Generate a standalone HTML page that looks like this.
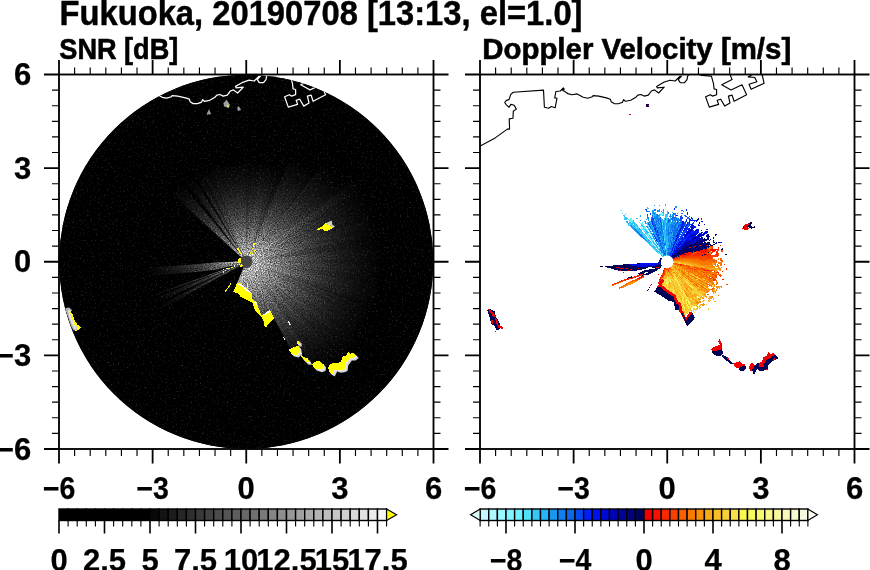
<!DOCTYPE html>
<html lang="en">
<head>
<meta charset="utf-8">
<title>Fukuoka, 20190708 [13:13, el=1.0]</title>
<style>
html,body{margin:0;padding:0;background:#fff;}
body{width:870px;height:570px;overflow:hidden;position:relative;}
svg{position:absolute;left:0;top:0;display:block;}
text{font-family:"Liberation Sans", "DejaVu Sans", sans-serif;font-weight:700;fill:#000;}
.t{font-size:35px;stroke:#000;stroke-width:0.45px;}
.k{font-size:31px;stroke:#000;stroke-width:0.25px;}
.s{font-size:30px;stroke:#000;stroke-width:0.6px;}
.m{text-anchor:middle;}
.e{text-anchor:end;}
</style>
</head>
<body>
<svg width="870" height="570" viewBox="0 0 870 570">
<rect width="870" height="570" fill="#fff"/>

<text class="t" x="59.5" y="25" textLength="523" lengthAdjust="spacingAndGlyphs">Fukuoka, 20190708 [13:13, el=1.0]</text>
<text class="s" x="59.3" y="58.8" textLength="119" lengthAdjust="spacingAndGlyphs">SNR [dB]</text>
<text class="s" x="482.2" y="58.8" textLength="309" lengthAdjust="spacingAndGlyphs">Doppler Velocity [m/s]</text>
<defs>
<clipPath id="cp1"><circle cx="246.25" cy="261.75" r="187.0"/></clipPath>
<filter id="nz" x="0" y="0" width="100%" height="100%" color-interpolation-filters="sRGB">
<feTurbulence type="fractalNoise" baseFrequency="0.55 0.55" numOctaves="2" seed="4" result="t"/>
<feColorMatrix in="t" type="matrix" values="0 0 0 0 1  0 0 0 0 1  0 0 0 0 1  0.6 0 0 0 -0.36"/>
</filter>
<filter id="gr" filterUnits="userSpaceOnUse" x="58" y="73" width="378" height="378" color-interpolation-filters="sRGB">
<feTurbulence type="fractalNoise" baseFrequency="0.85 0.85" numOctaves="2" seed="9" result="t"/>
<feColorMatrix in="t" type="matrix" values="1 0 0 0 0  1 0 0 0 0  1 0 0 0 0  0 0 0 0 1" result="n"/>
<feComposite in="SourceGraphic" in2="n" operator="arithmetic" k1="2.0" k2="0" k3="0" k4="0"/>
</filter>
<filter id="nz2" x="0" y="0" width="100%" height="100%" color-interpolation-filters="sRGB">
<feTurbulence type="fractalNoise" baseFrequency="0.95 0.95" numOctaves="1" seed="9" result="t"/>
<feColorMatrix in="t" type="matrix" values="0 0 0 0 0  0 0 0 0 0  0 0 0 0 0  1.4 0 0 0 -0.56"/>
</filter>
</defs>
<circle cx="246.25" cy="261.75" r="187.0" fill="#000"/>
<g clip-path="url(#cp1)">
<g filter="url(#gr)"><rect x="58" y="73" width="378" height="378" fill="#000"/>
<defs><radialGradient id="g0" gradientUnits="userSpaceOnUse" cx="246.25" cy="261.75" r="102"><stop offset="0.000" stop-color="#c0c0c0"/><stop offset="0.047" stop-color="#bababa"/><stop offset="0.100" stop-color="#b0b0b0"/><stop offset="0.167" stop-color="#9a9a9a"/><stop offset="0.267" stop-color="#767676"/><stop offset="0.400" stop-color="#505050"/><stop offset="0.533" stop-color="#343434"/><stop offset="0.667" stop-color="#1e1e1e"/><stop offset="0.833" stop-color="#0c0c0c"/><stop offset="1.000" stop-color="#000000"/></radialGradient><radialGradient id="g1" gradientUnits="userSpaceOnUse" cx="246.25" cy="261.75" r="114"><stop offset="0.000" stop-color="#c0c0c0"/><stop offset="0.047" stop-color="#bababa"/><stop offset="0.100" stop-color="#b0b0b0"/><stop offset="0.167" stop-color="#9a9a9a"/><stop offset="0.267" stop-color="#767676"/><stop offset="0.400" stop-color="#505050"/><stop offset="0.533" stop-color="#343434"/><stop offset="0.667" stop-color="#1e1e1e"/><stop offset="0.833" stop-color="#0c0c0c"/><stop offset="1.000" stop-color="#000000"/></radialGradient><radialGradient id="g2" gradientUnits="userSpaceOnUse" cx="246.25" cy="261.75" r="126"><stop offset="0.000" stop-color="#c0c0c0"/><stop offset="0.047" stop-color="#bababa"/><stop offset="0.100" stop-color="#b0b0b0"/><stop offset="0.167" stop-color="#9a9a9a"/><stop offset="0.267" stop-color="#767676"/><stop offset="0.400" stop-color="#505050"/><stop offset="0.533" stop-color="#343434"/><stop offset="0.667" stop-color="#1e1e1e"/><stop offset="0.833" stop-color="#0c0c0c"/><stop offset="1.000" stop-color="#000000"/></radialGradient><radialGradient id="g3" gradientUnits="userSpaceOnUse" cx="246.25" cy="261.75" r="138"><stop offset="0.000" stop-color="#c0c0c0"/><stop offset="0.047" stop-color="#bababa"/><stop offset="0.100" stop-color="#b0b0b0"/><stop offset="0.167" stop-color="#9a9a9a"/><stop offset="0.267" stop-color="#767676"/><stop offset="0.400" stop-color="#505050"/><stop offset="0.533" stop-color="#343434"/><stop offset="0.667" stop-color="#1e1e1e"/><stop offset="0.833" stop-color="#0c0c0c"/><stop offset="1.000" stop-color="#000000"/></radialGradient><radialGradient id="g4" gradientUnits="userSpaceOnUse" cx="246.25" cy="261.75" r="150"><stop offset="0.000" stop-color="#c0c0c0"/><stop offset="0.047" stop-color="#bababa"/><stop offset="0.100" stop-color="#b0b0b0"/><stop offset="0.167" stop-color="#9a9a9a"/><stop offset="0.267" stop-color="#767676"/><stop offset="0.400" stop-color="#505050"/><stop offset="0.533" stop-color="#343434"/><stop offset="0.667" stop-color="#1e1e1e"/><stop offset="0.833" stop-color="#0c0c0c"/><stop offset="1.000" stop-color="#000000"/></radialGradient></defs>
<path d="M242.2 258.0L171.2 192.7L172.4 191.4L172.4 191.4L173.6 190.1L173.6 190.1L174.9 188.9L174.9 188.9L176.2 187.6L176.2 187.6L177.5 186.4L177.5 186.4L178.8 185.2L178.8 185.2L180.1 184.1L180.1 184.1L181.5 182.9L242.8 257.5Z" fill="url(#g0)" fill-opacity="0.95"/>
<path d="M242.8 257.5L181.5 182.9L182.9 181.8L182.9 181.8L184.3 180.7L184.3 180.7L184.9 180.3L242.9 257.4Z" fill="url(#g0)" fill-opacity="0.12"/>
<path d="M242.9 257.4L184.9 180.3L186.3 179.2L186.3 179.2L187.7 178.2L187.7 178.2L189.2 177.2L189.2 177.2L190.7 176.2L190.7 176.2L192.0 175.3L243.3 257.1Z" fill="url(#g0)" fill-opacity="0.97"/>
<path d="M243.3 257.1L192.0 175.3L193.6 174.4L193.6 174.4L194.6 173.8L243.5 257.0Z" fill="url(#g0)" fill-opacity="0.2"/>
<path d="M243.5 257.0L194.6 173.8L196.2 172.9L196.2 172.9L197.7 172.0L197.7 172.0L199.3 171.2L199.3 171.2L199.5 171.1L243.7 256.9Z" fill="url(#g0)" fill-opacity="1"/>
<path d="M243.7 256.9L199.5 171.1L201.1 170.3L201.1 170.3L201.2 170.2L243.8 256.8Z" fill="url(#g0)" fill-opacity="0.35"/>
<path d="M243.8 256.8L201.2 170.2L202.8 169.5L202.8 169.5L203.1 169.3L243.9 256.8Z" fill="url(#g0)" fill-opacity="1"/>
<path d="M243.9 256.8L203.1 169.3L204.8 168.6L204.8 168.6L206.4 167.9L206.4 167.9L208.0 167.2L208.0 167.2L209.7 166.5L209.7 166.5L211.4 165.9L211.4 165.9L213.0 165.3L213.0 165.3L214.7 164.7L214.7 164.7L216.4 164.2L216.4 164.2L218.1 163.7L218.1 163.7L219.8 163.2L219.9 163.2L221.6 162.8L221.6 162.8L223.3 162.4L223.3 162.4L225.0 162.0L225.0 162.0L226.8 161.6L226.8 161.6L228.5 161.3L228.5 161.3L230.3 161.0L230.3 161.0L232.1 160.7L232.1 160.7L233.8 160.5L233.8 160.5L235.6 160.3L235.6 160.3L237.4 160.1L237.4 160.1L239.1 160.0L239.1 160.0L240.9 159.9L240.9 159.9L242.7 159.8L242.7 159.8L244.5 159.8L244.5 159.8L246.2 159.8L246.2 256.2Z" fill="url(#g0)" fill-opacity="1"/>
<path d="M246.2 256.2L246.2 159.8L248.0 159.8L248.0 159.8L249.8 159.8L249.8 159.8L251.6 159.9L251.6 159.9L253.4 160.0L253.4 160.0L255.1 160.1L255.1 160.1L256.9 160.3L256.9 160.3L258.7 160.5L258.7 160.5L260.4 160.7L260.4 160.7L262.2 161.0L262.2 161.0L264.0 161.3L264.0 161.3L265.7 161.6L265.7 161.6L267.5 162.0L267.5 162.0L269.2 162.4L269.2 162.4L270.9 162.8L270.9 162.8L272.6 163.2L272.6 163.2L274.4 163.7L274.4 163.7L276.1 164.2L276.1 164.2L277.8 164.7L277.8 164.7L279.5 165.3L279.5 165.3L281.1 165.9L281.1 165.9L282.8 166.5L282.8 166.5L284.5 167.2L284.5 167.2L290.8 156.8L248.4 256.7Z" fill="url(#g0)" fill-opacity="1"/>
<path d="M248.4 256.7L290.8 156.8L292.6 157.6L292.6 157.6L294.4 158.4L294.4 158.4L296.2 159.3L296.2 159.3L298.0 160.2L298.0 160.2L299.8 161.1L299.8 161.1L301.5 162.0L301.5 162.0L303.2 163.0L303.2 163.0L305.0 164.0L305.0 164.0L306.7 165.1L306.7 165.1L308.3 166.1L308.3 166.1L310.0 167.2L310.0 167.2L311.6 168.4L311.6 168.4L313.3 169.5L313.3 169.5L314.9 170.7L314.9 170.7L323.8 162.5L249.6 257.4Z" fill="url(#g1)" fill-opacity="1"/>
<path d="M249.6 257.4L323.8 162.5L325.5 163.8L325.5 163.8L327.2 165.2L327.2 165.2L328.9 166.7L328.9 166.7L330.6 168.1L330.6 168.1L332.2 169.6L332.2 169.6L333.8 171.1L333.8 171.1L335.3 172.7L335.3 172.7L336.9 174.2L336.9 174.2L338.4 175.8L338.4 175.8L339.9 177.4L339.9 177.4L341.3 179.1L341.3 179.1L342.8 180.8L342.8 180.8L344.2 182.5L344.2 182.5L345.5 184.2L345.5 184.2L356.5 178.7L250.6 258.4Z" fill="url(#g2)" fill-opacity="1"/>
<path d="M250.6 258.4L356.5 178.7L357.9 180.6L357.9 180.6L359.3 182.6L359.3 182.6L360.7 184.6L360.7 184.6L362.0 186.6L362.0 186.6L363.3 188.6L363.3 188.6L364.5 190.7L364.5 190.7L365.8 192.7L365.8 192.8L366.9 194.8L366.9 194.8L368.1 197.0L368.1 197.0L369.2 199.1L369.2 199.1L370.3 201.3L370.3 201.3L371.3 203.4L371.3 203.4L372.3 205.6L372.3 205.6L373.3 207.8L373.3 207.8L374.2 210.1L374.2 210.1L375.1 212.3L375.1 212.3L375.9 214.5L375.9 214.6L376.7 216.8L376.7 216.8L377.5 219.1L377.5 219.1L378.2 221.4L378.2 221.4L378.9 223.7L378.9 223.7L379.5 226.0L379.5 226.0L380.2 228.4L380.2 228.4L380.7 230.7L380.7 230.7L381.2 233.1L381.2 233.1L381.7 235.4L381.7 235.4L382.2 237.8L382.2 237.8L382.6 240.2L382.6 240.2L382.9 242.5L382.9 242.5L383.2 244.9L383.2 244.9L383.5 247.3L383.5 247.3L383.7 249.7L383.7 249.7L383.9 252.1L383.9 252.1L384.1 254.5L384.1 254.5L384.2 256.9L384.2 256.9L384.2 259.3L384.2 259.3L384.2 261.7L384.2 261.7L384.2 264.2L384.2 264.2L384.2 266.6L384.2 266.6L384.1 269.0L384.1 269.0L383.9 271.4L383.9 271.4L383.7 273.8L383.7 273.8L383.5 276.2L383.5 276.2L383.2 278.6L383.2 278.6L382.9 281.0L382.9 281.0L382.6 283.3L382.6 283.3L382.2 285.7L382.2 285.7L381.7 288.1L381.7 288.1L381.2 290.4L381.2 290.4L380.7 292.8L380.7 292.8L380.2 295.1L380.2 295.1L379.5 297.5L379.5 297.5L378.9 299.8L378.9 299.8L378.2 302.1L378.2 302.1L377.5 304.4L377.5 304.4L376.7 306.7L376.7 306.7L375.9 308.9L375.9 308.9L375.1 311.2L375.1 311.2L374.2 313.4L374.2 313.4L373.3 315.7L373.3 315.7L372.3 317.9L372.3 317.9L371.3 320.1L371.3 320.1L370.3 322.2L370.3 322.2L369.2 324.4L369.2 324.4L368.1 326.5L368.1 326.5L366.9 328.7L366.9 328.7L365.8 330.7L365.8 330.7L364.5 332.8L364.5 332.8L363.3 334.9L363.3 334.9L362.0 336.9L362.0 336.9L360.7 338.9L360.7 338.9L359.3 340.9L359.3 340.9L357.9 342.9L357.9 342.9L356.5 344.8L356.5 344.8L355.0 346.7L355.0 346.7L353.5 348.6L353.5 348.6L352.0 350.5L352.0 350.5L350.4 352.3L350.4 352.3L348.2 353.5L348.2 353.5L347.0 355.7L347.0 355.7L344.8 357.0L344.8 357.0L342.8 358.3L342.8 358.3L342.1 361.0L342.1 361.0L340.4 362.7L340.4 362.7L338.1 363.7L338.1 363.7L335.2 364.0L335.1 364.0L332.3 364.3L332.3 364.3L330.4 365.7L330.4 365.7L329.1 367.7L329.1 367.7L324.5 365.6L324.5 365.6L318.8 361.6L318.8 361.6L316.7 362.3L316.7 362.3L314.8 363.4L314.8 363.4L313.1 364.7L313.1 364.7L307.0 358.9L307.0 358.9L297.5 347.1L297.5 347.1L295.8 347.6L295.8 347.6L294.2 348.2L294.2 348.2L292.6 348.9L292.6 348.9L291.0 349.6L291.0 349.6L270.8 312.2L270.8 312.1L269.3 311.3L269.3 311.3L268.6 311.8L268.6 311.8L267.8 312.4L267.8 312.4L267.0 313.0L266.9 313.0L266.1 313.6L266.1 313.6L265.3 314.1L265.3 314.1L264.5 314.7L264.5 314.7L263.7 315.3L263.7 315.3L262.8 315.9L262.8 315.9L262.0 316.5L262.0 316.5L258.8 308.7L258.8 308.7L256.4 302.4L256.4 302.4L255.5 301.7L255.5 301.6L254.7 301.5L254.7 301.5L254.0 301.4L254.0 301.4L253.2 301.2L253.2 301.2L251.2 293.0L251.2 293.0L250.6 292.5L250.6 292.5L250.0 292.0L250.0 292.0L249.4 291.5L249.4 291.5L248.8 291.1L248.8 291.1L248.3 290.7L248.3 290.7L247.7 290.3L247.7 290.3L247.2 289.9L247.2 289.9L246.7 289.5L246.7 289.5L246.3 289.1L246.2 289.1L245.8 288.7L245.8 288.7L245.3 288.4L245.3 288.4L244.9 288.0L244.9 288.0L244.4 287.7L244.4 287.7L244.0 287.3L244.0 287.3L243.6 287.0L243.6 287.0L243.2 286.7L243.2 286.7L242.8 286.4L242.8 286.4L242.4 286.1L242.4 286.1L242.0 285.8L242.0 285.8L241.6 285.5L241.6 285.5L241.3 285.2L241.3 285.2L240.9 284.9L240.9 284.9L240.6 284.6L240.6 284.6L240.2 284.4L240.2 284.4L239.8 284.3L239.8 284.3L239.4 284.3L239.4 284.3L238.9 284.2L238.9 284.2L238.5 284.2L238.5 284.2L238.1 284.2L238.1 284.2L237.7 284.1L237.7 284.1L237.2 284.1L237.2 284.1L236.8 284.0L236.8 284.0L236.7 284.0L244.1 266.8Z" fill="url(#g3)" fill-opacity="1"/>
<path d="M235.3 252.1L169.9 194.2L171.0 192.8L235.5 251.9Z" fill="url(#g0)" fill-opacity="0.23"/>
<path d="M240.4 256.2L172.3 191.5L173.5 190.3L240.5 256.1Z" fill="#000" fill-opacity="0.05"/>
<path d="M237.6 253.2L173.5 190.3L174.8 189.0L237.7 253.1Z" fill="url(#g0)" fill-opacity="0.13"/>
<path d="M240.2 255.6L174.4 189.4L176.4 187.4L240.3 255.5Z" fill="#000" fill-opacity="0.07"/>
<path d="M240.7 255.7L177.3 186.5L178.7 185.4L240.8 255.6Z" fill="#000" fill-opacity="0.15"/>
<path d="M235.8 250.0L178.7 185.4L180.0 184.2L236.0 249.8Z" fill="url(#g0)" fill-opacity="0.11"/>
<path d="M236.6 250.5L180.0 184.2L181.4 183.0L236.8 250.3Z" fill="#000" fill-opacity="0.15"/>
<path d="M240.8 255.1L181.4 183.0L182.8 181.9L240.9 255.0Z" fill="#000" fill-opacity="0.17"/>
<path d="M240.3 254.1L183.2 181.6L186.6 179.0L240.6 253.9Z" fill="#000" fill-opacity="0.18"/>
<path d="M240.7 254.2L185.6 179.8L187.0 178.7L240.8 254.1Z" fill="#000" fill-opacity="0.06"/>
<path d="M239.1 251.7L187.0 178.7L188.5 177.7L239.2 251.6Z" fill="#000" fill-opacity="0.15"/>
<path d="M239.9 252.3L189.5 177.0L191.9 175.4L240.2 252.2Z" fill="#000" fill-opacity="0.09"/>
<path d="M242.2 255.4L191.4 175.7L193.0 174.8L242.3 255.3Z" fill="#000" fill-opacity="0.11"/>
<path d="M242.5 255.6L193.4 174.5L197.1 172.4L242.8 255.5Z" fill="#000" fill-opacity="0.14"/>
<path d="M241.0 252.0L197.6 172.1L199.2 171.3L241.1 251.9Z" fill="#000" fill-opacity="0.12"/>
<path d="M240.1 249.4L200.7 170.5L202.3 169.7L240.3 249.3Z" fill="url(#g0)" fill-opacity="0.27"/>
<path d="M240.6 249.0L205.1 168.4L207.7 167.3L241.0 248.8Z" fill="#000" fill-opacity="0.09"/>
<path d="M240.5 248.2L206.7 167.7L209.4 166.7L240.9 248.0Z" fill="#000" fill-opacity="0.14"/>
<path d="M243.0 253.5L208.9 166.8L210.5 166.2L243.1 253.4Z" fill="#000" fill-opacity="0.17"/>
<path d="M242.7 252.3L210.5 166.2L212.2 165.6L242.9 252.3Z" fill="url(#g0)" fill-opacity="0.15"/>
<path d="M243.1 252.5L213.4 165.2L216.1 164.3L243.4 252.4Z" fill="url(#g0)" fill-opacity="0.14"/>
<path d="M241.6 246.5L216.8 164.1L219.5 163.3L242.1 246.3Z" fill="url(#g0)" fill-opacity="0.22"/>
<path d="M244.2 254.8L217.8 163.8L221.9 162.7L244.5 254.7Z" fill="#000" fill-opacity="0.05"/>
<path d="M244.2 253.7L221.2 162.9L225.4 161.9L244.6 253.6Z" fill="#000" fill-opacity="0.08"/>
<path d="M243.3 247.5L225.4 161.9L228.2 161.4L243.7 247.4Z" fill="url(#g0)" fill-opacity="0.24"/>
<path d="M243.9 249.3L227.7 161.5L229.4 161.1L244.2 249.3Z" fill="#000" fill-opacity="0.14"/>
<path d="M245.1 254.3L231.2 160.9L232.9 160.6L245.3 254.3Z" fill="#000" fill-opacity="0.10"/>
<path d="M244.2 246.1L232.9 160.6L234.7 160.4L244.5 246.1Z" fill="#000" fill-opacity="0.06"/>
<path d="M244.9 250.5L234.2 160.5L237.0 160.2L245.2 250.5Z" fill="url(#g0)" fill-opacity="0.18"/>
<path d="M245.5 253.8L236.5 160.2L238.2 160.1L245.6 253.8Z" fill="#000" fill-opacity="0.10"/>
<path d="M245.2 247.0L238.8 160.0L243.0 159.8L245.8 246.9Z" fill="url(#g0)" fill-opacity="0.12"/>
<path d="M245.9 254.2L241.3 159.9L244.1 159.8L246.1 254.2Z" fill="#000" fill-opacity="0.11"/>
<path d="M246.1 247.9L245.4 159.8L247.1 159.8L246.4 247.9Z" fill="#000" fill-opacity="0.12"/>
<path d="M246.3 247.2L246.6 159.8L249.5 159.8L246.7 247.2Z" fill="#000" fill-opacity="0.14"/>
<path d="M246.6 246.1L248.4 159.8L251.2 159.9L247.0 246.2Z" fill="#000" fill-opacity="0.18"/>
<path d="M246.7 250.5L250.7 159.8L252.5 159.9L246.9 250.5Z" fill="#000" fill-opacity="0.07"/>
<path d="M247.3 247.4L253.7 160.0L256.6 160.3L247.7 247.5Z" fill="#000" fill-opacity="0.08"/>
<path d="M247.1 252.3L255.5 160.2L258.3 160.5L247.4 252.4Z" fill="url(#g0)" fill-opacity="0.24"/>
<path d="M247.3 251.7L256.6 160.3L260.8 160.8L247.7 251.7Z" fill="#000" fill-opacity="0.17"/>
<path d="M248.1 250.2L262.6 161.1L265.4 161.6L248.4 250.3Z" fill="url(#g0)" fill-opacity="0.28"/>
<path d="M249.0 246.6L264.3 161.4L267.1 161.9L249.4 246.6Z" fill="url(#g0)" fill-opacity="0.11"/>
<path d="M247.9 253.4L265.4 161.6L269.5 162.4L248.2 253.4Z" fill="url(#g0)" fill-opacity="0.22"/>
<path d="M248.4 252.3L268.8 162.3L273.0 163.3L248.8 252.4Z" fill="url(#g0)" fill-opacity="0.21"/>
<path d="M249.6 248.7L271.3 162.9L274.0 163.6L249.9 248.8Z" fill="url(#g0)" fill-opacity="0.25"/>
<path d="M249.5 249.6L272.3 163.1L276.4 164.3L250.0 249.7Z" fill="#000" fill-opacity="0.06"/>
<path d="M249.9 249.6L275.2 164.0L276.9 164.5L250.1 249.7Z" fill="#000" fill-opacity="0.15"/>
<path d="M248.8 253.7L276.9 164.5L278.6 165.0L248.9 253.7Z" fill="#000" fill-opacity="0.11"/>
<path d="M249.1 253.5L279.1 165.2L283.1 166.7L249.4 253.6Z" fill="#000" fill-opacity="0.18"/>
<path d="M250.6 249.6L280.8 165.8L284.8 167.3L251.1 249.7Z" fill="#000" fill-opacity="0.11"/>
<path d="M248.8 255.2L283.1 166.7L285.8 167.7L249.0 255.3Z" fill="#000" fill-opacity="0.07"/>
<path d="M251.7 248.0L288.6 155.9L293.0 157.8L252.3 248.3Z" fill="#000" fill-opacity="0.08"/>
<path d="M251.0 250.8L291.7 157.2L293.5 158.0L251.2 250.9Z" fill="url(#g1)" fill-opacity="0.19"/>
<path d="M252.6 247.6L293.0 157.8L295.9 159.1L253.0 247.7Z" fill="#000" fill-opacity="0.08"/>
<path d="M250.9 252.0L295.3 158.9L297.1 159.7L251.1 252.1Z" fill="#000" fill-opacity="0.09"/>
<path d="M250.1 254.3L298.9 160.6L300.6 161.6L250.3 254.4Z" fill="url(#g1)" fill-opacity="0.15"/>
<path d="M253.7 247.9L300.6 161.6L302.4 162.5L254.0 248.1Z" fill="#000" fill-opacity="0.11"/>
<path d="M251.4 252.7L302.4 162.5L304.1 163.5L251.5 252.8Z" fill="url(#g1)" fill-opacity="0.15"/>
<path d="M251.3 253.2L304.1 163.5L305.8 164.5L251.4 253.3Z" fill="#000" fill-opacity="0.17"/>
<path d="M252.4 252.1L307.5 165.6L309.2 166.7L252.6 252.2Z" fill="url(#g1)" fill-opacity="0.17"/>
<path d="M254.7 248.6L308.0 165.9L312.0 168.6L255.3 249.0Z" fill="url(#g1)" fill-opacity="0.22"/>
<path d="M252.9 252.4L312.0 168.6L314.5 170.5L253.1 252.6Z" fill="url(#g1)" fill-opacity="0.13"/>
<path d="M253.0 252.5L313.6 169.8L316.1 171.7L253.3 252.7Z" fill="#000" fill-opacity="0.08"/>
<path d="M254.1 251.5L323.0 161.8L324.7 163.1L254.3 251.6Z" fill="#000" fill-opacity="0.11"/>
<path d="M255.4 250.6L326.4 164.5L328.1 165.9L255.6 250.8Z" fill="#000" fill-opacity="0.05"/>
<path d="M252.2 254.7L327.6 165.5L330.2 167.8L252.4 254.9Z" fill="#000" fill-opacity="0.11"/>
<path d="M252.4 254.6L328.6 166.4L332.5 169.9L252.7 254.9Z" fill="url(#g2)" fill-opacity="0.09"/>
<path d="M253.9 253.3L330.9 168.4L333.5 170.8L254.2 253.5Z" fill="#000" fill-opacity="0.18"/>
<path d="M251.3 256.7L334.6 171.9L336.1 173.4L251.3 256.7Z" fill="url(#g2)" fill-opacity="0.25"/>
<path d="M255.1 252.9L335.7 173.0L338.1 175.5L255.4 253.2Z" fill="#000" fill-opacity="0.08"/>
<path d="M251.7 256.8L339.1 176.6L340.6 178.3L251.7 256.9Z" fill="#000" fill-opacity="0.09"/>
<path d="M257.5 251.8L340.6 178.3L342.1 179.9L257.6 252.0Z" fill="#000" fill-opacity="0.10"/>
<path d="M255.5 253.6L341.1 178.8L344.4 182.8L255.9 254.0Z" fill="url(#g2)" fill-opacity="0.08"/>
<path d="M257.5 252.2L342.5 180.4L345.8 184.5L257.9 252.7Z" fill="url(#g2)" fill-opacity="0.27"/>
<path d="M258.2 252.6L355.7 177.7L357.2 179.7L258.4 252.8Z" fill="url(#g3)" fill-opacity="0.22"/>
<path d="M257.9 253.0L356.8 179.1L359.0 182.2L258.1 253.4Z" fill="url(#g3)" fill-opacity="0.23"/>
<path d="M256.7 254.2L358.2 181.0L360.4 184.2L256.9 254.5Z" fill="url(#g3)" fill-opacity="0.17"/>
<path d="M255.6 255.3L360.0 183.6L361.3 185.6L255.7 255.5Z" fill="url(#g3)" fill-opacity="0.14"/>
<path d="M256.1 255.2L360.9 185.0L363.0 188.2L256.3 255.4Z" fill="url(#g3)" fill-opacity="0.18"/>
<path d="M252.7 257.7L362.6 187.6L363.9 189.6L252.7 257.8Z" fill="#000" fill-opacity="0.12"/>
<path d="M257.3 255.0L363.9 189.6L365.2 191.7L257.4 255.2Z" fill="#000" fill-opacity="0.15"/>
<path d="M260.0 253.6L365.2 191.7L366.4 193.8L260.2 253.9Z" fill="#000" fill-opacity="0.14"/>
<path d="M257.3 255.8L367.5 195.9L368.7 198.0L257.4 256.0Z" fill="#000" fill-opacity="0.16"/>
<path d="M258.2 255.7L369.4 199.5L371.1 203.0L258.3 256.1Z" fill="#000" fill-opacity="0.17"/>
<path d="M255.9 257.1L370.8 202.3L371.8 204.5L256.0 257.3Z" fill="#000" fill-opacity="0.07"/>
<path d="M257.2 256.8L371.8 204.5L372.8 206.7L257.3 257.0Z" fill="#000" fill-opacity="0.13"/>
<path d="M253.1 258.7L372.5 206.1L374.0 209.6L253.2 258.9Z" fill="url(#g3)" fill-opacity="0.23"/>
<path d="M252.8 259.0L373.7 208.9L374.6 211.2L252.8 259.2Z" fill="url(#g3)" fill-opacity="0.23"/>
<path d="M256.8 257.4L374.0 209.6L376.1 215.0L257.0 257.9Z" fill="#000" fill-opacity="0.14"/>
<path d="M254.1 258.9L376.1 215.0L377.3 218.6L254.2 259.1Z" fill="#000" fill-opacity="0.05"/>
<path d="M255.1 258.8L377.1 218.0L377.9 220.3L255.2 258.9Z" fill="url(#g3)" fill-opacity="0.18"/>
<path d="M257.3 258.2L377.6 219.6L378.8 223.2L257.4 258.5Z" fill="url(#g3)" fill-opacity="0.13"/>
<path d="M256.9 258.5L378.4 221.9L379.4 225.6L256.9 258.8Z" fill="#000" fill-opacity="0.07"/>
<path d="M258.7 258.3L379.2 224.9L379.9 227.2L258.7 258.5Z" fill="#000" fill-opacity="0.06"/>
<path d="M260.5 258.1L379.9 227.2L380.4 229.5L260.6 258.3Z" fill="#000" fill-opacity="0.13"/>
<path d="M260.7 258.1L380.0 227.9L381.3 233.5L260.8 258.7Z" fill="url(#g3)" fill-opacity="0.17"/>
<path d="M257.8 259.2L381.0 231.9L381.5 234.2L257.9 259.4Z" fill="url(#g3)" fill-opacity="0.14"/>
<path d="M259.1 259.0L381.1 232.6L382.2 238.3L259.2 259.5Z" fill="#000" fill-opacity="0.16"/>
<path d="M260.4 259.0L381.6 234.9L382.6 240.6L260.5 259.5Z" fill="#000" fill-opacity="0.06"/>
<path d="M260.6 259.3L382.2 238.3L382.8 242.1L260.6 259.7Z" fill="#000" fill-opacity="0.13"/>
<path d="M260.2 259.6L382.6 240.6L383.2 244.5L260.3 260.0Z" fill="#000" fill-opacity="0.17"/>
<path d="M259.0 260.0L383.0 243.0L383.4 246.8L259.0 260.4Z" fill="#000" fill-opacity="0.14"/>
<path d="M258.5 260.6L383.6 248.5L383.8 250.9L258.5 260.8Z" fill="#000" fill-opacity="0.16"/>
<path d="M253.8 261.1L383.7 249.2L384.1 255.0L253.8 261.4Z" fill="url(#g3)" fill-opacity="0.23"/>
<path d="M253.6 261.3L384.0 253.3L384.1 255.7L253.6 261.4Z" fill="#000" fill-opacity="0.07"/>
<path d="M257.1 261.5L384.2 258.1L384.2 260.5L257.1 261.7Z" fill="url(#g3)" fill-opacity="0.23"/>
<path d="M256.2 261.5L384.2 258.9L384.2 264.6L256.2 262.0Z" fill="#000" fill-opacity="0.17"/>
<path d="M253.9 261.8L384.2 263.0L384.2 265.4L253.9 262.0Z" fill="url(#g3)" fill-opacity="0.12"/>
<path d="M255.7 262.3L384.0 270.2L383.8 272.6L255.7 262.5Z" fill="url(#g3)" fill-opacity="0.19"/>
<path d="M253.5 262.3L383.8 272.6L383.6 275.0L253.5 262.4Z" fill="#000" fill-opacity="0.08"/>
<path d="M261.6 263.4L383.4 276.7L383.0 280.5L261.5 263.8Z" fill="#000" fill-opacity="0.15"/>
<path d="M260.8 263.5L383.3 278.1L382.5 283.8L260.7 264.1Z" fill="url(#g3)" fill-opacity="0.21"/>
<path d="M255.8 263.1L382.8 281.4L382.2 285.2L255.7 263.4Z" fill="#000" fill-opacity="0.15"/>
<path d="M253.5 263.0L382.4 284.5L381.9 286.9L253.4 263.1Z" fill="url(#g3)" fill-opacity="0.23"/>
<path d="M261.2 264.6L381.8 287.6L380.6 293.3L261.1 265.2Z" fill="url(#g3)" fill-opacity="0.21"/>
<path d="M255.5 263.9L380.6 293.3L379.7 297.0L255.5 264.2Z" fill="url(#g3)" fill-opacity="0.12"/>
<path d="M261.1 266.1L378.6 300.9L377.9 303.2L261.0 266.4Z" fill="#000" fill-opacity="0.07"/>
<path d="M253.0 263.8L378.1 302.6L376.9 306.2L252.9 264.0Z" fill="url(#g3)" fill-opacity="0.17"/>
<path d="M254.4 264.4L377.6 303.9L375.8 309.4L254.3 264.7Z" fill="#000" fill-opacity="0.15"/>
<path d="M260.8 266.8L376.6 307.1L375.3 310.8L260.7 267.2Z" fill="#000" fill-opacity="0.16"/>
<path d="M260.6 267.4L374.6 312.3L373.7 314.6L260.5 267.7Z" fill="#000" fill-opacity="0.15"/>
<path d="M256.9 266.1L373.7 314.6L372.8 316.8L256.8 266.3Z" fill="#000" fill-opacity="0.07"/>
<path d="M255.2 265.7L372.5 317.4L370.1 322.7L255.0 266.1Z" fill="#000" fill-opacity="0.16"/>
<path d="M254.0 265.5L370.8 321.2L369.8 323.3L254.0 265.6Z" fill="#000" fill-opacity="0.05"/>
<path d="M253.2 265.2L369.8 323.3L368.7 325.5L253.1 265.3Z" fill="url(#g3)" fill-opacity="0.16"/>
<path d="M257.2 267.5L368.7 325.5L367.5 327.6L257.1 267.7Z" fill="#000" fill-opacity="0.06"/>
<path d="M256.2 267.3L366.7 329.1L364.8 332.4L256.0 267.6Z" fill="#000" fill-opacity="0.04"/>
<path d="M257.9 268.6L365.2 331.8L363.9 333.9L257.8 268.8Z" fill="url(#g3)" fill-opacity="0.16"/>
<path d="M256.4 268.2L362.6 335.9L361.3 337.9L256.2 268.4Z" fill="#000" fill-opacity="0.10"/>
<path d="M258.3 269.6L361.7 337.3L359.6 340.5L258.1 270.0Z" fill="#000" fill-opacity="0.11"/>
<path d="M255.5 268.1L360.0 339.9L358.6 341.9L255.4 268.3Z" fill="#000" fill-opacity="0.06"/>
<path d="M254.0 267.3L358.6 341.9L357.2 343.8L253.9 267.4Z" fill="url(#g3)" fill-opacity="0.24"/>
<path d="M257.6 270.2L357.2 343.8L355.7 345.8L257.5 270.4Z" fill="url(#g3)" fill-opacity="0.13"/>
<path d="M257.0 270.4L353.8 348.2L350.1 352.6L256.6 270.8Z" fill="#000" fill-opacity="0.15"/>
<path d="M255.5 269.7L351.2 351.4L349.6 353.2L255.4 269.8Z" fill="url(#g3)" fill-opacity="0.26"/>
<path d="M256.4 270.7L349.0 352.6L347.4 354.4L256.2 270.9Z" fill="#000" fill-opacity="0.15"/>
<path d="M255.1 269.9L346.8 354.9L342.8 359.0L254.7 270.3Z" fill="#000" fill-opacity="0.15"/>
<path d="M252.9 268.3L343.7 357.5L342.0 359.2L252.8 268.4Z" fill="#000" fill-opacity="0.08"/>
<path d="M254.6 270.2L343.0 360.2L341.2 361.9L254.4 270.4Z" fill="url(#g3)" fill-opacity="0.14"/>
<path d="M256.0 272.4L339.0 362.9L337.2 364.5L255.8 272.6Z" fill="#000" fill-opacity="0.06"/>
<path d="M252.3 268.6L336.0 363.2L334.3 364.8L252.1 268.7Z" fill="#000" fill-opacity="0.08"/>
<path d="M252.9 269.5L333.7 363.1L330.8 365.5L252.7 269.7Z" fill="#000" fill-opacity="0.09"/>
<path d="M254.9 272.2L331.3 365.0L329.5 366.4L254.7 272.3Z" fill="#000" fill-opacity="0.13"/>
<path d="M254.1 271.7L330.0 367.0L328.1 368.5L254.0 271.8Z" fill="#000" fill-opacity="0.11"/>
<path d="M255.0 272.9L326.7 363.9L322.3 367.2L254.5 273.2Z" fill="#000" fill-opacity="0.15"/>
<path d="M252.9 270.7L319.7 361.0L317.9 362.2L252.7 270.8Z" fill="#000" fill-opacity="0.08"/>
<path d="M253.1 271.4L317.6 361.7L315.8 362.9L252.9 271.5Z" fill="#000" fill-opacity="0.10"/>
<path d="M253.7 272.6L315.3 363.3L311.0 366.1L253.2 272.9Z" fill="url(#g3)" fill-opacity="0.10"/>
<path d="M252.3 271.3L307.8 358.4L306.1 359.5L252.2 271.4Z" fill="#000" fill-opacity="0.04"/>
<path d="M253.6 274.1L297.0 346.9L294.6 348.3L253.3 274.3Z" fill="#000" fill-opacity="0.07"/>
<path d="M251.3 270.7L294.9 347.8L293.4 348.6L251.2 270.8Z" fill="#000" fill-opacity="0.11"/>
<path d="M251.9 273.0L271.3 311.9L270.4 312.4L251.7 273.1Z" fill="url(#g3)" fill-opacity="0.26"/>
<path d="M251.2 272.0L269.8 311.1L268.9 311.5L251.0 272.1Z" fill="#000" fill-opacity="0.06"/>
<path d="M252.0 274.3L269.0 311.7L268.1 312.0L251.7 274.4Z" fill="#000" fill-opacity="0.06"/>
<path d="M250.8 272.1L268.5 312.1L267.0 312.7L250.5 272.2Z" fill="#000" fill-opacity="0.17"/>
<path d="M251.7 274.9L267.4 312.8L266.5 313.2L251.5 275.0Z" fill="url(#g3)" fill-opacity="0.19"/>
<path d="M251.5 275.1L266.6 313.4L265.7 313.7L251.3 275.2Z" fill="#000" fill-opacity="0.04"/>
<path d="M250.4 272.6L266.0 313.9L264.6 314.4L250.1 272.7Z" fill="#000" fill-opacity="0.13"/>
<path d="M250.1 272.1L265.6 314.3L263.4 315.1L249.6 272.3Z" fill="url(#g3)" fill-opacity="0.19"/>
<path d="M249.8 273.0L263.3 315.8L262.3 316.0L249.6 273.1Z" fill="url(#g3)" fill-opacity="0.27"/>
<path d="M248.8 271.0L259.2 308.6L258.4 308.8L248.6 271.0Z" fill="#000" fill-opacity="0.12"/>
<path d="M249.4 273.8L257.0 302.3L255.8 302.5L249.1 273.9Z" fill="#000" fill-opacity="0.05"/>
<path d="M248.1 271.0L254.3 301.3L253.6 301.4L248.0 271.1Z" fill="#000" fill-opacity="0.18"/>
<path d="M248.8 276.6L251.6 292.9L250.8 293.0L248.4 276.7Z" fill="#000" fill-opacity="0.15"/>
<path d="M247.9 273.0L250.8 292.4L250.3 292.5L247.7 273.0Z" fill="url(#g3)" fill-opacity="0.25"/>
<path d="M248.4 277.4L250.4 292.0L249.5 292.1L248.0 277.4Z" fill="#000" fill-opacity="0.06"/>
<path d="M247.7 274.7L249.6 291.5L249.1 291.6L247.5 274.7Z" fill="url(#g3)" fill-opacity="0.16"/>
<path d="M247.7 276.9L249.1 291.1L248.6 291.1L247.4 276.9Z" fill="#000" fill-opacity="0.15"/>
<path d="M247.4 276.3L248.5 290.7L248.0 290.7L247.1 276.3Z" fill="url(#g3)" fill-opacity="0.16"/>
<path d="M246.9 276.7L247.5 289.8L247.0 289.9L246.6 276.7Z" fill="url(#g3)" fill-opacity="0.28"/>
<path d="M246.7 275.9L247.1 289.5L246.3 289.5L246.3 275.9Z" fill="#000" fill-opacity="0.08"/>
<path d="M246.4 274.4L246.5 289.1L246.0 289.1L246.1 274.4Z" fill="#000" fill-opacity="0.17"/>
<path d="M246.1 272.5L245.9 288.4L244.8 288.3L245.6 272.5Z" fill="#000" fill-opacity="0.05"/>
<path d="M245.8 271.5L245.1 288.0L244.6 288.0L245.7 271.5Z" fill="#000" fill-opacity="0.11"/>
<path d="M245.8 270.4L244.8 287.7L244.1 287.6L245.5 270.4Z" fill="#000" fill-opacity="0.12"/>
<path d="M245.4 272.6L244.2 287.3L243.8 287.3L245.2 272.6Z" fill="#000" fill-opacity="0.06"/>
<path d="M245.0 275.3L243.9 287.0L243.2 287.0L244.6 275.2Z" fill="#000" fill-opacity="0.05"/>
<path d="M245.1 271.6L243.4 286.7L243.0 286.7L245.0 271.5Z" fill="#000" fill-opacity="0.11"/>
<path d="M244.0 276.6L242.6 286.1L242.2 286.0L243.8 276.6Z" fill="url(#g3)" fill-opacity="0.27"/>
<path d="M245.1 268.7L242.2 285.8L241.8 285.7L245.0 268.6Z" fill="url(#g3)" fill-opacity="0.24"/>
<path d="M244.8 270.0L242.0 285.5L241.3 285.4L244.5 269.9Z" fill="url(#g3)" fill-opacity="0.10"/>
<path d="M243.7 275.1L241.8 285.3L240.8 285.1L243.1 275.0Z" fill="url(#g3)" fill-opacity="0.10"/>
<path d="M243.2 271.6L239.1 284.3L238.7 284.2L243.0 271.5Z" fill="url(#g3)" fill-opacity="0.27"/>
<path d="M242.5 272.2L238.3 284.2L237.9 284.1L242.4 272.2Z" fill="#000" fill-opacity="0.09"/>
<path d="M243.0 270.4L237.9 284.2L237.5 284.0L242.9 270.3Z" fill="url(#g3)" fill-opacity="0.23"/>
<path d="M240.8 261.6L216.3 262.5L194.3 264.6L144.4 268.0L145.2 275.9L195.3 272.0L217.3 269.5L241.0 263.4Z" fill="url(#g0)" fill-opacity="0.80"/>
<path d="M240.8 261.6L216.3 262.5L194.3 264.6L144.4 268.0L144.8 272.4L194.6 268.1L216.5 265.9L240.8 262.5Z" fill="url(#g0)" fill-opacity="0.50"/>
<path d="M240.8 261.6L216.3 262.5L194.3 264.6L144.4 268.0L144.6 269.6L194.4 265.9L216.3 263.8L240.8 262.1Z" fill="url(#g0)" fill-opacity="0.50"/>
<path d="M241.0 263.5L156.6 293.3L157.2 294.9L241.1 263.7Z" fill="url(#g0)" fill-opacity="1.00"/>
<path d="M241.1 263.8L157.9 296.7L159.9 301.3L241.3 264.1Z" fill="url(#g0)" fill-opacity="0.75"/>
<path d="M241.3 264.2L161.3 304.3L163.3 308.1L241.5 264.5Z" fill="url(#g0)" fill-opacity="0.68"/>
<path d="M241.3 264.1L191.9 287.1L192.4 288.2L241.3 264.2Z" fill="url(#g0)" fill-opacity="0.20"/>
<path d="M241.5 264.5L225.4 273.6L225.9 274.5L241.7 264.8Z" fill="url(#g0)" fill-opacity="0.30"/>
</g>
<rect x="59" y="74" width="376" height="376" filter="url(#nz)"/>
<circle cx="246.25" cy="261.75" r="6.3" fill="#464646"/>
<g shape-rendering="crispEdges">
<path fill="#ffff00"  d="M237.1 283.1L240.5 283.4L251.3 292.2L252.7 300.2L255.9 300.8L261.6 315.6L269.6 309.9L274.3 317.9L266.1 327.0L264.4 325.8L263.3 320.1L259.9 315.0L255.9 311.6L253.6 306.5L253.0 303.0L247.9 300.2L240.5 296.8L237.7 292.8L233.1 292.2L235.4 287.1Z"/>
<path fill="none" stroke="#fff" stroke-width="1.4" d="M238 284.6L241 285L250.6 293.2M254.6 302L257 304.6M264.5 314.6L269.6 311.2"/>
<path fill="#ffff00"  d="M230.4 283.4L231.4 284.0L225.6 292.0L224.8 291.4Z"/>
<path fill="none" stroke="#e8e8e8" stroke-width="1.1" d="M247.3 283L247.3 288.2M288.4 321.2L290.2 325M283.4 336.6L285 340.2"/>
<path fill="#ffff00" d="M249.0 254.4h1.4v1.4h-1.4ZM249.9 252.1h1.4v1.4h-1.4ZM250.9 249.8h1.4v1.4h-1.4ZM251.9 247.5h1.4v1.4h-1.4ZM252.5 245.3h1.4v1.4h-1.4ZM253.1 243.4h1.4v1.4h-1.4ZM252.0 252.8h1.4v1.4h-1.4ZM253.7 250.9h1.4v1.4h-1.4ZM254.3 249.5h1.4v1.4h-1.4ZM238.6 263.6h1.4v1.2h-1.4ZM236.6 264.1h1.4v1.2h-1.4ZM231.1 266.5h1.4v1.2h-1.4ZM228.4 267.8h1.4v1.2h-1.4ZM224.9 269.8h1.4v1.2h-1.4ZM222.8 271.3h1.4v1.2h-1.4Z"/>
<path fill="#f0f0f0" d="M233.9 265.4h1.3v1.2h-1.3ZM226.2 267.5h1.3v1.2h-1.3ZM223.0 269.0h1.3v1.2h-1.3Z"/>
<path d="M242.1 255.5L237.5 248.3" stroke="#ffff00" stroke-width="1.5" fill="none"/>
<path fill="#ffff00"  d="M238.2 258.6L240.6 258.2L240.8 262.6L238.4 262.8Z"/>
<path fill="#ffff00"  d="M240.0 265.0L242.4 264.2L242.8 266.4L240.2 267.2Z"/>
</g>
<filter id="bl" x="-20%" y="-20%" width="140%" height="140%"><feGaussianBlur stdDeviation="0.7"/></filter>
<g filter="url(#bl)">
<path fill="#d4d4d4"  d="M299.1 343.3L301.5 343.0L301.8 346.4L299.3 346.5Z"/>
<path fill="#e8e8e8"  d="M297.9 342.1L300.3 341.8L300.6 345.2L298.1 345.3Z"/>
<path fill="#d4d4d4"  d="M291.1 351.9L296.6 349.4L300.9 348.2L302.2 354.3L298.5 357.4L293.6 356.2Z"/>
<path fill="#e8e8e8"  d="M289.9 350.7L295.4 348.2L299.7 347.0L301.0 353.1L297.3 356.2L292.4 355.0Z"/>
<path fill="#d4d4d4"  d="M302.8 357.4L305.8 359.0L310.1 361.1L312.0 364.8L308.9 364.8L304.6 360.7Z"/>
<path fill="#e8e8e8"  d="M301.6 356.2L304.6 357.8L308.9 359.9L310.8 363.6L307.7 363.6L303.4 359.5Z"/>
<path fill="#d4d4d4"  d="M314.4 366.6L317.5 364.2L321.2 362.9L326.1 367.2L325.5 370.9L321.8 372.2L316.3 370.3Z"/>
<path fill="#e8e8e8"  d="M313.2 365.4L316.3 363.0L320.0 361.7L324.9 366.0L324.3 369.7L320.6 371.0L315.1 369.1Z"/>
<path fill="#d4d4d4"  d="M330.4 369.7L332.9 366.0L339.6 365.4L343.3 364.2L344.5 359.3L348.2 358.0L350.1 354.3L352.5 356.2L355.6 355.0L358.7 358.0L355.6 360.5L351.9 360.5L348.2 365.4L347.6 370.9L344.5 372.2L340.9 372.8L337.2 371.5L334.7 376.5L331.6 374.6Z"/>
<path fill="#e8e8e8"  d="M329.2 368.5L331.7 364.8L338.4 364.2L342.1 363.0L343.3 358.1L347.0 356.8L348.9 353.1L351.3 355.0L354.4 353.8L357.5 356.8L354.4 359.3L350.7 359.3L347.0 364.2L346.4 369.7L343.3 371.0L339.7 371.6L336.0 370.3L333.5 375.3L330.4 373.4Z"/>
</g>
<g shape-rendering="crispEdges">
<path fill="#ffff00"  d="M296.9 340.9L299.3 340.6L299.6 344.0L297.1 344.1Z"/>
<path fill="#ffff00"  d="M288.9 349.5L294.4 347.0L298.7 345.8L300.0 351.9L296.3 355.0L291.4 353.8Z"/>
<path fill="#ffff00"  d="M300.6 355.0L303.6 356.6L307.9 358.7L309.8 362.4L306.7 362.4L302.4 358.3Z"/>
<path fill="#ffff00"  d="M312.2 364.2L315.3 361.8L319.0 360.5L323.9 364.8L323.3 368.5L319.6 369.8L314.1 367.9Z"/>
<path fill="#ffff00"  d="M328.2 367.3L330.7 363.6L337.4 363.0L341.1 361.8L342.3 356.9L346.0 355.6L347.9 351.9L350.3 353.8L353.4 352.6L356.5 355.6L353.4 358.1L349.7 358.1L346.0 363.0L345.4 368.5L342.3 369.8L338.7 370.4L335.0 369.1L332.5 374.1L329.4 372.2Z"/>
</g>
<g filter="url(#bl)">
<path fill="#b4b4b4"  d="M65.2 308.3L69.2 307.4L72.2 310.5L69.2 312.2L72.2 317.1L74.0 324.1L77.1 326.3L77.1 329.8L73.5 330.4L70.9 325.8L68.3 317.9L66.1 311.8Z"/>
<path fill="#e0e0e0"  d="M67.8 310.5L70.0 310.0L73.5 324.1L76.6 326.7L76.6 329.3L74.9 329.8L72.2 324.9L69.2 317.1Z"/>
</g>
<path fill="#ffff00" shape-rendering="crispEdges" d="M68.3 311.8L70.0 310.9L72.2 313.5L74.9 320.6L77.5 324.9L81.4 327.1L79.2 329.3L76.6 330.6L74.4 331.5L73.5 331.1L76.6 329.8L76.6 326.3L73.5 324.1L71.8 317.1L70.0 313.1Z"/>
<g filter="url(#bl)">
<path fill="#d0d0d0"  d="M326.3 223.1L331.8 220.5L332.3 224.7L334.9 226.3L333.4 227.8L331.3 225.7L327.6 225.2Z"/>
</g>
<path fill="#ffff00" shape-rendering="crispEdges" d="M316.8 229.4L318.1 228.1L321.3 227.3L323.4 225.7L323.9 224.2L326.3 223.1L327.6 225.2L331.3 225.7L333.4 227.3L331.8 228.9L329.2 229.9L327.1 231.0L323.9 230.5L321.8 228.9L318.6 229.9Z"/>
<g filter="url(#bl)">
<path fill="#9a9a9a"  d="M208.9 109.3L211.3 114.2L206.5 114.6Z"/>
<path fill="#a0a0a0"  d="M226.6 99.7L229.8 104.5L229.0 108.1L224.2 106.5L223.4 103.3Z"/>
<path fill="#a0a0a0"  d="M238.6 106.1L241.1 110.1L237.8 110.9L237.2 108.1Z"/>
</g>
<path fill="#ffff00"  d="M227.0 104.9L228.6 105.3L229.0 107.1L227.4 107.3Z"/>
</g>
<path clip-path="url(#cp1)" d="M57.5 147.0L59.1 146.1L74.2 137.9L86.7 128.9L88.6 129.2L88.2 118.9L92.0 118.2L92.3 111.3L95.3 109.1L93.2 105.3L89.8 104.4L88.0 107.3L85.4 104.8L83.7 102.5L85.4 100.4L88.0 99.6L89.8 94.4L92.3 92.3L122.5 90.1L123.4 107.3L127.7 108.2L130.3 106.5L134.2 107.7L136.0 98.2L133.7 97.9L134.9 91.5L139.4 91.0L142.3 87.9L143.2 89.2L141.1 89.8L146.7 93.6L151.0 94.8L156.1 93.9L162.2 97.3L166.5 98.2L170.8 97.0L172.2 95.6L177.7 96.1L185.4 97.9L189.4 99.2L190.1 101.7L193.2 103.6L197.5 103.7L201.5 102.2L202.7 99.6L204.4 101.3L209.7 100.3L214.9 97.2L216.9 95.1L220.0 94.5L223.1 96.1L227.3 95.1L230.4 91.0L233.5 89.9L237.6 93.0L243.2 87.2L236.2 87.9L235.6 86.4L242.8 82.3L249.0 80.2L254.2 81.0L258.3 76.9L260.4 76.1L257.3 79.6L259.3 82.7L263.5 82.7L266.0 79.6L266.6 76.1L268.0 74.5M278.0 74.5L281.0 75.4L290.4 76.1L292.5 83.7L293.1 88.9L295.6 89.5L295.6 94.7L291.4 96.1L289.3 94.7L284.6 96.8L288.3 107.1L297.6 104.4L296.2 100.3L299.7 99.2L303.8 106.1L309.0 103.0L307.4 96.1L311.1 95.1L313.1 101.3L325.6 94.7L321.0 84.8L310.0 89.9L300.7 84.8L311.1 79.6L309.0 74.5M331.0 74.5L327.2 76.9L333.8 77.5L335.9 81.7L328.0 84.3L330.1 89.3L343.1 83.3L341.1 74.5" fill="none" stroke="#fff" stroke-width="1.25" stroke-linejoin="round"/>
<g shape-rendering="crispEdges">
<path fill="#50e0f8" d="M662.9 257.6L660.4 255.3L660.6 255.1L663.0 257.5ZM660.4 255.3L657.8 252.9L658.1 252.7L660.6 255.1ZM648.7 244.2L647.1 242.8L647.6 242.3L649.1 243.8ZM630.6 227.2L629.5 226.2L630.4 225.2L631.5 226.3ZM629.3 226.3L628.0 225.2L629.3 223.8L630.5 225.0ZM660.0 254.5L657.8 252.2L658.1 252.0L660.2 254.3ZM657.8 252.2L655.2 249.6L655.5 249.3L658.1 252.0ZM639.7 233.9L637.5 231.7L638.2 230.9L640.4 233.2ZM637.5 231.7L636.0 230.2L636.8 229.4L638.2 230.9ZM636.0 230.2L634.3 228.5L635.2 227.7L636.8 229.4ZM634.3 228.5L631.4 225.5L632.3 224.6L635.2 227.7ZM631.2 225.7L629.5 224.0L630.9 222.7L632.5 224.4ZM624.2 218.7L623.3 217.8L624.9 216.3L625.7 217.2ZM655.5 249.5L652.2 246.0L652.6 245.7L655.8 249.2ZM663.2 257.3L660.2 254.2L660.4 254.0L663.3 257.2ZM660.2 254.2L657.1 250.7L657.3 250.5L660.4 254.0ZM647.3 240.1L645.4 238.1L646.0 237.6L647.8 239.6ZM639.8 232.0L638.0 230.1L638.8 229.3L640.5 231.3ZM636.2 228.1L634.6 226.3L635.5 225.5L637.0 227.3ZM632.2 223.6L631.0 222.4L631.9 221.6L633.0 222.9ZM630.4 222.9L629.2 221.6L631.3 219.7L632.5 221.1ZM661.5 255.4L658.7 252.1L658.9 251.9L661.7 255.2ZM655.8 248.9L652.5 245.2L652.9 244.8L656.1 248.6ZM652.5 245.2L650.1 242.5L650.6 242.0L652.9 244.8ZM650.1 242.5L647.5 239.5L648.0 239.1L650.6 242.0ZM647.5 239.5L645.7 237.6L646.3 237.1L648.0 239.1ZM645.7 237.6L642.8 234.3L643.5 233.7L646.3 237.1ZM639.9 231.1L637.5 228.4L638.4 227.7L640.7 230.4ZM637.5 228.4L634.6 225.2L635.6 224.4L638.4 227.7ZM663.3 257.2L661.4 254.9L661.5 254.8L663.5 257.1ZM662.1 255.1L659.9 252.2L660.1 252.0L662.3 255.0ZM656.5 247.8L654.3 244.9L654.7 244.6L656.8 247.5ZM649.9 239.3L648.5 237.5L649.1 237.0L650.5 238.9ZM648.5 237.5L645.5 233.7L646.2 233.1L649.1 237.0ZM661.7 254.3L659.3 251.0L659.5 250.8L661.9 254.2ZM656.3 247.1L655.1 245.5L655.5 245.2L656.7 246.8ZM655.1 245.5L653.4 243.2L653.9 242.8L655.5 245.2ZM653.4 243.2L651.3 240.4L651.8 240.0L653.9 242.8ZM646.9 234.5L644.4 231.1L645.2 230.6L647.6 234.0ZM663.7 256.9L661.0 253.0L661.2 252.9L663.9 256.8ZM661.0 253.0L658.7 249.9L659.0 249.7L661.2 252.9ZM658.7 249.9L656.5 246.8L656.9 246.5L659.0 249.7ZM652.2 240.9L650.9 239.0L651.5 238.6L652.8 240.5ZM650.9 239.0L649.6 237.2L650.2 236.8L651.5 238.6ZM645.6 231.7L643.2 228.3L644.1 227.7L646.4 231.1ZM661.4 253.3L659.7 250.8L660.0 250.7L661.6 253.1ZM653.1 241.3L651.6 239.2L652.2 238.8L653.6 240.9ZM644.1 229.3L643.1 228.0L644.9 226.7L645.8 228.1ZM663.9 256.8L662.7 254.9L662.9 254.8L664.0 256.7ZM652.2 239.2L650.2 236.2L650.8 235.7L652.8 238.9ZM664.2 256.6L661.7 252.5L662.0 252.3L664.3 256.5ZM661.7 252.5L660.7 250.7L661.0 250.5L662.0 252.3ZM660.7 250.7L658.5 247.0L658.8 246.8L661.0 250.5ZM651.2 234.8L649.0 231.0L649.7 230.5L651.9 234.4ZM662.7 253.5L661.0 250.4L661.3 250.3L662.9 253.3ZM652.5 234.8L651.3 232.7L652.0 232.3L653.2 234.4ZM647.1 224.9L646.7 224.2L647.6 223.7L648.0 224.5ZM665.0 245.3L664.4 240.9L665.0 240.9L665.4 245.2ZM664.4 240.9L664.2 238.9L664.7 238.8L665.0 240.9ZM664.2 238.9L663.6 234.5L664.2 234.4L664.7 238.8ZM663.2 232.1L662.9 229.5L663.7 229.4L664.0 232.0ZM662.3 225.5L662.1 223.5L663.0 223.3L663.2 225.4ZM661.3 221.8L661.1 220.5L663.3 220.3L663.4 221.5ZM665.2 229.6L664.8 224.8L665.8 224.7L666.0 229.5ZM665.7 229.8L665.6 226.9L666.5 226.8L666.5 229.8ZM665.3 218.3L665.2 215.9L666.1 215.9L666.2 218.3ZM666.5 237.1L666.4 232.2L667.1 232.2L667.1 237.1ZM666.1 223.2L666.0 219.9L667.0 219.9L667.1 223.2ZM666.1 219.0L666.0 217.9L666.9 217.9L667.0 219.0ZM667.1 253.2L667.1 250.8L667.4 250.8L667.4 253.2ZM622.2 214.6L621.5 213.8L622.6 212.7L623.3 213.5Z"/>
<path fill="#38c8f8" d="M657.8 252.9L655.3 250.5L655.6 250.2L658.1 252.7ZM655.3 250.5L652.4 247.8L652.8 247.4L655.6 250.2ZM652.4 247.8L650.3 245.8L650.7 245.4L652.8 247.4ZM643.5 239.4L640.7 236.8L641.4 236.1L644.1 238.8ZM638.9 235.1L637.3 233.6L638.0 232.8L639.6 234.4ZM637.3 233.6L635.5 231.8L636.2 231.0L638.0 232.8ZM635.5 231.8L633.0 229.5L633.8 228.6L636.2 231.0ZM663.0 257.5L661.5 255.9L661.6 255.8L663.1 257.4ZM655.2 249.6L652.0 246.4L652.4 246.0L655.5 249.3ZM652.0 246.4L649.3 243.6L649.8 243.2L652.4 246.0ZM649.3 243.6L647.2 241.5L647.7 241.0L649.8 243.2ZM629.2 224.3L628.2 223.4L630.3 221.4L631.2 222.4ZM625.4 220.6L623.8 219.1L626.1 216.9L627.6 218.5ZM658.1 252.2L655.5 249.5L655.8 249.2L658.4 252.0ZM652.2 246.0L650.2 243.9L650.7 243.5L652.6 245.7ZM650.2 243.9L648.7 242.4L649.2 241.9L650.7 243.5ZM648.7 242.4L647.2 240.8L647.8 240.3L649.2 241.9ZM647.2 240.8L645.2 238.7L645.8 238.1L647.8 240.3ZM645.2 238.7L642.9 236.3L643.5 235.7L645.8 238.1ZM636.2 229.3L634.6 227.6L635.5 226.8L637.0 228.5ZM631.3 225.2L630.0 223.9L632.1 222.0L633.3 223.4ZM630.4 223.5L629.2 222.4L630.6 221.1L631.7 222.3ZM624.7 217.1L623.3 215.6L624.3 214.7L625.7 216.2ZM657.1 250.7L654.9 248.4L655.3 248.1L657.3 250.5ZM645.4 238.1L642.8 235.2L643.5 234.6L646.0 237.6ZM642.8 235.2L639.8 232.0L640.5 231.3L643.5 234.6ZM638.0 230.1L636.2 228.1L637.0 227.3L638.8 229.3ZM634.6 226.3L633.6 225.3L634.5 224.5L635.5 225.5ZM642.8 234.3L639.9 231.1L640.7 230.4L643.5 233.7ZM634.6 225.2L632.2 222.5L633.2 221.6L635.6 224.4ZM655.3 247.9L653.5 245.8L653.9 245.5L655.7 247.6ZM653.5 245.8L651.6 243.6L652.1 243.2L653.9 245.5ZM648.4 239.9L645.7 236.7L646.3 236.2L649.0 239.4ZM645.7 236.7L644.4 235.2L645.0 234.6L646.3 236.2ZM644.4 235.2L642.4 232.9L643.1 232.3L645.0 234.6ZM642.4 232.9L640.3 230.4L641.1 229.7L643.1 232.3ZM638.5 228.4L635.5 224.9L636.5 224.1L639.4 227.7ZM635.5 224.9L633.2 222.2L634.2 221.3L636.5 224.1ZM660.8 254.0L658.5 251.2L658.7 251.0L661.0 253.8ZM658.5 251.2L658.3 251.0L658.6 250.8L658.7 251.0ZM659.9 252.2L657.9 249.7L658.2 249.4L660.1 252.0ZM657.9 249.7L656.5 247.8L656.8 247.5L658.2 249.4ZM654.3 244.9L652.9 243.3L653.4 242.9L654.7 244.6ZM645.5 233.7L643.5 231.0L644.2 230.4L646.2 233.1ZM663.7 256.9L661.7 254.3L661.9 254.2L663.8 256.9ZM659.3 251.0L656.3 247.1L656.7 246.8L659.5 250.8ZM656.5 246.8L653.8 243.0L654.2 242.7L656.9 246.5ZM647.7 234.6L645.6 231.7L646.4 231.1L648.4 234.1ZM643.2 228.3L642.4 227.2L643.3 226.6L644.1 227.7ZM642.3 227.3L641.4 226.1L642.6 225.2L643.5 226.5ZM641.6 225.9L640.4 224.3L641.2 223.7L642.4 225.4ZM663.8 256.8L661.4 253.3L661.6 253.1L664.0 256.7ZM659.7 250.8L657.8 248.1L658.2 247.9L660.0 250.7ZM655.6 245.0L653.1 241.3L653.6 240.9L656.1 244.7ZM643.4 227.8L642.6 226.5L643.8 225.7L644.6 226.9ZM658.5 247.0L656.8 244.2L657.3 243.9L658.8 246.8ZM653.1 238.0L651.2 234.8L651.9 234.4L653.7 237.6ZM649.0 231.0L647.6 228.7L648.4 228.2L649.7 230.5ZM647.6 228.7L647.3 228.1L648.1 227.6L648.4 228.2ZM661.0 250.4L659.9 248.3L660.2 248.1L661.3 250.3ZM658.3 245.4L656.1 241.5L656.6 241.2L658.7 245.2ZM646.2 224.5L645.4 223.2L647.5 222.1L648.2 223.4ZM664.8 256.3L663.4 252.9L663.6 252.8L665.0 256.2ZM651.1 225.0L649.3 221.0L650.4 220.5L652.0 224.6ZM659.4 242.9L658.0 239.7L658.6 239.4L659.9 242.8ZM653.1 228.1L651.7 224.5L652.6 224.1L654.0 227.7ZM664.0 251.5L662.9 248.0L663.2 247.9L664.2 251.4ZM660.4 240.3L659.0 236.1L659.7 235.9L660.9 240.2ZM654.9 223.1L654.2 220.8L655.2 220.5L655.9 222.8ZM653.6 221.0L652.9 218.9L655.2 218.3L655.8 220.4ZM653.6 218.7L652.9 216.6L653.9 216.3L654.5 218.5ZM653.0 216.5L652.3 214.3L654.8 213.6L655.4 215.8ZM659.7 228.5L658.9 224.8L659.8 224.6L660.6 228.3ZM666.0 255.9L665.3 252.6L665.6 252.5L666.2 255.8ZM666.3 255.8L666.0 253.7L666.2 253.7L666.5 255.8ZM666.0 253.7L665.6 250.8L665.8 250.8L666.2 253.7ZM664.9 246.4L664.2 241.8L664.7 241.7L665.3 246.4ZM664.2 241.8L663.7 238.8L664.3 238.7L664.7 241.7ZM660.3 220.2L659.9 218.0L662.2 217.7L662.5 219.9ZM665.9 251.5L665.6 249.3L665.9 249.3L666.1 251.5ZM663.6 234.5L663.2 232.1L664.0 232.0L664.2 234.4ZM662.9 229.5L662.3 225.5L663.2 225.4L663.7 229.4ZM661.5 223.5L661.3 221.8L663.4 221.5L663.5 223.3ZM666.5 255.8L666.3 253.6L666.5 253.6L666.7 255.8ZM666.3 253.6L666.0 250.9L666.2 250.9L666.5 253.6ZM664.4 237.7L663.9 233.2L664.6 233.2L665.0 237.6ZM663.9 233.2L663.5 229.6L664.3 229.5L664.6 233.2ZM666.7 255.8L666.2 251.1L666.5 251.1L666.8 255.8ZM665.7 246.6L665.5 244.4L666.0 244.4L666.1 246.6ZM665.2 241.1L664.9 238.5L665.5 238.4L665.7 241.1ZM664.9 238.5L664.5 234.3L665.2 234.3L665.5 238.4ZM662.4 215.8L662.2 213.5L663.9 213.4L664.0 215.7ZM665.0 235.0L664.7 231.3L665.5 231.2L665.7 234.9ZM666.1 244.6L666.0 241.9L666.5 241.9L666.6 244.6ZM666.0 241.9L665.7 237.2L666.3 237.1L666.5 241.9ZM664.6 221.3L664.5 219.6L665.6 219.6L665.6 221.3ZM664.3 219.6L664.2 218.4L665.7 218.3L665.8 219.5ZM666.5 245.9L666.3 241.9L666.8 241.9L666.9 245.9ZM665.6 226.9L665.5 224.3L666.4 224.2L666.5 226.8ZM665.5 224.3L665.2 219.6L666.3 219.6L666.4 224.2ZM666.6 240.4L666.5 237.1L667.1 237.1L667.1 240.4ZM665.7 217.9L665.7 216.9L667.2 216.8L667.2 217.9ZM665.3 216.9L665.2 214.4L667.7 214.4L667.6 216.8ZM667.0 243.1L667.0 239.5L667.5 239.5L667.5 243.1ZM667.0 239.5L666.9 236.5L667.6 236.5L667.5 239.5ZM666.9 236.5L666.9 233.2L667.6 233.2L667.6 236.5ZM666.8 229.7L666.8 227.4L667.7 227.4L667.7 229.7ZM666.8 227.4L666.8 224.1L667.7 224.1L667.7 227.4ZM666.8 222.5L666.8 220.2L667.7 220.2L667.7 222.5ZM666.5 220.2L666.5 219.2L668.0 219.2L668.0 220.2ZM667.3 247.6L667.3 243.1L667.8 243.1L667.7 247.6ZM667.2 213.9L667.2 212.8L669.0 212.8L668.9 213.9ZM668.4 240.9L668.7 236.2L669.4 236.2L669.0 240.9ZM670.1 224.1L670.3 221.6L671.3 221.7L671.0 224.2ZM671.2 226.1L671.6 222.1L672.6 222.3L672.1 226.2ZM673.4 220.4L673.7 218.3L674.6 218.4L674.2 220.5ZM673.3 224.7L673.9 221.3L674.9 221.5L674.2 224.9ZM669.6 248.9L670.1 246.2L670.5 246.3L669.9 249.0ZM637.1 219.8L635.9 218.2L637.0 217.4L638.1 219.0ZM647.3 209.0L646.8 207.6L648.1 207.2L648.6 208.5ZM653.0 211.0L652.7 210.0L654.0 209.7L654.2 210.7Z"/>
<path fill="#28b4f8" d="M650.3 245.8L648.7 244.2L649.1 243.8L650.7 245.4ZM647.1 242.8L643.5 239.4L644.1 238.8L647.6 242.3ZM640.7 236.8L638.9 235.1L639.6 234.4L641.4 236.1ZM633.0 229.5L630.6 227.2L631.5 226.3L633.8 228.6ZM628.3 224.9L627.3 224.0L628.1 223.1L629.1 224.1ZM623.7 220.5L623.7 220.5L624.5 219.6L624.5 219.6ZM648.0 243.0L646.2 241.2L646.7 240.7L648.5 242.5ZM661.5 255.9L660.0 254.5L660.2 254.3L661.6 255.8ZM647.2 241.5L644.3 238.6L644.9 238.0L647.7 241.0ZM663.1 257.4L661.0 255.3L661.2 255.1L663.2 257.3ZM640.7 234.0L637.8 231.0L638.6 230.2L641.4 233.4ZM637.8 231.0L636.2 229.3L637.0 228.5L638.6 230.2ZM633.1 225.9L631.9 224.6L632.7 223.9L633.9 225.2ZM654.9 248.4L652.5 245.8L652.9 245.5L655.3 248.1ZM629.8 221.0L629.1 220.2L629.9 219.4L630.7 220.3ZM658.7 252.1L655.8 248.9L656.1 248.6L658.9 251.9ZM659.9 253.2L656.9 249.7L657.2 249.4L660.1 253.0ZM651.6 243.6L648.4 239.9L649.0 239.4L652.1 243.2ZM633.2 222.2L631.8 220.5L632.8 219.6L634.2 221.3ZM663.4 257.1L660.8 254.0L661.0 253.8L663.5 257.0ZM663.5 257.1L660.5 253.4L660.8 253.2L663.6 257.0ZM653.8 243.0L652.2 240.9L652.8 240.5L654.2 242.7ZM651.6 239.2L649.8 236.5L650.4 236.1L652.2 238.8ZM649.8 236.5L648.3 234.4L649.0 234.0L650.4 236.1ZM648.3 234.4L647.1 232.7L647.9 232.2L649.0 234.0ZM647.1 232.7L644.5 229.0L645.4 228.4L647.9 232.2ZM642.8 226.3L641.5 224.4L642.2 223.8L643.6 225.8ZM648.2 233.2L646.0 229.9L646.8 229.4L648.9 232.7ZM656.8 244.2L654.8 240.7L655.3 240.4L657.3 243.9ZM654.8 240.7L653.1 238.0L653.7 237.6L655.3 240.4ZM664.3 256.5L663.1 254.4L663.3 254.3L664.4 256.5ZM661.1 251.0L659.1 247.5L659.5 247.3L661.4 250.9ZM650.0 231.6L648.6 229.1L649.5 228.7L650.8 231.2ZM648.6 229.1L647.6 227.4L648.5 226.9L649.5 228.7ZM647.7 227.3L647.0 226.1L647.8 225.7L648.4 226.9ZM653.7 233.6L652.4 230.9L653.2 230.5L654.4 233.3ZM650.3 226.5L648.7 223.2L649.7 222.8L651.1 226.0ZM664.7 256.3L662.7 251.9L663.0 251.8L664.9 256.2ZM662.7 251.9L661.0 248.1L661.3 248.0L663.0 251.8ZM661.0 248.1L659.1 244.1L659.6 243.9L661.3 248.0ZM655.3 235.8L654.2 233.4L654.9 233.1L656.0 235.5ZM652.2 229.0L651.2 227.0L652.1 226.6L653.0 228.6ZM663.4 252.9L661.5 248.7L661.9 248.6L663.6 252.8ZM658.0 239.7L657.2 237.7L657.8 237.4L658.6 239.4ZM651.7 224.5L651.5 224.0L652.4 223.6L652.6 224.1ZM650.9 224.2L650.2 222.6L652.3 221.7L652.9 223.4ZM663.0 249.8L661.7 246.2L662.1 246.1L663.3 249.7ZM660.8 243.9L659.6 240.5L660.2 240.3L661.3 243.7ZM657.4 231.0L656.3 227.6L657.2 227.3L658.2 230.7ZM656.3 227.6L654.9 223.1L655.9 222.8L657.2 227.3ZM651.9 214.6L651.5 213.2L653.2 212.7L653.6 214.1ZM664.5 252.5L663.7 250.1L664.0 250.0L664.7 252.4ZM663.7 250.1L663.1 247.8L663.4 247.7L664.0 250.0ZM663.1 247.8L662.4 245.7L662.8 245.6L663.4 247.7ZM662.4 245.7L661.1 241.2L661.6 241.1L662.8 245.6ZM661.1 241.2L660.0 237.7L660.6 237.5L661.6 241.1ZM655.4 222.5L654.6 219.7L655.7 219.4L656.4 222.2ZM661.4 241.1L660.2 236.6L660.8 236.4L662.0 240.9ZM654.2 217.8L653.6 215.5L656.0 214.8L656.5 217.2ZM664.5 251.1L663.7 248.4L664.1 248.3L664.7 251.0ZM658.8 229.4L657.8 225.9L658.7 225.6L659.6 229.2ZM657.8 225.9L656.8 222.0L657.8 221.8L658.7 225.6ZM656.8 222.0L655.7 217.8L656.8 217.5L657.8 221.8ZM655.4 216.2L654.8 213.9L655.8 213.6L656.3 216.0ZM654.0 214.1L653.5 212.1L656.1 211.5L656.5 213.4ZM665.0 252.5L664.5 250.5L664.8 250.4L665.2 252.5ZM664.5 250.5L663.6 246.9L664.0 246.8L664.8 250.4ZM662.0 240.4L661.2 237.0L661.8 236.9L662.6 240.3ZM662.5 240.8L661.7 237.3L662.3 237.1L663.1 240.7ZM662.0 236.6L661.3 233.2L662.1 233.1L662.7 236.4ZM659.5 224.4L658.9 221.3L659.9 221.1L660.4 224.2ZM658.4 219.2L657.8 216.4L659.0 216.2L659.5 218.9ZM664.8 248.6L663.9 244.1L664.4 244.1L665.1 248.6ZM662.6 237.1L662.0 234.3L662.7 234.1L663.2 237.0ZM662.0 234.3L661.6 231.7L662.3 231.6L662.7 234.1ZM659.7 221.7L659.2 219.4L660.3 219.2L660.7 221.5ZM658.7 217.9L658.4 216.1L660.0 215.8L660.3 217.6ZM665.6 250.8L664.9 246.4L665.3 246.4L665.8 250.8ZM663.0 234.2L662.6 231.6L663.4 231.4L663.7 234.1ZM662.3 229.4L661.7 225.6L662.6 225.4L663.1 229.2ZM661.4 223.4L660.9 220.1L661.9 219.9L662.3 223.3ZM659.4 215.0L659.2 213.6L661.7 213.3L661.9 214.6ZM666.0 250.9L665.6 247.7L666.0 247.7L666.2 250.9ZM662.7 222.5L662.6 221.2L663.4 221.1L663.5 222.4ZM662.6 221.2L662.3 219.2L663.2 219.1L663.4 221.1ZM666.2 251.1L665.7 246.6L666.1 246.6L666.5 251.1ZM664.5 234.3L664.1 230.6L664.9 230.5L665.2 234.3ZM664.1 230.6L663.7 226.6L664.6 226.5L664.9 230.5ZM663.3 222.0L663.1 220.5L664.2 220.4L664.3 221.9ZM662.2 213.5L662.0 211.6L663.7 211.4L663.9 213.4ZM666.6 253.3L666.2 249.3L666.5 249.3L666.8 253.3ZM666.2 249.3L666.1 247.3L666.4 247.3L666.5 249.3ZM666.1 247.3L665.7 243.0L666.2 242.9L666.4 247.3ZM665.7 243.0L665.3 238.0L665.9 238.0L666.2 242.9ZM665.3 238.0L665.0 235.0L665.7 234.9L665.9 238.0ZM664.7 231.3L664.4 227.5L665.3 227.4L665.5 231.2ZM664.4 227.5L664.1 223.0L665.0 222.9L665.3 227.4ZM664.1 223.0L663.8 220.3L664.9 220.2L665.0 222.9ZM666.9 255.8L666.6 252.1L666.9 252.1L667.0 255.8ZM666.5 249.9L666.3 247.7L666.7 247.7L666.8 249.9ZM666.3 247.7L666.1 244.6L666.6 244.6L666.7 247.7ZM665.7 237.2L665.4 233.6L666.1 233.5L666.3 237.1ZM665.4 233.6L665.2 229.6L666.0 229.5L666.1 233.5ZM664.8 224.8L664.6 221.3L665.6 221.3L665.8 224.7ZM666.8 252.8L666.6 248.6L667.0 248.6L667.0 252.8ZM666.6 248.6L666.5 245.9L666.9 245.9L667.0 248.6ZM666.3 241.9L666.2 239.4L666.7 239.4L666.8 241.9ZM666.2 239.4L666.0 236.3L666.7 236.3L666.7 239.4ZM665.9 233.0L665.7 229.8L666.5 229.8L666.6 233.0ZM667.0 252.2L666.8 248.2L667.2 248.2L667.2 252.2ZM666.7 243.5L666.6 240.4L667.1 240.4L667.2 243.5ZM666.0 219.9L666.0 219.0L667.0 219.0L667.0 219.9ZM667.1 250.8L667.1 248.4L667.4 248.4L667.4 250.8ZM667.1 248.4L667.0 245.6L667.5 245.6L667.4 248.4ZM667.0 245.6L667.0 243.1L667.5 243.1L667.5 245.6ZM666.9 233.2L666.8 229.7L667.7 229.7L667.6 233.2ZM666.5 219.2L666.5 217.7L668.0 217.7L668.0 219.2ZM666.7 213.2L666.7 210.7L667.8 210.7L667.8 213.2ZM667.3 255.8L667.3 250.8L667.6 250.8L667.4 255.8ZM667.3 243.1L667.4 238.3L668.0 238.3L667.8 243.1ZM667.4 238.3L667.4 235.6L668.0 235.6L668.0 238.3ZM667.4 229.2L667.4 226.4L668.3 226.4L668.2 229.2ZM668.1 225.5L668.1 222.6L669.1 222.7L669.0 225.5ZM667.7 249.5L667.9 246.5L668.2 246.5L668.0 249.6ZM668.5 231.6L668.6 227.6L669.5 227.6L669.2 231.6ZM668.6 227.6L668.8 222.6L669.8 222.7L669.5 227.6ZM668.8 222.6L668.8 221.7L669.9 221.7L669.8 222.7ZM667.6 255.8L667.9 251.3L668.1 251.3L667.7 255.8ZM668.2 245.7L668.4 240.9L669.0 240.9L668.6 245.8ZM668.9 232.2L669.2 227.5L670.1 227.6L669.7 232.2ZM669.8 219.4L669.9 217.0L670.8 217.0L670.6 219.5ZM667.7 255.8L668.0 251.2L668.3 251.3L667.8 255.8ZM668.2 248.9L668.6 244.0L669.0 244.1L668.5 248.9ZM668.6 244.0L668.8 240.5L669.4 240.5L669.0 244.1ZM671.8 213.4L672.0 211.8L673.0 211.9L672.8 213.5ZM669.0 245.9L669.3 243.3L669.7 243.3L669.4 246.0ZM670.0 236.7L670.5 232.4L671.2 232.5L670.6 236.8ZM671.0 232.4L671.6 228.0L672.4 228.2L671.7 232.5ZM669.4 247.1L669.9 243.7L670.3 243.7L669.7 247.2ZM670.4 240.2L670.9 236.8L671.5 236.9L670.9 240.2ZM673.0 222.5L673.3 220.4L674.3 220.6L673.9 222.7ZM671.5 235.5L671.9 233.1L672.7 233.2L672.2 235.6ZM674.6 217.2L674.8 215.9L675.8 216.1L675.6 217.3ZM670.6 243.5L671.1 240.8L671.6 240.9L671.0 243.6ZM671.1 240.8L671.6 237.9L672.2 238.0L671.6 240.9ZM672.2 234.5L672.7 231.8L673.4 231.9L672.9 234.7ZM674.4 219.1L674.7 217.1L677.1 217.5L676.6 219.6ZM668.4 255.9L669.2 252.0L669.4 252.0L668.6 255.9ZM673.4 230.9L674.0 228.1L674.8 228.3L674.2 231.1ZM674.4 226.1L674.9 223.6L675.8 223.8L675.2 226.3ZM676.8 226.9L677.5 224.4L678.4 224.6L677.7 227.1ZM678.1 222.1L678.3 221.4L679.3 221.7L679.1 222.3ZM670.8 249.7L672.0 245.5L672.4 245.6L671.1 249.8ZM669.1 256.1L669.8 254.1L670.0 254.2L669.3 256.1ZM673.5 242.9L674.5 239.9L675.0 240.1L673.9 243.1ZM675.2 244.9L676.8 241.6L677.3 241.8L675.6 245.1ZM640.5 216.6L639.8 215.6L641.0 214.9L641.6 216.0ZM664.6 205.6L664.5 203.5L665.9 203.5L666.0 205.6ZM658.8 206.5L658.6 205.1L660.0 205.0L660.2 206.3Z"/>
<path fill="#70f0fc" d="M627.3 224.0L626.0 222.7L626.8 221.8L628.1 223.1ZM644.3 238.6L642.6 236.8L643.2 236.2L644.9 238.0ZM642.6 236.8L639.7 233.9L640.4 233.2L643.2 236.2ZM652.5 245.8L649.6 242.7L650.1 242.2L652.9 245.5ZM663.3 257.3L661.5 255.4L661.7 255.2L663.4 257.2ZM631.7 222.9L630.2 221.3L632.3 219.4L633.8 221.1ZM630.2 221.3L628.5 219.5L630.8 217.5L632.3 219.4ZM656.9 249.7L655.3 247.9L655.7 247.6L657.2 249.4ZM663.6 257.0L662.1 255.1L662.3 255.0L663.7 256.9ZM652.9 243.3L649.9 239.3L650.5 238.9L653.4 242.9ZM643.5 231.0L641.5 228.5L642.3 227.8L644.2 230.4ZM641.5 228.5L640.1 226.7L641.0 226.0L642.3 227.8ZM651.3 240.4L649.2 237.6L649.8 237.1L651.8 240.0ZM649.2 237.6L646.9 234.5L647.6 234.0L649.8 237.1ZM639.8 223.4L639.1 222.5L640.0 221.9L640.6 222.9ZM662.7 254.9L661.0 252.4L661.2 252.2L662.9 254.8ZM661.0 252.4L659.3 249.9L659.6 249.7L661.2 252.2ZM659.3 249.9L657.1 246.6L657.5 246.3L659.6 249.7ZM657.1 246.6L654.5 242.6L654.9 242.3L657.5 246.3ZM646.0 229.9L643.7 226.5L644.6 225.9L646.8 229.4ZM642.0 224.3L641.2 223.2L642.6 222.3L643.3 223.5ZM664.4 256.5L662.7 253.5L662.9 253.3L664.5 256.4ZM654.5 238.5L652.5 234.8L653.2 234.4L655.1 238.2ZM651.3 232.7L649.1 228.7L650.0 228.3L652.0 232.3ZM649.1 228.7L647.1 224.9L648.0 224.5L650.0 228.3ZM666.4 255.8L665.9 251.5L666.1 251.5L666.6 255.8ZM666.6 252.1L666.5 249.9L666.8 249.9L666.9 252.1ZM666.8 224.1L666.8 222.5L667.7 222.5L667.7 224.1ZM625.6 215.0L624.6 213.9L625.8 212.9L626.7 214.0Z"/>
<path fill="#1898f0" d="M663.0 257.6L661.4 256.0L661.5 255.9L663.1 257.5ZM658.6 253.3L657.0 251.7L657.2 251.5L658.8 253.1ZM654.8 249.6L653.1 248.0L653.5 247.6L655.1 249.3ZM646.2 241.2L644.4 239.4L644.9 238.9L646.7 240.7ZM633.8 229.2L630.7 226.1L631.6 225.2L634.7 228.3ZM627.8 223.1L626.0 221.4L626.9 220.5L628.6 222.3ZM642.9 236.3L640.7 234.0L641.4 233.4L643.5 235.7ZM634.6 227.6L633.1 226.0L634.0 225.1L635.5 226.8ZM649.6 242.7L647.3 240.1L647.8 239.6L650.1 242.2ZM661.4 254.9L659.9 253.2L660.1 253.0L661.5 254.8ZM640.3 230.4L638.5 228.4L639.4 227.7L641.1 229.7ZM657.8 248.1L655.6 245.0L656.1 244.7L658.2 247.9ZM661.6 253.0L660.4 251.1L660.7 250.9L661.8 252.8ZM659.7 249.6L659.3 249.0L659.8 248.8L660.1 249.3ZM647.1 228.2L646.0 226.4L647.3 225.7L648.3 227.5ZM656.9 243.7L655.7 241.6L656.2 241.3L657.4 243.4ZM654.0 238.6L652.3 235.5L652.9 235.2L654.6 238.3ZM645.7 223.9L645.1 222.7L645.9 222.2L646.5 223.5ZM645.1 222.7L644.2 221.1L645.0 220.6L645.9 222.2ZM664.5 256.4L663.2 254.1L663.4 254.0L664.6 256.4ZM659.4 246.9L658.0 244.2L658.4 243.9L659.8 246.7ZM646.6 220.5L646.1 219.5L647.0 219.1L647.5 220.1ZM661.6 250.1L660.7 248.1L661.0 247.9L661.9 249.9ZM660.7 248.1L658.8 244.2L659.3 244.0L661.0 247.9ZM658.8 244.2L657.1 240.7L657.6 240.4L659.3 244.0ZM652.4 230.9L650.3 226.5L651.1 226.0L653.2 230.5ZM648.7 223.2L648.2 222.2L649.2 221.8L649.7 222.8ZM659.1 244.1L658.1 241.9L658.6 241.7L659.6 243.9ZM656.3 238.1L655.3 235.8L656.0 235.5L656.9 237.8ZM654.2 233.4L652.2 229.0L653.0 228.6L654.9 233.1ZM651.2 227.0L649.6 223.4L650.6 223.0L652.1 226.6ZM649.6 223.4L648.7 221.4L649.7 221.0L650.6 223.0ZM648.8 221.4L647.8 219.2L648.7 218.8L649.6 221.0ZM647.1 219.5L646.4 218.1L648.8 217.1L649.3 218.5ZM661.5 248.7L659.6 244.3L660.0 244.1L661.9 248.6ZM659.6 244.3L658.0 240.6L658.5 240.4L660.0 244.1ZM658.0 240.6L656.1 236.4L656.8 236.2L658.5 240.4ZM656.1 236.4L654.8 233.5L655.6 233.2L656.8 236.2ZM654.8 233.5L653.1 229.5L653.9 229.1L655.6 233.2ZM653.1 229.5L651.1 225.0L652.0 224.6L653.9 229.1ZM660.3 245.2L659.4 242.9L659.9 242.8L660.7 245.0ZM657.2 237.7L656.2 235.3L656.8 235.0L657.8 237.4ZM656.2 235.3L654.3 230.9L655.1 230.6L656.8 235.0ZM654.3 230.9L653.1 228.1L654.0 227.7L655.1 230.6ZM657.2 233.7L655.5 229.0L656.3 228.7L657.9 233.4ZM662.9 248.0L661.4 243.6L661.9 243.4L663.2 247.9ZM661.4 243.6L660.4 240.3L660.9 240.2L661.9 243.4ZM665.5 256.0L664.5 252.5L664.7 252.4L665.7 256.0ZM660.0 237.7L658.8 233.7L659.5 233.5L660.6 237.5ZM658.8 233.7L658.2 231.7L659.0 231.5L659.5 233.5ZM658.2 231.7L657.3 228.5L658.1 228.2L659.0 231.5ZM657.3 228.5L656.2 225.0L657.1 224.8L658.1 228.2ZM654.6 219.7L653.8 216.8L654.9 216.5L655.7 219.4ZM653.8 216.8L653.6 216.3L654.7 216.0L654.9 216.5ZM652.7 214.2L652.0 212.0L653.8 211.5L654.4 213.7ZM664.3 251.3L663.5 248.5L663.9 248.4L664.6 251.2ZM662.3 244.2L661.4 241.1L662.0 240.9L662.8 244.1ZM657.5 227.0L656.4 223.1L657.4 222.9L658.4 226.8ZM665.7 255.9L665.2 253.8L665.4 253.7L665.9 255.9ZM663.7 248.4L662.5 243.8L663.0 243.7L664.1 248.3ZM661.3 239.0L660.2 234.9L660.9 234.7L661.9 238.9ZM659.4 231.9L658.8 229.4L659.6 229.2L660.2 231.7ZM655.7 217.8L655.3 216.2L656.4 216.0L656.8 217.5ZM658.6 226.4L657.8 222.9L658.7 222.7L659.5 226.2ZM657.8 222.9L657.2 220.5L658.2 220.3L658.7 222.7ZM656.0 216.5L655.5 214.8L657.2 214.4L657.6 216.2ZM664.6 249.8L663.5 245.0L663.9 244.9L664.9 249.8ZM663.5 245.0L663.0 243.0L663.5 242.9L663.9 244.9ZM660.6 232.5L659.7 228.5L660.6 228.3L661.4 232.3ZM664.7 249.5L663.8 245.2L664.2 245.1L665.0 249.4ZM663.3 242.7L662.6 239.2L663.1 239.0L663.8 242.6ZM662.6 239.2L662.0 236.6L662.7 236.4L663.1 239.0ZM660.3 228.4L659.5 224.4L660.4 224.2L661.2 228.2ZM658.9 221.3L658.4 219.2L659.5 218.9L659.9 221.1ZM657.8 216.4L657.6 215.2L658.8 215.0L659.0 216.2ZM663.9 244.1L663.3 241.1L663.9 241.0L664.4 244.1ZM660.3 225.1L659.7 221.7L660.7 221.5L661.2 224.9ZM666.2 255.8L665.5 251.3L665.7 251.3L666.4 255.8ZM665.1 249.0L664.3 244.7L664.8 244.7L665.4 249.0ZM658.5 212.0L658.1 209.6L659.9 209.3L660.2 211.7ZM663.7 238.8L663.0 234.2L663.7 234.1L664.3 238.7ZM662.6 231.6L662.3 229.4L663.1 229.2L663.4 231.4ZM661.7 225.6L661.4 223.4L662.3 223.3L662.6 225.4ZM665.6 247.7L665.1 243.6L665.6 243.6L666.0 247.7ZM664.8 240.7L664.4 237.7L665.0 237.6L665.3 240.6ZM663.5 229.6L663.0 225.7L663.9 225.6L664.3 229.5ZM663.0 225.7L662.6 222.5L663.6 222.4L663.9 225.6ZM661.6 213.3L661.4 210.9L662.4 210.8L662.7 213.2ZM665.5 244.4L665.2 241.1L665.7 241.1L666.0 244.4ZM663.7 226.6L663.3 222.0L664.3 221.9L664.6 226.5ZM666.8 255.8L666.6 253.3L666.8 253.3L666.9 255.8ZM667.0 255.8L666.8 252.8L667.0 252.8L667.1 255.8ZM666.0 236.3L665.9 233.0L666.6 233.0L666.7 236.3ZM667.1 255.8L667.0 252.2L667.2 252.2L667.2 255.8ZM666.8 248.2L666.7 243.5L667.2 243.5L667.2 248.2ZM666.4 232.2L666.2 227.4L667.1 227.4L667.1 232.2ZM666.2 227.4L666.1 223.2L667.1 223.2L667.1 227.4ZM667.2 255.8L667.1 253.2L667.4 253.2L667.3 255.8ZM667.3 250.8L667.3 247.6L667.7 247.6L667.6 250.8ZM667.4 235.6L667.4 231.3L668.2 231.3L668.0 235.6ZM667.4 226.4L667.4 222.5L668.4 222.5L668.3 226.4ZM667.4 222.5L667.5 219.6L668.5 219.6L668.4 222.5ZM667.5 219.6L667.5 218.0L668.6 218.0L668.5 219.6ZM668.0 220.3L668.0 218.9L669.5 219.0L669.4 220.4ZM668.2 237.9L668.3 234.5L669.0 234.6L668.8 238.0ZM669.2 227.5L669.4 224.2L670.3 224.3L670.1 227.6ZM669.4 224.2L669.6 221.1L670.6 221.2L670.3 224.3ZM669.6 221.1L669.7 219.4L670.7 219.5L670.6 221.2ZM669.2 216.9L669.3 215.8L671.7 215.9L671.5 217.1ZM668.0 251.2L668.2 248.9L668.5 248.9L668.3 251.3ZM668.8 240.5L669.2 235.9L669.8 235.9L669.4 240.5ZM669.2 235.9L669.6 231.0L670.3 231.1L669.8 235.9ZM669.6 231.0L669.7 228.5L670.6 228.6L670.3 231.1ZM669.7 228.5L670.1 224.1L671.0 224.2L670.6 228.6ZM670.3 221.6L670.4 219.8L671.4 219.9L671.3 221.7ZM667.8 255.8L668.2 251.0L668.5 251.1L668.0 255.8ZM669.0 242.5L669.4 239.0L669.9 239.0L669.5 242.5ZM669.4 239.0L669.8 234.3L670.5 234.3L669.9 239.0ZM670.2 230.1L670.4 227.3L671.3 227.4L671.0 230.2ZM670.7 223.9L670.9 221.8L672.0 221.9L671.7 224.0ZM667.9 255.8L668.2 253.5L668.4 253.5L668.1 255.8ZM668.2 253.5L668.5 250.8L668.7 250.8L668.4 253.5ZM668.5 250.8L669.0 245.9L669.4 246.0L668.7 250.8ZM671.9 217.9L672.1 215.6L673.7 215.8L673.4 218.0ZM671.7 215.6L671.9 213.7L674.4 214.0L674.1 215.9ZM668.6 251.4L669.0 248.0L669.4 248.0L668.8 251.4ZM672.0 224.7L672.6 220.3L673.6 220.4L672.9 224.9ZM672.6 220.3L672.7 218.8L673.8 219.0L673.6 220.4ZM670.9 236.8L671.5 232.5L672.2 232.6L671.5 236.9ZM669.9 245.4L670.5 241.8L671.0 241.9L670.3 245.4ZM670.9 239.3L671.5 235.5L672.2 235.6L671.5 239.4ZM671.9 233.1L672.7 228.1L673.6 228.3L672.7 233.2ZM669.1 251.8L669.6 248.9L669.9 249.0L669.3 251.8ZM670.1 246.2L670.6 243.5L671.0 243.6L670.5 246.3ZM671.6 237.9L672.2 234.5L672.9 234.7L672.2 238.0ZM672.7 231.8L673.3 228.3L674.2 228.4L673.4 231.9ZM673.3 228.3L674.1 223.7L675.1 223.9L674.2 228.4ZM669.2 252.0L670.0 248.0L670.3 248.1L669.4 252.0ZM670.0 248.0L670.6 245.0L671.0 245.1L670.3 248.1ZM671.1 242.3L672.0 238.2L672.5 238.3L671.6 242.4ZM672.0 238.2L672.7 234.6L673.3 234.7L672.5 238.3ZM674.9 223.6L675.5 220.5L676.5 220.8L675.8 223.8ZM675.5 220.5L675.6 219.8L676.7 220.0L676.5 220.8ZM676.9 213.7L677.1 212.7L678.2 213.0L677.9 214.0ZM668.5 255.9L669.5 251.2L669.8 251.3L668.7 255.9ZM673.4 233.4L674.0 230.8L674.8 231.0L674.1 233.5ZM675.0 223.4L675.5 221.3L677.6 221.8L677.0 223.9ZM671.6 243.2L672.5 239.7L673.0 239.8L672.1 243.3ZM671.5 245.0L672.4 241.4L672.9 241.5L671.9 245.1ZM675.9 227.7L676.9 223.8L677.9 224.0L676.8 227.9ZM677.6 221.4L678.2 219.2L679.1 219.5L678.5 221.6ZM668.8 256.0L670.0 251.7L670.3 251.7L669.0 256.0ZM670.0 251.7L670.5 249.7L670.8 249.8L670.3 251.7ZM677.5 224.4L678.1 222.1L679.1 222.3L678.4 224.6ZM668.9 256.0L669.8 253.1L670.0 253.2L669.1 256.0ZM676.1 231.3L676.9 228.8L677.7 229.1L676.9 231.5ZM672.2 246.7L673.5 242.9L673.9 243.1L672.6 246.8ZM675.6 236.6L676.2 234.5L676.9 234.8L676.2 236.8ZM676.2 234.5L677.2 231.7L677.9 232.0L676.9 234.8ZM677.2 231.7L677.9 229.4L678.7 229.7L677.9 232.0ZM677.9 229.4L678.6 227.4L679.4 227.7L678.7 229.7ZM678.6 227.4L679.5 224.7L680.4 225.1L679.4 227.7ZM679.5 224.7L679.9 223.4L680.9 223.7L680.4 225.1ZM680.0 223.4L680.6 221.5L681.5 221.8L680.8 223.7ZM678.8 236.1L680.6 232.2L681.3 232.5L679.5 236.4ZM683.9 225.1L684.9 223.0L686.9 224.0L685.8 226.1ZM675.1 207.9L675.4 205.9L676.8 206.2L676.4 208.1ZM652.5 212.5L651.8 210.4L653.1 210.0L653.7 212.1ZM653.8 206.6L653.5 205.1L654.8 204.8L655.1 206.2ZM663.1 210.8L662.9 208.9L664.2 208.8L664.3 210.7Z"/>
<path fill="#1080f0" d="M661.4 256.0L658.6 253.3L658.8 253.1L661.5 255.9ZM653.1 248.0L651.2 246.1L651.6 245.7L653.5 247.6ZM651.2 246.1L648.0 243.0L648.5 242.5L651.6 245.7ZM644.4 239.4L641.4 236.5L642.0 235.9L644.9 238.9ZM639.7 234.9L637.4 232.6L638.1 231.9L640.4 234.2ZM637.4 232.6L633.8 229.2L634.7 228.3L638.1 231.9ZM660.5 253.4L658.5 250.8L658.8 250.6L660.8 253.2ZM660.4 251.1L659.3 249.3L659.6 249.1L660.7 250.9ZM664.1 256.6L662.3 253.7L662.5 253.6L664.2 256.6ZM662.3 253.7L659.7 249.6L660.0 249.4L662.5 253.6ZM663.1 254.4L661.1 251.0L661.4 250.9L663.3 254.3ZM659.1 247.5L656.9 243.7L657.4 243.4L659.5 247.3ZM655.7 241.6L654.0 238.6L654.6 238.3L656.2 241.3ZM652.3 235.5L650.0 231.6L650.8 231.2L652.9 235.2ZM663.2 254.1L661.4 250.6L661.7 250.4L663.4 254.0ZM661.4 250.6L659.4 246.9L659.8 246.7L661.7 250.4ZM656.3 241.6L655.8 240.7L656.9 240.1L657.4 241.0ZM664.6 256.4L663.3 253.9L663.5 253.8L664.7 256.3ZM658.3 243.9L657.2 241.9L657.7 241.6L658.7 243.7ZM651.6 230.6L650.1 227.8L651.0 227.3L652.4 230.2ZM663.7 254.3L661.6 250.1L661.9 249.9L663.9 254.2ZM657.1 240.7L655.2 236.8L655.9 236.5L657.6 240.4ZM655.2 236.8L653.7 233.6L654.4 233.3L655.9 236.5ZM658.1 241.9L656.3 238.1L656.9 237.8L658.6 241.7ZM646.8 218.0L646.3 216.8L647.9 216.1L648.4 217.3ZM664.9 256.2L663.7 253.2L663.9 253.1L665.1 256.2ZM663.7 253.2L662.0 249.2L662.3 249.1L663.9 253.1ZM664.0 253.2L663.2 251.0L663.5 250.9L664.2 253.1ZM662.0 247.8L660.6 244.2L661.0 244.0L662.3 247.7ZM653.2 224.5L652.2 221.9L653.2 221.5L654.1 224.2ZM651.5 220.8L651.0 219.4L652.5 218.8L653.0 220.2ZM651.3 219.3L650.5 217.2L651.4 216.9L652.2 218.9ZM665.2 256.1L664.2 253.2L664.4 253.1L665.4 256.1ZM661.7 246.2L660.8 243.9L661.3 243.7L662.1 246.1ZM659.6 240.5L658.6 237.6L659.2 237.4L660.2 240.3ZM658.6 237.6L657.2 233.7L657.9 233.4L659.2 237.4ZM655.5 229.0L654.0 224.8L654.9 224.5L656.3 228.7ZM652.7 222.9L652.3 221.7L654.4 220.9L654.8 222.2ZM652.6 221.5L652.2 220.5L653.7 220.0L654.0 221.0ZM661.8 245.8L661.0 243.2L661.4 243.0L662.2 245.6ZM665.4 256.0L664.0 251.5L664.2 251.4L665.6 256.0ZM659.0 236.1L658.3 233.8L659.0 233.6L659.7 235.9ZM658.3 233.8L657.4 231.0L658.2 230.7L659.0 233.6ZM656.2 225.0L655.4 222.5L656.4 222.2L657.1 224.8ZM665.6 256.0L664.3 251.3L664.6 251.2L665.8 255.9ZM663.5 248.5L662.3 244.2L662.8 244.1L663.9 248.4ZM659.0 232.4L658.1 229.3L658.9 229.1L659.7 232.2ZM654.9 219.9L654.2 217.8L656.5 217.2L657.1 219.3ZM654.0 215.4L653.4 213.5L655.1 213.0L655.6 214.9ZM662.5 243.8L661.3 239.0L661.9 238.9L663.0 243.7ZM660.2 234.9L659.4 231.9L660.2 231.7L660.9 234.7ZM663.6 246.9L662.5 242.4L663.0 242.3L664.0 246.8ZM662.5 242.4L662.0 240.4L662.6 240.3L663.0 242.3ZM661.2 237.0L660.5 234.3L661.2 234.1L661.8 236.9ZM659.5 230.0L658.6 226.4L659.5 226.2L660.3 229.8ZM657.2 220.5L656.5 217.8L657.6 217.6L658.2 220.3ZM655.9 218.0L655.6 216.6L658.0 216.1L658.2 217.4ZM654.6 210.9L654.2 209.3L656.0 208.9L656.3 210.4ZM665.1 252.2L664.6 249.8L664.9 249.8L665.3 252.1ZM661.7 237.3L660.6 232.5L661.4 232.3L662.3 237.1ZM657.6 218.8L657.1 216.6L658.2 216.3L658.6 218.6ZM656.1 215.1L655.8 213.9L658.3 213.4L658.5 214.6ZM665.3 252.6L664.7 249.5L665.0 249.4L665.6 252.5ZM663.8 245.2L663.3 242.7L663.8 242.6L664.2 245.1ZM661.3 233.2L660.3 228.4L661.2 228.2L662.1 233.1ZM657.1 212.1L656.7 210.6L657.8 210.4L658.1 211.9ZM665.7 253.5L664.8 248.6L665.1 248.6L665.9 253.5ZM661.6 231.7L660.9 228.3L661.8 228.1L662.3 231.6ZM660.9 228.3L660.3 225.1L661.2 224.9L661.8 228.1ZM659.3 219.3L659.0 217.8L659.9 217.6L660.2 219.2ZM658.7 216.1L658.4 214.6L659.4 214.4L659.7 215.9ZM665.5 251.3L665.1 249.0L665.4 249.0L665.7 251.3ZM662.5 234.3L661.7 229.5L662.5 229.4L663.2 234.1ZM665.1 243.6L664.8 240.7L665.3 240.6L665.6 243.6ZM665.2 219.6L665.2 218.3L666.3 218.3L666.3 219.6ZM667.4 231.3L667.4 229.2L668.2 229.2L668.2 231.3ZM667.4 255.8L667.5 251.6L667.7 251.7L667.5 255.8ZM667.5 248.8L667.6 244.2L668.1 244.2L667.9 248.8ZM667.8 236.8L667.9 232.5L668.6 232.6L668.4 236.8ZM667.9 232.5L668.0 228.7L668.8 228.8L668.6 232.6ZM668.0 228.7L668.1 225.5L669.0 225.5L668.8 228.8ZM667.5 255.8L667.6 252.7L667.8 252.7L667.6 255.8ZM667.6 252.7L667.7 249.5L668.0 249.6L667.8 252.7ZM667.9 246.5L668.0 241.8L668.5 241.9L668.2 246.5ZM668.0 241.8L668.2 237.9L668.8 238.0L668.5 241.9ZM667.9 251.3L668.1 247.7L668.4 247.8L668.1 251.3ZM668.1 247.7L668.2 245.7L668.6 245.8L668.4 247.8ZM668.7 236.2L668.9 232.2L669.7 232.2L669.4 236.2ZM670.0 215.8L670.1 214.3L671.1 214.3L670.9 215.9ZM669.8 234.3L670.2 230.1L671.0 230.2L670.5 234.3ZM670.4 227.3L670.7 223.9L671.7 224.0L671.3 227.4ZM670.9 219.6L671.1 217.8L672.6 217.9L672.4 219.7ZM669.3 243.3L669.8 239.0L670.3 239.1L669.7 243.3ZM669.8 239.0L670.0 236.7L670.6 236.8L670.3 239.1ZM670.8 229.8L671.2 226.1L672.1 226.2L671.6 229.9ZM671.6 222.1L671.9 219.2L673.0 219.3L672.6 222.3ZM671.7 219.2L671.9 217.9L673.4 218.0L673.2 219.4ZM669.6 243.3L670.2 238.8L670.8 238.9L670.1 243.3ZM670.2 238.8L670.7 234.8L671.4 234.9L670.8 238.9ZM670.7 234.8L671.0 232.4L671.7 232.5L671.4 234.9ZM673.0 217.2L673.3 214.9L674.3 215.0L674.0 217.4ZM668.8 251.2L669.4 247.1L669.7 247.2L669.1 251.2ZM671.9 229.5L672.5 225.6L673.4 225.8L672.7 229.7ZM672.5 225.6L673.0 222.5L673.9 222.7L673.4 225.8ZM673.4 215.2L673.6 213.1L676.2 213.5L675.8 215.6ZM668.2 255.8L668.6 253.2L668.9 253.3L668.4 255.9ZM668.6 253.2L669.4 248.6L669.7 248.6L668.9 253.3ZM669.4 248.6L669.9 245.4L670.3 245.4L669.7 248.6ZM670.5 241.8L670.9 239.3L671.5 239.4L671.0 241.9ZM672.7 228.1L673.3 224.7L674.2 224.9L673.6 228.3ZM673.9 221.3L674.3 218.4L675.4 218.6L674.9 221.5ZM668.3 255.8L669.1 251.8L669.3 251.8L668.5 255.9ZM674.1 223.7L675.0 219.2L676.0 219.5L675.1 223.9ZM670.6 245.0L671.1 242.3L671.6 242.4L671.0 245.1ZM669.5 251.2L670.5 246.7L670.9 246.8L669.8 251.3ZM670.5 246.7L671.1 244.2L671.5 244.3L670.9 246.8ZM671.9 240.2L672.9 235.6L673.6 235.7L672.5 240.3ZM672.5 239.7L673.5 235.4L674.1 235.6L673.0 239.8ZM675.1 228.6L676.1 224.3L677.0 224.5L675.9 228.9ZM676.8 221.3L677.3 219.3L678.3 219.6L677.8 221.6ZM676.7 219.2L677.0 217.7L679.3 218.3L678.9 219.7ZM672.4 241.4L672.9 239.4L673.5 239.5L672.9 241.5ZM676.9 223.8L677.0 223.3L678.0 223.5L677.9 224.0ZM670.5 249.7L671.1 247.6L671.5 247.7L670.8 249.8ZM674.9 233.8L676.1 229.2L677.0 229.4L675.6 234.0ZM676.1 229.2L676.8 226.9L677.7 227.1L677.0 229.4ZM669.8 253.1L670.8 249.7L671.1 249.8L670.0 253.2ZM672.8 242.8L673.4 240.6L674.0 240.8L673.3 242.9ZM673.4 240.6L674.8 236.0L675.4 236.2L674.0 240.8ZM676.9 228.8L678.2 224.1L679.2 224.4L677.7 229.1ZM679.0 220.8L679.7 218.4L681.2 218.8L680.4 221.2ZM680.7 216.1L681.0 214.9L682.0 215.2L681.6 216.4ZM675.7 234.6L677.0 230.5L677.7 230.8L676.4 234.8ZM678.8 224.5L679.8 221.3L680.8 221.7L679.8 224.8ZM674.5 239.9L675.6 236.6L676.2 236.8L675.0 240.1ZM680.3 221.4L681.1 219.1L682.6 219.6L681.7 221.9ZM678.7 229.1L680.0 225.3L680.9 225.7L679.5 229.4ZM675.0 240.8L676.1 237.8L676.7 238.0L675.5 241.0ZM673.7 246.8L675.5 242.6L676.0 242.8L674.0 247.0ZM674.4 245.8L676.1 242.2L676.6 242.4L674.8 246.0ZM669.8 256.3L671.6 252.4L671.9 252.6L669.9 256.4ZM671.6 252.4L673.5 248.6L673.8 248.8L671.9 252.6ZM673.5 248.6L675.2 244.9L675.6 245.1L673.8 248.8ZM676.8 241.6L677.8 239.4L678.4 239.7L677.3 241.8ZM677.8 239.4L679.7 235.5L680.3 235.8L678.4 239.7ZM681.7 231.1L682.9 228.5L683.8 228.9L682.5 231.4ZM682.9 228.5L684.4 225.4L685.3 225.8L683.8 228.9ZM672.2 251.8L674.2 247.8L674.5 247.9L672.4 251.9ZM678.2 241.4L679.2 239.5L679.8 239.8L678.7 241.6ZM686.8 226.9L688.6 223.7L689.6 224.2L687.7 227.4ZM679.3 241.9L680.6 239.8L681.1 240.1L679.8 242.2ZM640.4 221.4L639.6 220.2L640.6 219.6L641.4 220.8ZM648.6 212.4L648.1 211.1L649.3 210.6L649.8 212.0ZM681.2 213.9L681.7 212.3L682.9 212.7L682.4 214.2ZM667.5 213.6L667.5 211.9L668.7 212.0L668.7 213.6Z"/>
<path fill="#1068e8" d="M657.0 251.7L654.8 249.6L655.1 249.3L657.2 251.5ZM641.4 236.5L639.7 234.9L640.4 234.2L642.0 235.9ZM630.7 226.1L630.0 225.4L630.9 224.5L631.6 225.2ZM664.0 256.7L661.6 253.0L661.8 252.8L664.1 256.6ZM659.3 249.3L659.1 249.1L659.5 248.9L659.6 249.1ZM661.7 250.6L660.5 248.3L660.8 248.1L661.9 250.5ZM660.5 248.3L658.3 243.9L658.7 243.7L660.8 248.1ZM653.5 234.5L651.6 230.6L652.4 230.2L654.2 234.2ZM650.1 227.8L649.0 225.6L649.9 225.1L651.0 227.3ZM649.0 225.6L648.0 223.5L649.0 223.1L649.9 225.1ZM664.6 256.3L663.7 254.3L663.9 254.2L664.8 256.3ZM662.0 249.2L660.3 245.2L660.7 245.0L662.3 249.1ZM665.0 256.2L663.9 253.5L664.2 253.4L665.2 256.1ZM662.9 250.7L661.6 247.6L662.0 247.4L663.1 250.6ZM661.6 247.6L660.1 243.8L660.6 243.6L662.0 247.4ZM660.1 243.8L659.2 241.7L659.8 241.5L660.6 243.6ZM665.1 256.1L664.0 253.2L664.2 253.1L665.3 256.1ZM663.2 251.0L662.0 247.8L662.3 247.7L663.5 250.9ZM660.6 244.2L659.8 242.0L660.3 241.8L661.0 244.0ZM656.6 233.6L655.2 229.8L656.0 229.5L657.3 233.4ZM654.3 227.6L653.2 224.5L654.1 224.2L655.2 227.3ZM664.2 253.2L663.0 249.8L663.3 249.7L664.4 253.1ZM654.0 224.8L653.3 222.8L654.3 222.4L654.9 224.5ZM663.3 250.2L661.8 245.8L662.2 245.6L663.6 250.1ZM661.0 243.2L660.1 240.8L660.7 240.6L661.4 243.0ZM656.6 230.2L655.6 227.5L656.5 227.2L657.4 230.0ZM654.3 223.7L653.1 220.1L654.2 219.7L655.3 223.3ZM652.5 218.1L652.2 216.9L653.1 216.6L653.5 217.8ZM652.2 216.9L651.5 215.0L652.5 214.7L653.1 216.6ZM660.2 236.6L659.0 232.4L659.7 232.2L660.8 236.4ZM658.1 229.3L657.5 227.0L658.4 226.8L658.9 229.1ZM656.4 223.1L655.4 219.7L656.5 219.5L657.4 222.9ZM665.2 253.8L664.5 251.1L664.7 251.0L665.4 253.7ZM665.8 255.9L665.0 252.5L665.2 252.5L666.0 255.9ZM660.5 234.3L659.5 230.0L660.3 229.8L661.2 234.1ZM665.9 255.9L665.1 252.2L665.3 252.1L666.1 255.9ZM663.0 243.0L662.5 240.8L663.1 240.7L663.5 242.9ZM658.9 224.8L658.3 222.0L659.3 221.7L659.8 224.6ZM658.3 222.0L657.6 218.8L658.6 218.6L659.3 221.7ZM657.1 216.6L656.7 215.0L657.9 214.7L658.2 216.3ZM666.1 255.9L665.7 253.5L665.9 253.5L666.3 255.8ZM663.3 241.1L662.6 237.1L663.2 237.0L663.9 241.0ZM663.9 242.0L663.1 237.7L663.7 237.6L664.4 241.9ZM663.1 237.7L662.5 234.3L663.2 234.1L663.7 237.6ZM661.3 226.9L660.5 222.2L661.5 222.0L662.2 226.8ZM659.8 219.7L659.5 217.6L661.0 217.3L661.3 219.4ZM667.5 251.6L667.5 248.8L667.9 248.8L667.7 251.7ZM667.7 240.1L667.8 236.8L668.4 236.8L668.3 240.2ZM668.1 222.6L668.2 220.3L669.2 220.3L669.1 222.7ZM668.3 218.9L668.3 217.5L669.3 217.6L669.2 219.0ZM668.3 234.5L668.5 231.6L669.2 231.6L669.0 234.6ZM668.9 221.7L669.0 219.2L669.9 219.2L669.8 221.7ZM668.2 251.0L668.6 247.1L669.0 247.1L668.5 251.1ZM668.6 247.1L669.0 242.5L669.5 242.5L669.0 247.1ZM670.5 232.4L670.8 229.8L671.6 229.9L671.2 232.5ZM668.0 255.8L668.6 251.4L668.8 251.4L668.2 255.8ZM669.0 248.0L669.6 243.3L670.1 243.3L669.4 248.0ZM671.6 228.0L672.0 224.7L672.9 224.9L672.4 228.2ZM672.2 218.7L672.3 217.2L674.7 217.5L674.4 219.1ZM668.1 255.8L668.8 251.2L669.1 251.2L668.3 255.8ZM669.9 243.7L670.4 240.2L670.9 240.2L670.3 243.7ZM674.4 218.4L674.6 217.2L675.6 217.3L675.3 218.6ZM672.7 234.6L673.4 230.9L674.2 231.1L673.3 234.7ZM674.0 228.1L674.4 226.1L675.2 226.3L674.8 228.3ZM675.7 219.8L676.0 218.2L676.9 218.4L676.6 220.0ZM672.9 235.6L673.4 233.4L674.1 233.5L673.6 235.7ZM674.0 230.8L674.6 228.0L675.4 228.2L674.8 231.0ZM674.6 228.0L675.6 223.6L676.5 223.8L675.4 228.2ZM670.7 247.1L671.6 243.2L672.1 243.3L671.1 247.2ZM673.9 233.4L675.1 228.6L675.9 228.9L674.6 233.6ZM676.1 224.3L676.8 221.3L677.8 221.6L677.0 224.5ZM669.4 253.4L670.6 248.7L670.9 248.8L669.6 253.4ZM673.7 236.5L674.7 232.4L675.4 232.6L674.3 236.7ZM674.7 232.4L675.4 229.9L676.2 230.1L675.4 232.6ZM675.4 229.9L675.9 227.7L676.8 227.9L676.2 230.1ZM671.1 247.6L672.4 243.0L672.8 243.1L671.5 247.7ZM672.4 243.0L673.6 238.5L674.2 238.7L672.8 243.1ZM673.6 238.5L674.9 233.8L675.6 234.0L674.2 238.7ZM678.3 221.5L678.8 220.0L679.6 220.2L679.2 221.7ZM672.0 245.5L672.8 242.8L673.3 242.9L672.4 245.6ZM674.8 236.0L676.1 231.3L676.9 231.5L675.4 236.2ZM669.0 256.0L670.5 251.4L670.7 251.4L669.2 256.1ZM670.5 251.4L671.6 247.7L672.0 247.8L670.7 251.4ZM671.6 247.7L672.5 244.8L672.9 244.9L672.0 247.8ZM673.3 242.4L674.6 238.1L675.2 238.3L673.7 242.6ZM674.6 238.1L675.7 234.6L676.4 234.8L675.2 238.3ZM679.8 221.3L680.2 220.0L681.3 220.3L680.8 221.7ZM669.8 254.1L670.8 250.9L671.1 251.0L670.0 254.2ZM670.8 250.9L672.2 246.7L672.6 246.8L671.1 251.0ZM669.2 256.1L670.6 252.2L670.8 252.3L669.4 256.1ZM674.6 240.8L675.7 237.6L676.3 237.8L675.1 241.0ZM670.7 252.5L672.2 248.5L672.5 248.6L670.9 252.6ZM673.5 244.8L675.0 240.8L675.5 241.0L673.9 244.9ZM676.1 237.8L677.2 234.8L677.9 235.0L676.7 238.0ZM677.2 234.8L678.2 232.2L678.9 232.4L677.9 235.0ZM679.4 228.9L680.8 225.0L681.7 225.4L680.2 229.2ZM681.3 224.1L681.9 222.3L682.7 222.6L682.0 224.4ZM681.6 222.2L682.2 220.8L683.6 221.4L683.0 222.7ZM683.5 215.9L683.9 214.6L686.4 215.6L685.9 216.8ZM683.1 222.5L683.5 221.4L684.9 222.0L684.5 223.1ZM670.5 254.2L671.8 251.3L672.0 251.4L670.7 254.3ZM679.6 232.9L681.5 228.7L682.3 229.1L680.4 233.3ZM684.2 222.5L684.8 221.2L685.7 221.5L685.1 222.9ZM669.7 256.3L671.5 252.3L671.7 252.4L669.9 256.3ZM676.1 242.2L677.7 238.6L678.3 238.8L676.6 242.4ZM680.6 232.2L681.8 229.4L682.6 229.8L681.3 232.5ZM685.1 221.7L685.6 220.5L687.0 221.2L686.5 222.4ZM686.9 218.5L687.6 217.0L690.0 218.1L689.2 219.6ZM670.9 254.4L672.2 251.8L672.4 251.9L671.1 254.5ZM677.2 241.7L678.1 239.8L678.6 240.1L677.7 242.0ZM676.8 243.3L678.0 240.9L678.5 241.2L677.2 243.5ZM671.5 253.9L672.5 251.9L672.8 252.1L671.7 254.0ZM672.5 251.9L674.2 248.9L674.5 249.1L672.8 252.1ZM674.2 248.9L676.2 245.2L676.6 245.4L674.5 249.1ZM676.2 245.2L678.2 241.4L678.7 241.6L676.6 245.4ZM679.2 239.5L680.6 236.9L681.2 237.3L679.8 239.8ZM680.6 236.9L682.3 233.9L683.0 234.2L681.2 237.3ZM682.3 233.9L684.0 230.7L684.7 231.1L683.0 234.2ZM685.5 227.8L687.7 223.7L688.7 224.2L686.3 228.3ZM670.2 256.5L672.2 253.0L672.4 253.1L670.3 256.6ZM672.2 253.0L673.9 249.9L674.2 250.1L672.4 253.1ZM675.6 246.8L677.3 243.9L677.7 244.1L676.0 247.1ZM684.1 231.6L685.5 229.1L686.4 229.6L684.9 232.1ZM688.4 223.5L689.2 222.1L690.6 222.9L689.7 224.3ZM675.6 247.4L676.8 245.3L677.2 245.6L676.0 247.7ZM688.0 226.2L688.6 225.2L689.5 225.7L688.9 226.7ZM681.2 240.5L682.7 238.2L683.3 238.6L681.7 240.9ZM682.7 238.2L684.2 235.9L684.9 236.3L683.3 238.6ZM677.8 247.9L680.7 244.1L681.1 244.5L678.1 248.2ZM679.0 246.8L680.4 245.0L680.8 245.4L679.4 247.1ZM681.1 211.0L681.4 209.8L682.7 210.2L682.4 211.3ZM646.6 212.5L645.9 210.8L647.2 210.3L647.8 212.0ZM682.8 212.0L683.1 210.9L684.3 211.3L684.0 212.4ZM672.5 214.1L672.6 213.0L673.8 213.1L673.7 214.2Z"/>
<path fill="#80f4ff" d="M661.0 255.3L658.1 252.2L658.4 252.0L661.2 255.1ZM644.4 231.1L643.2 229.6L644.1 229.0L645.2 230.6ZM649.6 237.2L647.7 234.6L648.4 234.1L650.2 236.8ZM639.8 224.7L639.2 223.9L641.2 222.5L641.8 223.3ZM654.5 242.6L652.2 239.2L652.8 238.9L654.9 242.3ZM642.8 225.5L642.0 224.3L643.3 223.5L644.1 224.7ZM659.9 248.3L658.3 245.4L658.7 245.2L660.2 248.1ZM656.1 241.5L654.5 238.5L655.1 238.2L656.6 241.2ZM665.6 249.3L665.0 245.3L665.4 245.2L665.9 249.3ZM660.4 215.6L660.0 213.4L662.6 213.1L662.8 215.3ZM621.1 211.8L619.8 210.3L621.1 209.2L622.4 210.6Z"/>
<path fill="#b0f8ff" d="M650.2 236.2L648.2 233.2L648.9 232.7L650.8 235.7ZM643.7 226.5L643.0 225.4L643.9 224.8L644.6 225.9Z"/>
<path fill="#0848f0" d="M663.3 253.9L661.7 250.6L661.9 250.5L663.5 253.8ZM655.2 237.9L653.5 234.5L654.2 234.2L655.8 237.6ZM663.9 253.5L662.9 250.7L663.1 250.6L664.2 253.4ZM659.2 241.7L657.4 237.1L658.1 236.9L659.8 241.5ZM657.4 237.1L655.8 232.9L656.5 232.7L658.1 236.9ZM655.8 232.9L654.6 230.0L655.4 229.7L656.5 232.7ZM654.6 230.0L653.1 226.2L654.0 225.8L655.4 229.7ZM650.9 221.2L650.3 219.9L651.8 219.3L652.3 220.7ZM659.8 242.0L658.4 238.4L659.0 238.2L660.3 241.8ZM658.4 238.4L657.5 236.0L658.2 235.8L659.0 238.2ZM657.5 236.0L656.6 233.6L657.3 233.4L658.2 235.8ZM652.3 221.9L651.8 220.7L652.7 220.3L653.1 221.6ZM650.5 214.6L649.8 212.8L650.8 212.4L651.5 214.3ZM665.3 256.1L664.1 252.5L664.3 252.4L665.5 256.0ZM664.1 252.5L663.3 250.2L663.6 250.1L664.3 252.4ZM660.1 240.8L659.0 237.3L659.6 237.1L660.7 240.6ZM659.0 237.3L658.2 234.9L658.8 234.7L659.6 237.1ZM655.6 227.5L654.3 223.7L655.3 223.3L656.5 227.2ZM653.1 220.1L653.0 219.6L654.0 219.2L654.2 219.7ZM652.4 219.8L651.9 218.3L654.2 217.5L654.6 219.1ZM664.3 244.7L663.9 242.0L664.4 241.9L664.8 244.7ZM661.7 229.5L661.3 226.9L662.2 226.8L662.5 229.4ZM660.5 222.2L660.0 219.6L661.1 219.5L661.5 222.0ZM667.6 244.2L667.7 240.1L668.3 240.2L668.1 244.2ZM671.5 232.5L671.9 229.5L672.7 229.7L672.2 232.6ZM671.1 244.2L671.9 240.2L672.5 240.3L671.5 244.3ZM668.6 255.9L669.1 253.9L669.3 253.9L668.8 255.9ZM669.1 253.9L670.2 249.1L670.5 249.2L669.3 253.9ZM670.2 249.1L670.7 247.1L671.1 247.2L670.5 249.2ZM673.5 235.4L673.9 233.4L674.6 233.6L674.1 235.6ZM668.7 255.9L669.4 253.4L669.6 253.4L668.9 256.0ZM670.6 248.7L671.5 245.0L671.9 245.1L670.9 248.8ZM672.9 239.4L673.7 236.5L674.3 236.7L673.5 239.5ZM679.3 218.3L680.0 215.9L682.3 216.7L681.6 219.0ZM672.5 244.8L673.3 242.4L673.7 242.6L672.9 244.9ZM677.0 230.5L677.7 228.1L678.5 228.4L677.7 230.8ZM677.7 228.1L678.8 224.5L679.8 224.8L678.5 228.4ZM679.7 219.8L680.2 217.9L682.5 218.7L681.9 220.5ZM680.2 217.9L680.6 216.7L682.9 217.5L682.5 218.7ZM670.6 252.2L671.9 248.5L672.2 248.6L670.8 252.3ZM671.9 248.5L672.7 246.2L673.1 246.4L672.2 248.6ZM673.6 243.6L674.6 240.8L675.1 241.0L674.1 243.7ZM677.1 233.7L678.7 229.1L679.5 229.4L677.8 233.9ZM680.0 225.3L681.1 222.0L682.1 222.4L680.9 225.7ZM669.3 256.1L670.7 252.5L670.9 252.6L669.5 256.2ZM678.2 232.2L679.4 228.9L680.2 229.2L678.9 232.4ZM680.8 225.0L681.2 224.1L682.1 224.4L681.7 225.4ZM670.5 253.4L671.5 250.7L671.8 250.8L670.7 253.4ZM672.3 248.8L674.0 244.5L674.4 244.7L672.6 248.9ZM669.5 256.2L670.8 253.2L671.0 253.3L669.7 256.3ZM669.6 256.2L670.5 254.2L670.7 254.3L669.8 256.3ZM671.8 251.3L673.7 246.8L674.0 247.0L672.0 251.4ZM675.5 242.6L676.6 239.9L677.2 240.2L676.0 242.8ZM676.6 239.9L678.6 235.4L679.3 235.7L677.2 240.2ZM678.6 235.4L679.6 232.9L680.4 233.3L679.3 235.7ZM681.5 228.7L682.6 226.0L683.5 226.4L682.3 229.1ZM682.1 225.8L683.0 223.8L684.9 224.6L684.0 226.6ZM683.6 224.0L684.2 222.5L685.1 222.9L684.4 224.4ZM673.2 248.5L674.4 245.8L674.8 246.0L673.6 248.6ZM683.5 225.7L685.3 221.8L686.3 222.3L684.4 226.1ZM679.7 235.5L681.7 231.1L682.5 231.4L680.3 235.8ZM674.2 247.8L675.6 244.9L676.0 245.1L674.5 247.9ZM679.9 237.3L682.0 233.2L682.7 233.6L680.5 237.6ZM682.0 233.2L683.2 230.8L684.0 231.2L682.7 233.6ZM684.7 227.9L685.8 225.7L686.7 226.2L685.6 228.3ZM685.3 225.5L685.9 224.3L687.9 225.3L687.2 226.5ZM687.7 223.7L688.0 223.2L688.9 223.7L688.7 224.2ZM687.8 223.1L688.3 222.2L689.7 222.9L689.1 223.8ZM673.9 249.9L675.6 246.8L676.0 247.1L674.2 250.1ZM677.3 243.9L679.4 240.1L680.0 240.4L677.7 244.1ZM679.4 240.1L681.7 236.0L682.3 236.4L680.0 240.4ZM681.7 236.0L683.1 233.5L683.8 233.9L682.3 236.4ZM683.1 233.5L684.1 231.6L684.9 232.1L683.8 233.9ZM690.7 218.6L691.2 217.6L693.5 218.9L692.9 219.9ZM679.9 240.1L682.0 236.4L682.7 236.8L680.4 240.5ZM682.0 236.4L683.9 233.2L684.6 233.6L682.7 236.8ZM683.9 233.2L685.6 230.2L686.4 230.7L684.6 233.6ZM685.6 230.2L688.0 226.2L688.9 226.7L686.4 230.7ZM688.1 224.9L689.0 223.2L691.0 224.4L690.0 226.0ZM691.7 220.0L692.5 218.7L693.4 219.3L692.6 220.5ZM670.4 256.6L672.7 252.8L672.9 253.0L670.5 256.7ZM672.7 252.8L674.8 249.3L675.2 249.5L672.9 253.0ZM674.8 249.3L675.9 247.5L676.3 247.7L675.2 249.5ZM683.6 234.9L685.6 231.5L686.4 232.0L684.2 235.3ZM687.6 228.3L688.1 227.5L688.9 228.0L688.4 228.8ZM673.7 251.9L675.4 249.3L675.7 249.5L673.9 252.1ZM675.4 249.3L676.9 247.1L677.3 247.3L675.7 249.5ZM680.0 242.4L681.2 240.5L681.7 240.9L680.4 242.7ZM689.4 228.1L690.3 226.7L691.2 227.3L690.2 228.6ZM692.3 223.8L693.4 222.0L694.3 222.6L693.1 224.3ZM682.1 240.0L683.3 238.2L683.9 238.6L682.6 240.4ZM670.9 257.0L672.3 255.1L672.4 255.3L671.0 257.1ZM674.6 252.2L676.4 249.7L676.7 250.0L674.8 252.3ZM676.4 249.7L677.8 247.9L678.1 248.2L676.7 250.0ZM680.7 244.1L682.6 241.7L683.1 242.0L681.1 244.5ZM682.6 241.7L684.5 239.0L685.1 239.5L683.1 242.0ZM689.1 233.0L690.8 230.8L691.6 231.4L689.8 233.6ZM693.8 226.6L694.8 225.1L696.1 226.1L695.0 227.5ZM676.1 250.6L679.0 246.8L679.4 247.1L676.4 250.8ZM680.4 245.0L681.9 243.2L682.4 243.6L680.8 245.4ZM681.9 243.2L684.9 239.4L685.5 239.8L682.4 243.6ZM684.9 239.4L687.9 235.5L688.6 236.1L685.5 239.8ZM692.0 230.6L692.9 229.5L694.6 230.9L693.6 232.0ZM691.6 233.0L693.2 231.1L694.0 231.8L692.3 233.6ZM688.4 216.9L689.0 215.7L690.1 216.3L689.5 217.4ZM693.2 222.2L694.2 220.8L695.2 221.5L694.2 222.8ZM647.1 216.0L646.5 214.5L647.7 214.0L648.3 215.5ZM700.7 219.4L701.8 218.0L702.8 218.9L701.7 220.2ZM646.0 211.0L645.2 209.1L646.5 208.6L647.3 210.5Z"/>
<path fill="#0020f8" d="M657.2 241.9L655.2 237.9L655.8 237.6L657.7 241.6ZM653.1 226.2L651.8 223.1L652.8 222.7L654.0 225.8ZM651.8 223.1L651.1 221.2L652.1 220.8L652.8 222.7ZM658.2 234.9L656.6 230.2L657.4 230.0L658.8 234.7ZM677.1 223.3L677.6 221.4L678.5 221.6L677.9 223.5ZM672.7 246.2L673.6 243.6L674.1 243.7L673.1 246.4ZM675.7 237.6L677.1 233.7L677.8 233.9L676.3 237.8ZM672.2 248.5L673.5 244.8L673.9 244.9L672.5 248.6ZM669.4 256.2L670.5 253.4L670.7 253.4L669.6 256.2ZM671.5 250.7L672.3 248.8L672.6 248.9L671.8 250.8ZM674.0 244.5L675.5 240.5L676.0 240.8L674.4 244.7ZM678.6 232.7L679.7 229.8L680.5 230.1L679.3 233.0ZM681.0 226.5L682.2 223.4L683.1 223.8L681.9 226.8ZM682.2 223.4L682.5 222.7L683.4 223.1L683.1 223.8ZM670.8 253.2L671.5 251.3L671.8 251.4L671.0 253.3ZM671.5 251.3L673.4 246.7L673.8 246.9L671.8 251.4ZM677.9 235.6L679.6 231.6L680.4 231.9L678.6 235.9ZM679.6 231.6L680.4 229.6L681.2 230.0L680.4 231.9ZM680.4 229.6L682.3 225.0L683.2 225.4L681.2 230.0ZM682.3 225.0L682.9 223.5L683.9 223.9L683.2 225.4ZM685.9 216.5L686.3 215.5L687.3 215.9L686.8 216.9ZM671.5 252.3L673.2 248.5L673.6 248.6L671.7 252.4ZM677.7 238.6L678.8 236.1L679.5 236.4L678.3 238.8ZM681.8 229.4L683.5 225.7L684.4 226.1L682.6 229.8ZM669.9 256.4L670.9 254.4L671.1 254.5L670.0 256.4ZM675.6 244.9L677.2 241.7L677.7 242.0L676.0 245.1ZM678.1 239.8L678.7 238.6L679.2 238.9L678.6 240.1ZM670.0 256.4L672.0 252.5L672.2 252.6L670.1 256.5ZM672.0 252.5L673.9 248.8L674.3 248.9L672.2 252.6ZM678.0 240.9L679.9 237.3L680.5 237.6L678.5 241.2ZM683.2 230.8L684.7 227.9L685.6 228.3L684.0 231.2ZM686.3 224.4L687.3 222.3L688.7 223.0L687.5 225.1ZM670.1 256.5L671.5 253.9L671.7 254.0L670.2 256.5ZM688.3 222.2L689.4 220.0L690.9 220.8L689.7 222.9ZM689.1 219.9L689.7 218.6L692.0 219.8L691.2 221.1ZM690.4 218.9L691.4 217.1L692.3 217.7L691.3 219.4ZM685.5 229.1L686.8 226.9L687.7 227.4L686.4 229.6ZM676.8 245.3L678.0 243.3L678.5 243.6L677.2 245.6ZM678.0 243.3L679.9 240.1L680.4 240.5L678.5 243.6ZM675.9 247.5L678.2 243.7L678.7 244.0L676.3 247.7ZM678.2 243.7L679.3 241.9L679.8 242.2L678.7 244.0ZM680.6 239.8L682.1 237.3L682.7 237.6L681.1 240.1ZM682.1 237.3L683.6 234.9L684.2 235.3L682.7 237.6ZM685.6 231.5L687.6 228.3L688.4 228.8L686.4 232.0ZM670.5 256.7L671.6 254.8L671.8 254.9L670.6 256.8ZM680.6 239.9L681.5 238.6L682.7 239.3L681.8 240.6ZM670.5 256.7L671.7 255.0L671.9 255.1L670.7 256.8ZM671.7 255.0L673.7 251.9L673.9 252.1L671.9 255.1ZM676.9 247.1L678.3 245.0L678.7 245.3L677.3 247.3ZM678.3 245.0L680.0 242.4L680.4 242.7L678.7 245.3ZM690.1 226.6L691.0 225.1L692.3 226.0L691.3 227.4ZM670.6 256.8L673.3 252.9L673.5 253.1L670.8 256.9ZM670.7 256.9L672.4 254.5L672.5 254.7L670.8 256.9ZM672.7 254.3L674.2 252.2L674.5 252.4L672.9 254.4ZM674.2 252.2L676.3 249.5L676.6 249.7L674.5 252.4ZM682.7 240.7L684.8 237.8L685.4 238.3L683.2 241.1ZM684.8 237.8L687.2 234.6L687.8 235.1L685.4 238.3ZM672.3 255.1L674.6 252.2L674.8 252.3L672.4 255.3ZM684.5 239.0L686.9 235.9L687.6 236.4L685.1 239.5ZM686.9 235.9L689.1 233.0L689.8 233.6L687.6 236.4ZM690.7 230.7L691.7 229.3L692.8 230.2L691.8 231.5ZM687.9 235.5L689.3 233.7L690.0 234.3L688.6 236.1ZM694.2 227.8L694.9 226.8L695.7 227.4L694.9 228.4ZM682.3 243.4L683.6 241.7L684.1 242.1L682.7 243.8ZM683.6 241.7L686.0 238.8L686.6 239.3L684.1 242.1ZM691.1 234.6L692.7 232.8L693.4 233.4L691.7 235.2ZM692.7 232.8L694.2 231.1L694.9 231.8L693.4 233.4ZM687.5 239.5L690.8 235.8L691.4 236.4L688.0 240.0ZM695.1 232.4L696.0 231.4L697.6 233.0L696.6 233.9ZM696.3 231.7L697.8 230.1L698.9 231.2L697.3 232.7ZM689.5 239.7L691.3 237.9L691.9 238.5L690.0 240.3ZM693.0 237.1L695.0 235.2L695.6 235.9L693.6 237.7ZM673.9 210.2L674.1 208.4L675.4 208.6L675.1 210.4ZM676.4 215.9L676.7 214.7L677.8 214.9L677.5 216.2ZM685.3 210.2L685.9 208.6L687.2 209.1L686.6 210.6ZM686.7 214.3L687.5 212.4L688.7 212.9L687.9 214.8ZM694.1 220.8L694.8 219.7L695.9 220.4L695.1 221.5ZM692.3 220.6L692.9 219.6L693.9 220.2L693.3 221.2Z"/>
<path fill="#0010f0" d="M655.2 229.8L654.3 227.6L655.2 227.3L656.0 229.5ZM675.5 240.5L676.5 238.0L677.1 238.2L676.0 240.8ZM676.5 238.0L677.5 235.4L678.2 235.7L677.1 238.2ZM677.5 235.4L678.6 232.7L679.3 233.0L678.2 235.7ZM681.9 222.5L682.5 220.9L684.6 221.8L684.0 223.3ZM673.4 246.7L674.9 243.1L675.3 243.3L673.8 246.9ZM676.5 239.1L677.9 235.6L678.6 235.9L677.1 239.4ZM682.7 223.5L683.1 222.5L684.5 223.1L684.0 224.0ZM673.9 248.8L675.8 245.1L676.2 245.4L674.3 248.9ZM675.8 245.1L676.8 243.3L677.2 243.5L676.2 245.4ZM684.0 230.7L685.5 227.8L686.3 228.3L684.7 231.1ZM670.3 256.6L672.1 253.5L672.3 253.6L670.4 256.6ZM674.6 249.2L675.6 247.4L676.0 247.7L674.9 249.4ZM671.6 254.8L673.0 252.7L673.2 252.8L671.8 254.9ZM677.6 245.4L679.7 242.1L680.2 242.4L678.0 245.6ZM679.7 242.1L680.9 240.1L681.5 240.4L680.2 242.4ZM681.5 238.6L682.3 237.2L683.5 238.1L682.7 239.3ZM684.2 235.9L686.4 232.6L687.1 233.1L684.9 236.3ZM686.4 232.6L687.7 230.6L688.5 231.1L687.1 233.1ZM687.7 230.6L689.4 228.1L690.2 228.6L688.5 231.1ZM691.0 225.1L692.0 223.6L693.3 224.5L692.3 226.0ZM673.3 252.9L675.3 249.9L675.6 250.1L673.5 253.1ZM680.3 242.6L682.1 240.0L682.6 240.4L680.8 242.9ZM683.3 238.2L684.9 235.9L685.5 236.3L683.9 238.6ZM690.4 226.8L691.7 224.8L693.6 226.1L692.1 228.1ZM672.4 254.5L673.9 252.3L674.1 252.5L672.5 254.7ZM676.1 249.3L677.7 247.0L678.0 247.3L676.4 249.5ZM680.2 243.5L682.5 240.3L683.0 240.6L680.6 243.8ZM684.0 238.1L686.8 234.1L687.5 234.6L684.6 238.5ZM677.9 247.2L680.1 244.3L680.5 244.6L678.3 247.5ZM692.1 226.9L693.3 225.2L695.2 226.6L693.9 228.3ZM689.3 233.7L691.0 231.6L691.8 232.2L690.0 234.3ZM691.0 231.6L692.1 230.2L692.9 230.8L691.8 232.2ZM677.1 249.7L679.3 247.0L679.7 247.3L677.4 249.9ZM679.3 247.0L682.3 243.4L682.7 243.8L679.7 247.3ZM686.0 238.8L689.0 235.1L689.7 235.7L686.6 239.3ZM689.0 235.1L690.7 233.1L691.4 233.7L689.7 235.7ZM690.7 233.1L692.4 231.0L693.2 231.6L691.4 233.7ZM671.1 257.2L672.8 255.3L672.9 255.4L671.2 257.3ZM684.0 242.0L687.0 238.5L687.5 239.0L684.5 242.4ZM687.0 238.5L688.4 236.8L689.0 237.3L687.5 239.0ZM688.4 236.8L690.1 234.8L690.8 235.3L689.0 237.3ZM690.1 234.8L691.6 233.0L692.3 233.6L690.8 235.3ZM681.7 245.3L683.5 243.3L683.9 243.7L682.1 245.7ZM686.4 240.0L689.5 236.4L690.2 236.9L686.9 240.4ZM694.2 231.1L695.2 229.9L696.0 230.6L694.9 231.8ZM695.3 229.9L696.4 228.6L697.1 229.3L696.0 230.5ZM671.3 257.3L673.1 255.4L673.2 255.5L671.4 257.4ZM678.4 249.9L681.5 246.6L681.9 247.0L678.7 250.1ZM687.3 240.5L690.6 236.9L691.2 237.5L687.8 241.0ZM693.0 234.5L694.2 233.2L694.9 233.9L693.6 235.1ZM687.2 241.3L689.5 238.9L690.1 239.5L687.7 241.8ZM689.5 238.9L692.8 235.5L693.5 236.2L690.1 239.5ZM692.8 235.5L695.5 232.8L696.2 233.5L693.5 236.2ZM681.5 247.6L683.1 246.1L683.5 246.5L681.9 248.0ZM691.1 239.0L693.0 237.1L693.6 237.7L691.6 239.6ZM696.6 233.7L698.0 232.3L698.8 233.1L697.3 234.5ZM698.1 232.4L699.1 231.4L699.8 232.1L698.7 233.0ZM694.5 237.4L697.3 234.9L698.0 235.7L695.1 238.1ZM697.4 235.0L698.6 233.9L699.2 234.6L697.9 235.6ZM699.1 233.6L700.1 232.7L701.6 234.4L700.5 235.3ZM694.1 239.5L696.7 237.3L697.3 238.1L694.6 240.1ZM694.1 240.2L697.4 237.5L698.0 238.3L694.6 240.9ZM697.4 237.5L698.7 236.5L699.3 237.3L698.0 238.3ZM698.6 236.4L700.1 235.2L701.0 236.3L699.4 237.5ZM690.4 243.9L692.8 242.0L693.3 242.7L690.8 244.4ZM698.2 237.8L702.1 234.8L702.7 235.7L698.8 238.6ZM702.1 234.0L703.1 233.3L704.5 235.2L703.5 235.9ZM694.4 241.5L696.1 240.2L696.6 241.0L694.9 242.2ZM692.8 243.4L695.7 241.3L696.2 242.0L693.3 244.0ZM695.7 241.3L698.9 239.0L699.4 239.8L696.2 242.0ZM697.2 241.8L699.6 240.1L700.1 241.0L697.7 242.5ZM699.6 240.1L700.2 239.7L700.8 240.6L700.1 241.0ZM719.4 242.1L721.3 241.3L721.8 242.7L719.8 243.3ZM697.2 225.2L698.1 224.1L699.0 224.8L698.1 225.9ZM689.9 219.6L691.0 217.7L692.0 218.3L691.0 220.2Z"/>
<path fill="#0008d8" d="M679.7 229.8L681.0 226.5L681.9 226.8L680.5 230.1ZM674.9 243.1L676.5 239.1L677.1 239.4L675.3 243.3ZM685.9 220.6L686.6 219.0L687.5 219.4L686.8 221.0ZM672.1 253.5L674.6 249.2L674.9 249.4L672.3 253.6ZM673.0 252.7L675.4 248.8L675.7 249.0L673.2 252.8ZM683.8 235.3L684.7 233.8L685.7 234.4L684.7 235.9ZM675.3 249.9L678.0 246.0L678.4 246.2L675.6 250.1ZM678.0 246.0L680.3 242.6L680.8 242.9L678.4 246.2ZM687.3 232.3L689.0 229.8L689.8 230.3L688.1 232.8ZM673.9 252.3L676.1 249.3L676.4 249.5L674.1 252.5ZM677.7 247.0L680.2 243.5L680.6 243.8L678.0 247.3ZM682.5 240.3L684.0 238.1L684.6 238.5L683.0 240.6ZM686.8 234.1L689.1 230.9L689.9 231.4L687.5 234.6ZM689.1 230.9L691.3 227.7L692.2 228.3L689.9 231.4ZM691.2 227.6L692.2 226.1L693.4 227.0L692.3 228.4ZM676.3 249.5L677.9 247.2L678.3 247.5L676.6 249.7ZM687.2 234.6L690.0 230.7L690.8 231.3L687.8 235.1ZM689.6 230.4L690.9 228.6L692.6 229.8L691.2 231.6ZM690.9 228.6L692.1 226.9L693.9 228.3L692.6 229.8ZM671.0 257.0L673.1 254.4L673.2 254.5L671.1 257.1ZM673.1 254.4L676.1 250.6L676.4 250.8L673.2 254.5ZM679.6 247.1L681.9 244.5L682.3 244.8L680.0 247.5ZM681.9 244.5L684.0 242.0L684.5 242.4L682.3 244.8ZM671.2 257.2L674.1 254.0L674.3 254.1L671.3 257.3ZM676.1 251.7L679.0 248.4L679.3 248.7L676.3 251.9ZM683.5 243.3L686.4 240.0L686.9 240.4L683.9 243.7ZM689.5 236.4L691.1 234.6L691.7 235.2L690.2 236.9ZM678.2 249.7L681.2 246.5L681.5 246.8L678.5 250.0ZM681.2 246.5L683.4 243.9L683.9 244.4L681.5 246.8ZM683.4 243.9L685.4 241.8L685.9 242.2L683.9 244.4ZM685.4 241.8L687.5 239.5L688.0 240.0L685.9 242.2ZM676.0 252.4L678.4 249.9L678.7 250.1L676.2 252.7ZM681.5 246.6L684.0 243.9L684.5 244.4L681.9 247.0ZM684.0 243.9L685.6 242.3L686.1 242.7L684.5 244.4ZM685.6 242.3L687.3 240.5L687.8 241.0L686.1 242.7ZM697.0 229.3L698.0 228.1L699.8 229.8L698.7 230.9ZM671.4 257.5L673.3 255.6L673.4 255.7L671.5 257.6ZM674.9 253.9L677.5 251.2L677.8 251.5L675.1 254.1ZM678.9 249.8L682.1 246.5L682.5 246.9L679.2 250.1ZM682.1 246.5L683.8 244.7L684.3 245.2L682.5 246.9ZM691.3 237.9L693.6 235.7L694.2 236.4L691.9 238.5ZM693.6 235.7L696.6 232.7L697.3 233.4L694.2 236.4ZM696.7 232.7L697.5 231.9L698.1 232.6L697.3 233.4ZM678.5 251.0L680.4 249.2L680.7 249.5L678.8 251.3ZM683.7 246.0L687.1 242.7L687.6 243.2L684.1 246.4ZM687.1 242.7L689.5 240.5L690.0 241.1L687.6 243.2ZM689.5 240.5L691.1 239.0L691.6 239.6L690.0 241.1ZM695.0 235.2L696.6 233.7L697.3 234.5L695.6 235.9ZM679.8 250.1L682.2 247.9L682.6 248.3L680.1 250.4ZM690.3 240.4L693.3 237.7L693.9 238.4L690.9 241.0ZM684.1 246.7L687.4 243.8L687.8 244.3L684.4 247.2ZM689.2 243.5L690.9 242.1L691.3 242.7L689.6 244.1ZM690.9 242.1L694.1 239.5L694.6 240.1L691.3 242.7ZM690.3 243.3L694.1 240.2L694.6 240.9L690.7 243.9ZM700.3 235.4L701.3 234.6L701.9 235.3L700.8 236.1ZM692.8 242.0L695.8 239.7L696.4 240.4L693.3 242.7ZM703.1 233.3L704.5 232.1L706.0 234.1L704.5 235.2ZM704.5 232.1L706.4 230.6L708.0 232.7L706.0 234.1ZM697.7 239.0L699.9 237.4L700.5 238.2L698.3 239.8ZM699.3 239.5L700.8 238.5L701.4 239.3L699.8 240.4ZM706.4 234.8L707.3 234.1L707.9 234.9L706.9 235.6ZM700.1 239.6L701.6 238.6L702.4 239.8L700.9 240.7ZM706.9 235.4L708.5 234.4L709.0 235.2L707.4 236.3ZM712.5 241.9L713.6 241.4L714.0 242.6L713.0 243.0ZM698.0 225.5L698.7 224.7L699.6 225.5L698.9 226.3ZM695.9 221.3L696.8 220.0L697.8 220.7L696.9 222.0ZM701.3 221.6L702.2 220.5L703.2 221.4L702.3 222.4ZM701.0 230.6L701.8 229.8L702.6 230.7L701.7 231.4Z"/>
<path fill="#0004b8" d="M675.4 248.8L677.6 245.4L678.0 245.6L675.7 249.0ZM684.9 235.9L687.3 232.3L688.1 232.8L685.5 236.3ZM692.5 226.3L693.3 225.0L694.1 225.6L693.2 226.8ZM670.8 256.9L672.7 254.3L672.9 254.4L670.9 257.0ZM680.1 244.3L682.7 240.7L683.2 241.1L680.5 244.6ZM675.1 252.2L677.1 249.7L677.4 249.9L675.3 252.4ZM674.1 254.0L676.1 251.7L676.3 251.9L674.3 254.1ZM690.8 235.8L693.9 232.4L694.6 233.1L691.4 236.4ZM693.9 232.4L695.4 230.8L696.2 231.5L694.6 233.1ZM695.5 230.8L696.3 230.0L696.9 230.6L696.1 231.4ZM690.6 236.9L693.0 234.5L693.6 235.1L691.2 237.5ZM696.3 231.1L697.5 229.7L698.2 230.4L696.9 231.7ZM687.7 241.5L689.5 239.7L690.0 240.3L688.2 242.0ZM680.4 249.2L683.7 246.0L684.1 246.4L680.7 249.5ZM682.2 247.9L685.4 245.0L685.9 245.4L682.6 248.3ZM685.4 245.0L687.8 242.8L688.2 243.3L685.9 245.4ZM693.3 237.7L695.0 236.1L695.6 236.9L693.9 238.4ZM682.3 248.3L684.1 246.7L684.4 247.2L682.7 248.7ZM687.4 243.8L690.9 240.7L691.4 241.3L687.8 244.3ZM682.1 249.0L684.0 247.3L684.4 247.7L682.4 249.4ZM684.0 247.3L687.0 244.7L687.5 245.2L684.4 247.7ZM696.0 237.0L698.4 235.0L699.0 235.8L696.7 237.7ZM698.0 234.5L699.1 233.6L700.5 235.3L699.4 236.2ZM686.0 246.1L689.2 243.5L689.6 244.1L686.4 246.6ZM688.3 245.5L690.4 243.9L690.8 244.4L688.7 246.0ZM695.8 239.7L698.2 237.8L698.8 238.6L696.4 240.4ZM702.1 234.8L702.5 234.5L703.2 235.4L702.7 235.7ZM690.7 244.2L694.4 241.5L694.9 242.2L691.2 244.8ZM696.1 240.2L697.7 239.0L698.3 239.8L696.6 241.0ZM702.2 235.4L703.6 234.4L704.5 235.6L703.1 236.7ZM694.4 242.9L696.6 241.4L697.1 242.1L694.9 243.6ZM706.1 229.5L707.3 228.5L708.1 229.5L706.8 230.5ZM703.7 224.4L704.8 223.3L705.7 224.2L704.6 225.3ZM714.7 242.9L716.7 242.1L717.2 243.3L715.2 244.0Z"/>
<path fill="#000478" d="M671.0 257.1L673.2 254.5L673.3 254.7L671.2 257.2ZM677.4 249.7L679.6 247.1L680.0 247.5L677.7 250.0ZM679.0 248.4L681.7 245.3L682.1 245.7L679.3 248.7ZM673.1 255.4L676.0 252.1L676.3 252.3L673.2 255.5ZM676.0 252.1L678.2 249.7L678.5 250.0L676.3 252.3ZM671.4 257.4L673.7 254.9L673.8 255.1L671.5 257.5ZM671.5 257.5L674.1 254.9L674.3 255.1L671.6 257.6ZM676.7 252.4L679.9 249.2L680.2 249.5L677.0 252.6ZM683.1 246.1L685.3 243.9L685.8 244.3L683.5 246.5ZM671.7 257.7L674.8 254.8L675.0 255.0L671.8 257.8ZM678.8 251.4L682.3 248.3L682.7 248.7L679.1 251.7ZM690.9 240.7L694.5 237.4L695.1 238.1L691.4 241.3ZM671.8 257.8L674.8 255.2L675.0 255.4L671.9 258.0ZM689.3 242.8L693.0 239.6L693.6 240.2L689.7 243.4ZM693.0 239.6L696.0 237.0L696.7 237.7L693.6 240.2ZM678.9 252.0L680.6 250.7L680.8 251.0L679.2 252.3ZM683.7 248.5L687.3 245.7L687.7 246.2L684.1 249.0ZM687.3 245.7L690.3 243.3L690.7 243.9L687.7 246.2ZM679.9 252.0L682.9 249.7L683.2 250.0L680.1 252.3ZM706.7 230.9L707.4 230.4L708.5 231.8L707.8 232.3ZM689.0 245.5L690.7 244.2L691.2 244.8L689.4 246.1ZM676.1 255.4L678.9 253.4L679.1 253.7L676.2 255.6ZM701.4 237.3L702.7 236.4L703.2 237.1L701.9 238.0ZM675.9 255.7L677.7 254.5L677.9 254.8L676.1 256.0ZM679.6 253.2L681.8 251.6L682.1 252.0L679.8 253.5ZM681.8 251.6L685.5 249.1L685.8 249.6L682.1 252.0ZM685.5 249.1L688.5 247.0L688.9 247.6L685.8 249.6ZM696.6 241.4L699.3 239.5L699.8 240.4L697.1 242.1ZM700.9 238.5L702.9 237.1L703.4 237.9L701.4 239.3ZM679.4 253.6L682.8 251.4L683.0 251.8L679.6 253.9ZM705.7 235.8L706.7 235.2L707.6 236.6L706.6 237.2ZM693.8 244.7L696.1 243.2L696.5 244.0L694.3 245.3ZM707.2 237.1L709.3 235.9L709.8 236.8L707.8 238.0ZM680.3 254.0L684.1 251.7L684.3 252.2L680.5 254.3ZM702.9 240.5L704.1 239.8L704.7 240.8L703.5 241.4ZM676.4 256.5L680.4 254.3L680.6 254.6L676.5 256.8ZM680.4 254.3L684.6 251.8L684.9 252.3L680.6 254.6ZM695.2 245.8L699.5 243.4L699.9 244.2L695.6 246.5ZM703.4 241.1L705.6 239.9L706.1 240.8L703.9 242.0ZM706.7 238.5L708.3 237.6L709.5 239.7L707.9 240.6ZM678.3 255.7L681.5 254.0L681.7 254.3L678.4 256.0ZM684.5 252.3L687.9 250.4L688.2 251.0L684.8 252.7ZM687.9 250.4L690.7 248.9L691.0 249.5L688.2 251.0ZM700.5 243.6L703.2 242.0L703.7 242.9L700.9 244.4ZM685.9 252.0L689.3 250.2L689.6 250.7L686.1 252.4ZM694.7 247.3L699.1 245.0L699.5 245.8L695.0 248.0ZM704.6 242.1L705.8 241.5L706.3 242.5L705.1 243.1ZM708.8 240.0L710.7 239.0L711.1 240.0L709.3 240.9ZM699.1 246.4L702.2 244.9L702.6 245.8L699.5 247.2ZM693.8 250.1L696.8 248.8L697.1 249.5L694.1 250.8ZM696.8 248.8L700.6 247.1L701.0 247.9L697.1 249.5ZM697.1 249.3L700.7 247.7L701.0 248.6L697.4 250.0ZM704.5 246.1L705.8 245.6L706.2 246.6L704.9 247.1ZM701.1 248.3L705.1 246.7L705.5 247.6L701.4 249.1ZM705.1 246.7L708.3 245.4L708.7 246.4L705.5 247.6ZM702.4 248.5L705.7 247.2L706.0 248.2L702.7 249.3ZM698.2 250.7L702.2 249.2L702.5 250.1L698.5 251.4ZM707.9 246.9L710.2 246.1L710.8 247.6L708.4 248.4ZM714.7 234.7L716.2 233.8L716.8 235.0L715.4 235.8ZM707.6 234.8L708.7 234.1L709.3 235.1L708.2 235.8ZM713.2 244.4L714.8 243.8L715.2 244.9L713.6 245.5ZM698.7 223.3L699.8 222.0L700.7 222.8L699.7 224.1Z"/>
<path fill="#000498" d="M673.2 254.5L675.1 252.2L675.3 252.4L673.3 254.7ZM672.8 255.3L675.5 252.0L675.7 252.2L672.9 255.4ZM675.5 252.0L677.4 249.7L677.7 250.0L675.7 252.2ZM673.7 254.9L676.0 252.4L676.2 252.7L673.8 255.1ZM673.3 255.6L674.9 253.9L675.1 254.1L673.4 255.7ZM677.5 251.2L678.9 249.8L679.2 250.1L677.8 251.5ZM683.8 244.7L687.2 241.3L687.7 241.8L684.3 245.2ZM674.1 254.9L676.7 252.4L677.0 252.6L674.3 255.1ZM679.9 249.2L681.5 247.6L681.9 248.0L680.2 249.5ZM685.3 243.9L687.7 241.5L688.2 242.0L685.8 244.3ZM687.8 242.8L690.3 240.4L690.9 241.0L688.2 243.3ZM674.8 255.2L677.5 252.9L677.7 253.2L675.0 255.4ZM677.5 252.9L680.0 250.7L680.3 251.1L677.7 253.2ZM687.0 244.7L689.3 242.8L689.7 243.4L687.5 245.2ZM700.6 233.2L702.1 231.9L702.7 232.7L701.2 233.9ZM680.6 250.7L682.2 249.3L682.5 249.7L680.8 251.0ZM696.7 237.3L699.9 234.7L700.5 235.5L697.3 238.1ZM699.9 234.7L701.2 233.5L701.9 234.4L700.5 235.5ZM675.4 255.2L678.6 252.6L678.9 252.9L675.5 255.4ZM672.1 258.2L674.4 256.4L674.6 256.6L672.1 258.3ZM672.1 258.2L676.1 255.4L676.2 255.6L672.2 258.4ZM678.9 253.4L680.9 251.9L681.2 252.3L679.1 253.7ZM685.8 248.4L687.8 247.0L688.2 247.5L686.1 248.9ZM698.9 239.0L699.4 238.6L699.9 239.5L699.4 239.8ZM699.4 238.7L701.4 237.3L701.9 238.0L699.9 239.4ZM672.2 258.4L674.6 256.8L674.7 257.0L672.3 258.5ZM677.5 255.2L681.2 252.8L681.4 253.1L677.6 255.4ZM686.1 249.6L688.9 247.8L689.2 248.4L686.4 250.1ZM701.1 240.0L702.9 238.9L703.4 239.8L701.7 240.8ZM690.6 247.3L693.8 245.3L694.2 246.0L691.0 247.9ZM693.8 245.3L695.8 244.1L696.2 244.8L694.2 246.0ZM700.7 240.4L702.7 239.2L703.8 241.1L701.8 242.2ZM678.1 255.3L680.3 254.0L680.5 254.3L678.3 255.6ZM684.1 251.7L687.0 250.0L687.3 250.5L684.3 252.2ZM696.1 244.6L698.8 243.0L699.2 243.8L696.5 245.3ZM698.8 243.0L702.9 240.5L703.5 241.4L699.2 243.8ZM703.8 239.3L705.1 238.6L706.2 240.6L705.0 241.3ZM690.5 248.5L692.7 247.2L693.0 247.9L690.8 249.1ZM705.6 240.0L707.0 239.1L707.5 240.0L706.1 240.8ZM690.7 248.9L693.9 247.1L694.3 247.8L691.0 249.5ZM702.0 244.3L703.1 243.7L703.5 244.6L702.4 245.1ZM703.0 243.5L704.0 243.0L704.7 244.3L703.6 244.8ZM685.2 253.1L688.4 251.6L688.6 252.1L685.4 253.6ZM695.7 248.0L699.1 246.4L699.5 247.2L696.0 248.8ZM702.2 244.9L703.5 244.3L703.9 245.2L702.6 245.8ZM703.3 243.8L704.6 243.1L705.5 245.1L704.2 245.7ZM695.1 249.0L698.6 247.3L699.0 248.1L695.4 249.7ZM705.1 244.1L706.1 243.6L706.8 245.0L705.6 245.5ZM707.2 244.4L708.6 243.8L709.4 246.0L708.1 246.5ZM704.3 248.5L708.0 247.1L708.4 248.2L704.6 249.4ZM697.2 219.4L698.3 217.9L699.4 218.6L698.2 220.2ZM712.6 237.9L713.6 237.4L714.2 238.6L713.2 239.0Z"/>
<path fill="#000458" d="M671.6 257.6L673.4 255.9L673.5 256.0L671.7 257.7ZM673.4 255.9L675.1 254.2L675.3 254.4L673.5 256.0ZM675.1 254.2L678.5 251.0L678.8 251.3L675.3 254.4ZM674.8 254.8L677.6 252.2L677.8 252.5L675.0 255.0ZM677.6 252.2L679.8 250.1L680.1 250.4L677.8 252.5ZM671.7 257.8L675.2 254.7L675.4 254.9L671.8 257.9ZM675.2 254.7L678.8 251.4L679.1 251.7L675.4 254.9ZM680.0 250.7L682.1 249.0L682.4 249.4L680.3 251.1ZM671.9 257.9L675.4 255.0L675.5 255.2L672.0 258.0ZM675.4 255.0L678.9 252.0L679.2 252.3L675.5 255.2ZM682.2 249.3L686.0 246.1L686.4 246.6L682.5 249.7ZM671.9 258.0L675.4 255.2L675.5 255.4L672.0 258.1ZM678.6 252.6L680.6 251.0L680.9 251.4L678.9 252.9ZM680.6 251.0L683.7 248.5L684.1 249.0L680.9 251.4ZM672.0 258.1L673.7 256.7L673.8 256.9L672.1 258.2ZM673.7 256.7L676.9 254.3L677.1 254.5L673.8 256.9ZM676.9 254.3L679.9 252.0L680.1 252.3L677.1 254.5ZM682.9 249.7L685.3 247.8L685.7 248.2L683.2 250.0ZM685.3 247.8L688.3 245.5L688.7 246.0L685.7 248.2ZM674.4 256.4L678.4 253.4L678.6 253.7L674.6 256.6ZM678.4 253.4L682.2 250.6L682.5 251.0L678.6 253.7ZM682.2 250.6L684.0 249.2L684.3 249.7L682.5 251.0ZM684.0 249.2L686.8 247.1L687.2 247.6L684.3 249.7ZM686.8 247.1L689.0 245.5L689.4 246.1L687.2 247.6ZM680.9 251.9L683.5 250.1L683.8 250.5L681.2 252.3ZM683.5 250.1L685.8 248.4L686.1 248.9L683.8 250.5ZM687.8 247.0L690.4 245.1L690.9 245.7L688.2 247.5ZM690.4 245.1L692.8 243.4L693.3 244.0L690.9 245.7ZM672.2 258.3L675.9 255.7L676.1 256.0L672.3 258.5ZM677.7 254.5L679.6 253.2L679.8 253.5L677.9 254.8ZM688.5 247.0L692.5 244.3L692.9 244.9L688.9 247.6ZM692.5 244.3L694.4 242.9L694.9 243.6L692.9 244.9ZM674.6 256.8L676.6 255.5L676.8 255.7L674.7 257.0ZM676.6 255.5L679.4 253.6L679.6 253.9L676.8 255.7ZM682.8 251.4L686.6 248.8L687.0 249.3L683.0 251.8ZM686.6 248.8L689.1 247.2L689.5 247.7L687.0 249.3ZM689.1 247.2L690.9 246.0L691.3 246.6L689.5 247.7ZM690.9 246.0L693.6 244.1L694.1 244.8L691.3 246.6ZM693.6 244.1L697.2 241.8L697.7 242.5L694.1 244.8ZM672.3 258.5L674.2 257.3L674.4 257.4L672.4 258.6ZM674.2 257.3L677.5 255.2L677.6 255.4L674.4 257.4ZM681.2 252.8L684.4 250.7L684.7 251.2L681.4 253.1ZM684.4 250.7L686.1 249.6L686.4 250.1L684.7 251.2ZM690.7 246.7L693.8 244.7L694.3 245.3L691.1 247.2ZM696.1 243.2L697.8 242.1L698.3 242.9L696.5 244.0ZM697.8 242.1L701.1 240.0L701.7 240.8L698.3 242.9ZM702.9 238.9L704.1 238.2L704.6 238.9L703.4 239.7ZM672.4 258.6L675.9 256.4L676.1 256.6L672.4 258.7ZM675.9 256.4L679.1 254.4L679.3 254.7L676.1 256.6ZM679.1 254.4L682.8 252.1L683.0 252.5L679.3 254.7ZM682.8 252.1L686.8 249.7L687.1 250.2L683.0 252.5ZM686.8 249.7L690.6 247.3L691.0 247.9L687.1 250.2ZM695.8 244.1L698.1 242.7L698.6 243.4L696.2 244.8ZM698.1 242.7L701.0 240.9L701.5 241.7L698.6 243.4ZM702.7 239.2L704.4 238.1L705.6 240.0L703.8 241.1ZM672.4 258.7L675.9 256.6L676.0 256.8L672.5 258.8ZM675.9 256.6L678.1 255.3L678.3 255.6L676.0 256.8ZM687.0 250.0L690.5 247.9L690.9 248.5L687.3 250.5ZM690.5 247.9L692.9 246.5L693.3 247.1L690.9 248.5ZM692.9 246.5L696.1 244.6L696.5 245.3L693.3 247.1ZM684.6 251.8L688.3 249.7L688.6 250.3L684.9 252.3ZM688.3 249.7L690.5 248.5L690.8 249.1L688.6 250.3ZM699.5 243.4L703.4 241.1L703.9 242.0L699.9 244.2ZM681.5 254.0L684.5 252.3L684.8 252.7L681.7 254.3ZM693.9 247.1L696.1 245.9L696.5 246.7L694.3 247.8ZM696.1 245.9L700.5 243.6L700.9 244.4L696.5 246.7ZM680.4 254.9L682.6 253.7L682.7 254.1L680.5 255.2ZM682.6 253.7L685.9 252.0L686.1 252.4L682.7 254.1ZM689.3 250.2L692.9 248.3L693.2 248.9L689.6 250.7ZM692.9 248.3L694.7 247.3L695.0 248.0L693.2 248.9ZM699.1 245.0L702.5 243.2L703.0 244.1L699.5 245.8ZM702.5 243.2L704.6 242.1L705.1 243.1L703.0 244.1ZM685.6 252.5L689.2 250.7L689.4 251.3L685.8 253.0ZM689.2 250.7L692.8 248.9L693.1 249.5L689.4 251.3ZM692.8 248.9L696.8 246.9L697.2 247.6L693.1 249.5ZM696.8 246.9L698.6 245.9L699.0 246.7L697.2 247.6ZM677.1 257.0L678.9 256.1L679.0 256.4L677.2 257.3ZM688.4 251.6L691.8 249.9L692.1 250.5L688.6 252.1ZM691.8 249.9L695.7 248.0L696.0 248.8L692.1 250.5ZM704.8 243.7L707.0 242.7L707.4 243.6L705.2 244.5ZM706.7 242.1L708.1 241.4L709.1 243.5L707.6 244.2ZM676.8 257.4L680.1 255.8L680.3 256.2L676.9 257.6ZM687.1 252.6L691.1 250.8L691.3 251.4L687.3 253.1ZM691.1 250.8L695.1 249.0L695.4 249.7L691.3 251.4ZM698.6 247.3L702.7 245.4L703.1 246.3L699.0 248.1ZM702.7 245.4L705.1 244.3L705.6 245.3L703.1 246.3ZM706.0 243.3L708.2 242.2L709.1 244.4L706.9 245.3ZM708.2 242.2L709.5 241.6L710.5 243.9L709.1 244.4ZM682.2 255.2L684.4 254.2L684.6 254.7L682.4 255.6ZM691.2 251.2L693.8 250.1L694.1 250.8L691.4 251.9ZM700.6 247.1L703.3 245.9L703.7 246.8L701.0 247.9ZM703.3 245.9L706.2 244.6L706.6 245.6L703.7 246.8ZM706.2 244.6L707.3 244.2L707.7 245.2L706.6 245.6ZM691.9 251.4L694.6 250.3L694.9 251.0L692.1 252.1ZM694.6 250.3L697.1 249.3L697.4 250.0L694.9 251.0ZM700.7 247.7L704.5 246.1L704.9 247.1L701.0 248.6ZM708.8 244.4L710.7 243.7L711.1 244.6L709.2 245.3ZM693.7 251.2L696.6 250.1L696.9 250.8L693.9 251.9ZM696.6 250.1L701.1 248.3L701.4 249.1L696.9 250.8ZM691.5 252.6L695.9 250.9L696.1 251.6L691.8 253.2ZM695.9 250.9L700.0 249.4L700.3 250.2L696.1 251.6ZM700.0 249.4L702.4 248.5L702.7 249.3L700.3 250.2ZM705.7 247.2L708.0 246.3L708.4 247.4L706.0 248.2ZM708.0 246.3L709.2 245.9L709.6 246.9L708.4 247.4ZM709.2 246.0L711.4 245.1L711.8 246.1L709.6 246.9ZM711.4 245.1L713.0 244.5L713.4 245.5L711.8 246.1ZM713.0 244.5L714.9 243.8L715.3 244.8L713.4 245.5ZM702.2 249.2L704.3 248.5L704.6 249.4L702.5 250.1ZM704.5 249.1L707.0 248.3L707.3 249.3L704.8 250.1ZM704.0 251.4L706.2 250.8L706.4 251.8L704.3 252.3ZM707.5 252.0L708.9 251.7L709.1 252.6L707.7 252.9ZM702.5 254.4L707.2 253.5L707.4 254.5L702.7 255.3ZM698.6 255.8L702.5 255.1L702.7 256.0L698.7 256.6ZM665.8 267.6L664.6 272.3L664.3 272.2L665.6 267.5ZM665.6 267.5L664.4 271.4L664.2 271.3L665.4 267.5ZM720.8 248.7L722.5 248.3L722.8 249.6L721.1 250.0ZM712.5 240.0L713.5 239.5L714.1 240.6L713.1 241.1ZM713.2 242.5L715.0 241.8L715.5 242.9L713.7 243.7ZM724.8 254.0L726.9 253.7L727.1 255.1L725.0 255.4ZM718.2 242.5L719.4 242.0L719.9 243.3L718.7 243.7Z"/>
<path fill="#f00000" d="M688.9 247.8L690.7 246.7L691.1 247.2L689.2 248.4ZM692.7 247.2L695.2 245.8L695.6 246.5L693.0 247.9ZM675.9 257.0L678.3 255.7L678.4 256.0L676.0 257.2ZM677.5 256.4L680.4 254.9L680.5 255.2L677.6 256.6ZM698.6 245.9L702.0 244.3L702.4 245.1L699.0 246.7ZM682.8 254.3L685.2 253.1L685.4 253.6L683.0 254.7ZM688.9 252.7L691.9 251.4L692.1 252.1L689.1 253.2ZM705.9 245.7L707.5 245.0L707.8 245.8L706.2 246.5ZM665.7 267.5L664.9 270.5L664.7 270.4L665.5 267.5ZM664.6 269.6L663.9 271.8L663.7 271.8L664.4 269.6ZM664.0 271.1L663.0 273.9L662.7 273.8L663.7 271.0ZM663.0 273.9L661.7 277.5L661.4 277.3L662.7 273.8ZM660.5 281.1L659.7 283.5L659.1 283.3L660.0 280.9ZM662.1 275.6L661.3 277.9L660.9 277.8L661.8 275.5ZM661.3 277.9L660.1 281.0L659.7 280.8L660.9 277.8ZM665.1 267.3L663.7 270.9L663.4 270.8L664.9 267.3ZM663.9 269.9L662.3 273.8L662.0 273.7L663.7 269.8ZM661.0 276.9L659.4 280.8L659.0 280.6L660.7 276.8ZM659.4 280.8L658.4 283.4L657.8 283.2L659.0 280.6Z"/>
<path fill="#f82800" d="M672.5 258.8L676.4 256.5L676.5 256.8L672.5 258.9ZM672.5 258.9L675.9 257.0L676.0 257.2L672.6 259.0ZM674.4 258.0L677.5 256.4L677.6 256.6L674.5 258.2ZM672.7 259.2L676.8 257.4L676.9 257.6L672.8 259.4ZM680.1 255.8L682.7 254.6L682.9 255.0L680.3 256.2ZM672.7 259.3L676.3 257.8L676.4 258.0L672.8 259.5ZM676.3 257.8L679.4 256.4L679.6 256.7L676.4 258.0ZM672.8 259.4L675.6 258.2L675.7 258.4L672.8 259.6ZM675.6 258.2L679.2 256.7L679.3 257.0L675.7 258.4ZM682.2 255.5L686.4 253.7L686.6 254.2L682.4 255.9ZM686.4 253.7L688.9 252.7L689.1 253.2L686.6 254.2ZM672.8 259.5L675.4 258.5L675.5 258.7L672.9 259.7ZM675.4 258.5L677.7 257.6L677.8 257.9L675.5 258.7ZM672.9 259.6L676.9 258.1L677.0 258.3L672.9 259.8ZM676.9 258.1L680.9 256.6L681.0 256.9L677.0 258.3ZM680.9 256.6L684.8 255.1L685.0 255.5L681.0 256.9ZM677.6 258.1L681.5 256.6L681.6 257.0L677.7 258.3ZM681.5 256.6L683.7 255.8L683.9 256.3L681.6 257.0ZM683.7 255.8L687.6 254.5L687.8 255.0L683.9 256.3ZM690.6 253.4L693.6 252.3L693.8 253.0L690.8 254.0ZM685.9 255.4L689.7 254.2L689.9 254.7L686.0 255.9ZM701.8 250.0L704.5 249.1L704.8 250.1L702.1 250.9ZM706.8 247.7L707.8 247.4L708.5 249.5L707.5 249.8ZM708.0 248.0L709.1 247.7L709.4 248.6L708.3 248.9ZM682.0 257.0L686.6 255.6L686.8 256.0L682.1 257.4ZM686.6 255.6L689.9 254.5L690.1 255.1L686.8 256.0ZM689.9 254.5L694.7 253.0L694.9 253.7L690.1 255.1ZM694.7 253.0L698.2 251.9L698.5 252.6L694.9 253.7ZM684.8 256.5L688.9 255.2L689.1 255.8L685.0 256.9ZM688.9 255.2L691.2 254.6L691.3 255.2L689.1 255.8ZM691.2 254.6L694.8 253.5L695.0 254.2L691.3 255.2ZM703.4 250.9L707.1 249.8L707.4 250.8L703.7 251.8ZM708.8 249.4L710.5 248.9L710.8 249.8L709.0 250.2ZM710.4 248.6L712.7 247.9L713.1 249.5L710.8 250.1ZM688.4 255.8L692.4 254.7L692.5 255.3L688.6 256.3ZM692.4 254.7L696.6 253.5L696.8 254.2L692.5 255.3ZM706.1 250.6L708.4 250.0L708.7 251.4L706.5 252.0ZM692.6 255.1L696.0 254.2L696.2 254.9L692.8 255.7ZM696.0 254.2L700.0 253.1L700.2 254.0L696.2 254.9ZM700.0 253.1L703.8 252.2L704.0 253.1L700.2 254.0ZM707.7 251.1L711.3 250.2L711.6 251.3L707.9 252.1ZM691.8 255.8L694.6 255.1L694.8 255.8L691.9 256.4ZM694.6 255.1L698.1 254.2L698.3 255.0L694.8 255.8ZM698.1 254.2L700.8 253.5L701.0 254.4L698.3 255.0ZM700.8 253.5L704.6 252.6L704.8 253.6L701.0 254.4ZM713.2 249.9L714.9 249.4L715.4 251.9L713.7 252.3ZM694.8 255.5L697.3 255.0L697.5 255.7L695.0 256.2ZM697.3 255.0L701.8 254.0L702.0 254.8L697.5 255.7ZM701.8 254.0L704.4 253.4L704.6 254.3L702.0 254.8ZM704.4 253.4L707.2 252.7L707.4 253.7L704.6 254.3ZM707.2 252.8L709.0 252.4L709.2 253.3L707.4 253.7ZM711.1 251.6L712.1 251.4L712.4 253.0L711.4 253.2ZM695.0 256.0L698.1 255.4L698.2 256.1L695.1 256.7ZM698.1 255.4L702.5 254.4L702.7 255.3L698.2 256.1ZM709.3 253.0L711.2 252.6L711.4 253.7L709.5 254.1ZM711.2 252.7L713.4 252.3L713.6 253.2L711.4 253.6ZM715.7 251.5L716.9 251.2L717.2 252.9L716.0 253.2ZM717.0 251.5L718.3 251.3L718.5 252.3L717.2 252.6ZM702.5 255.1L707.2 254.2L707.4 255.2L702.7 256.0ZM707.2 254.2L710.5 253.6L710.7 254.6L707.4 255.2ZM702.0 255.8L704.7 255.3L704.8 256.3L702.1 256.7ZM704.7 255.3L708.3 254.7L708.4 255.8L704.8 256.3ZM708.8 254.0L711.0 253.6L711.3 255.9L709.2 256.2ZM716.0 253.1L717.5 252.9L717.7 254.7L716.3 254.9ZM680.6 264.2L682.9 264.6L682.9 265.0L680.6 264.5ZM700.3 267.7L703.1 268.2L702.9 269.1L700.1 268.6ZM703.1 268.2L705.5 268.7L705.3 269.6L702.9 269.1ZM714.5 270.3L716.0 270.6L715.7 271.8L714.3 271.5ZM677.0 263.7L679.7 264.2L679.7 264.6L676.9 263.9ZM684.8 265.3L686.9 265.7L686.8 266.2L684.7 265.7ZM702.7 268.8L705.3 269.3L705.1 270.3L702.5 269.7ZM715.2 271.1L716.5 271.3L716.2 273.0L714.8 272.7ZM716.5 271.3L718.0 271.6L717.6 273.4L716.2 273.0ZM718.0 271.6L719.3 271.9L718.9 273.7L717.6 273.4ZM681.0 264.8L683.5 265.3L683.4 265.7L681.0 265.1ZM704.4 269.8L706.7 270.3L706.5 271.3L704.2 270.8ZM706.7 270.3L710.3 271.1L710.1 272.2L706.5 271.3ZM692.3 268.1L694.8 268.8L694.6 269.4L692.1 268.7ZM673.0 263.3L676.4 264.2L676.3 264.5L673.0 263.5ZM676.4 264.2L679.5 265.1L679.4 265.4L676.3 264.5ZM687.6 267.3L691.3 268.3L691.1 268.9L687.5 267.8ZM691.3 268.3L695.8 269.5L695.6 270.3L691.1 268.9ZM705.1 272.1L707.8 272.8L707.5 273.8L704.8 273.0ZM712.4 274.1L713.8 274.5L713.4 275.6L712.1 275.2ZM713.7 274.6L715.2 275.0L714.9 276.0L713.5 275.5ZM715.4 274.2L717.1 274.7L716.4 277.2L714.7 276.7ZM713.7 278.2L715.8 278.9L714.8 281.5L712.8 280.6ZM668.2 267.7L668.8 271.8L668.5 271.9L668.0 267.7ZM668.0 267.7L668.4 271.6L668.2 271.7L667.8 267.7ZM666.8 267.7L666.6 270.9L666.3 270.9L666.7 267.7ZM666.0 267.6L665.5 269.9L665.3 269.9L665.8 267.6ZM664.6 272.3L663.5 276.6L663.1 276.5L664.3 272.2ZM663.5 276.6L662.8 279.2L662.4 279.1L663.1 276.5ZM664.9 270.5L664.0 273.8L663.7 273.7L664.7 270.4ZM664.4 271.4L663.6 274.3L663.3 274.2L664.2 271.3ZM665.5 267.5L664.8 269.7L664.6 269.6L665.3 267.4ZM664.8 269.7L663.6 273.4L663.3 273.3L664.6 269.6ZM661.7 277.5L660.5 281.1L660.0 280.9L661.4 277.3ZM660.2 279.8L658.5 284.3L657.9 284.1L659.8 279.6ZM722.0 278.8L723.6 279.3L723.2 280.7L721.6 280.1ZM725.8 268.2L727.2 268.4L727.0 269.8L725.6 269.6ZM721.7 270.7L723.6 271.0L723.3 272.3L721.4 272.0ZM719.8 245.0L721.2 244.5L721.6 245.9L720.2 246.3ZM715.6 250.9L716.7 250.6L716.9 251.8L715.8 252.0ZM716.3 253.4L718.1 253.1L718.3 254.3L716.5 254.6ZM717.4 247.7L718.6 247.3L718.9 248.6L717.7 248.9Z"/>
<path fill="#f81000" d="M672.6 259.0L674.4 258.0L674.5 258.2L672.6 259.1ZM672.6 259.1L674.9 257.9L675.0 258.1L672.7 259.2ZM674.9 257.9L677.4 256.6L677.6 256.9L675.0 258.1ZM677.4 256.6L681.8 254.4L681.9 254.8L677.6 256.9ZM681.8 254.4L685.6 252.5L685.8 253.0L681.9 254.8ZM672.7 259.1L677.1 257.0L677.2 257.3L672.7 259.3ZM678.9 256.1L682.8 254.3L683.0 254.7L679.0 256.4ZM682.7 254.6L687.1 252.6L687.3 253.1L682.9 255.0ZM679.4 256.4L682.2 255.2L682.4 255.6L679.6 256.7ZM684.4 254.2L687.7 252.8L687.9 253.3L684.6 254.7ZM687.7 252.8L691.2 251.2L691.4 251.9L687.9 253.3ZM679.2 256.7L682.2 255.5L682.4 255.9L679.3 257.0ZM682.2 255.8L684.0 255.1L684.2 255.5L682.3 256.2ZM684.0 255.1L688.1 253.4L688.3 254.0L684.2 255.5ZM688.1 253.4L690.9 252.3L691.1 252.9L688.3 254.0ZM690.9 252.3L693.7 251.2L693.9 251.9L691.1 252.9ZM684.8 255.1L689.2 253.4L689.4 254.0L685.0 255.5ZM689.2 253.4L691.5 252.6L691.8 253.2L689.4 254.0ZM687.6 254.5L690.6 253.4L690.8 254.0L687.8 255.0ZM693.6 252.3L698.2 250.7L698.5 251.4L693.8 253.0ZM697.7 251.4L701.8 250.0L702.1 250.9L697.9 252.2ZM698.2 251.9L701.0 251.0L701.3 251.8L698.5 252.6ZM701.0 251.0L705.5 249.5L705.8 250.5L701.3 251.8ZM705.5 249.5L707.4 248.9L707.7 249.9L705.8 250.5ZM701.3 251.5L703.4 250.9L703.7 251.8L701.6 252.4ZM696.6 253.5L700.3 252.5L700.5 253.3L696.8 254.2ZM700.3 252.5L704.0 251.4L704.3 252.3L700.5 253.3ZM709.7 249.2L710.7 248.9L711.3 251.2L710.3 251.4ZM710.8 249.3L712.9 248.7L713.4 250.3L711.2 250.8ZM713.0 249.0L714.2 248.6L714.4 249.6L713.3 249.9ZM703.8 252.2L707.7 251.1L707.9 252.1L704.0 253.1ZM711.2 249.6L713.0 249.1L713.6 251.5L711.7 251.9ZM713.1 249.5L715.3 248.9L715.7 250.6L713.5 251.1ZM715.4 249.2L716.7 248.9L716.9 249.9L715.7 250.2ZM679.7 264.2L681.8 264.6L681.7 265.0L679.7 264.6ZM705.3 269.3L709.7 270.2L709.5 271.3L705.1 270.3ZM665.9 267.6L665.1 271.0L664.8 270.9L665.7 267.6ZM663.6 273.4L662.2 278.1L661.8 278.0L663.3 273.3ZM663.9 271.8L662.6 275.9L662.2 275.8L663.7 271.8ZM659.7 283.5L659.3 284.4L658.7 284.2L659.1 283.3ZM665.2 267.4L664.0 270.6L663.8 270.5L665.0 267.3ZM664.0 270.6L663.1 273.0L662.8 272.9L663.8 270.5ZM660.1 281.0L658.9 284.4L658.3 284.2L659.7 280.8ZM665.0 267.3L663.9 269.9L663.7 269.8L664.8 267.2ZM662.3 273.8L661.0 276.9L660.7 276.8L662.0 273.7ZM658.4 283.4L658.0 284.3L657.4 284.1L657.8 283.2Z"/>
<path fill="#f86000" d="M677.7 257.6L682.2 255.8L682.3 256.2L677.8 257.9ZM692.2 253.3L695.6 252.1L695.9 252.8L692.4 253.9ZM675.9 259.0L678.2 258.3L678.3 258.5L675.9 259.2ZM707.2 248.4L709.1 247.8L709.8 250.0L707.9 250.5ZM673.1 260.2L677.1 259.2L677.2 259.4L673.1 260.4ZM677.1 259.2L681.0 258.1L681.1 258.5L677.2 259.4ZM673.1 260.3L675.7 259.7L675.7 259.9L673.1 260.5ZM675.7 259.7L679.4 258.8L679.5 259.1L675.7 259.9ZM679.4 258.8L681.6 258.3L681.7 258.6L679.5 259.1ZM673.1 260.4L676.0 259.8L676.0 260.0L673.1 260.6ZM676.0 259.8L678.1 259.3L678.2 259.6L676.0 260.0ZM678.1 259.3L680.6 258.7L680.7 259.1L678.2 259.6ZM680.6 258.7L684.3 257.9L684.4 258.3L680.7 259.1ZM673.1 260.5L676.1 259.9L676.2 260.1L673.2 260.7ZM676.1 259.9L679.5 259.2L679.5 259.5L676.2 260.1ZM679.5 259.2L682.1 258.7L682.2 259.0L679.5 259.5ZM682.1 258.7L684.7 258.1L684.8 258.6L682.2 259.0ZM684.7 258.1L688.0 257.5L688.1 258.0L684.8 258.6ZM679.2 259.5L683.7 258.6L683.8 259.1L679.2 259.8ZM683.7 258.6L686.4 258.1L686.5 258.6L683.8 259.1ZM686.4 258.1L691.2 257.2L691.3 257.8L686.5 258.6ZM682.1 259.2L684.9 258.7L685.0 259.2L682.2 259.6ZM684.9 258.7L687.1 258.3L687.2 258.8L685.0 259.2ZM687.1 258.3L690.4 257.8L690.5 258.4L687.2 258.8ZM685.0 259.0L687.9 258.6L687.9 259.1L685.1 259.5ZM687.9 258.6L692.8 257.8L692.9 258.5L687.9 259.1ZM687.1 259.1L690.1 258.7L690.2 259.2L687.1 259.6ZM690.1 258.7L693.9 258.1L694.0 258.8L690.2 259.2ZM693.9 258.1L697.6 257.6L697.7 258.4L694.0 258.8ZM689.6 259.1L694.2 258.6L694.3 259.3L689.7 259.7ZM694.2 258.6L699.1 258.0L699.2 258.8L694.3 259.3ZM690.5 259.4L692.8 259.2L692.8 259.8L690.6 260.0ZM692.8 259.2L694.8 259.0L694.8 259.7L692.8 259.8ZM694.8 259.0L697.4 258.7L697.5 259.5L694.8 259.7ZM697.4 258.7L701.1 258.4L701.1 259.2L697.5 259.5ZM703.1 258.2L706.4 257.8L706.5 258.8L703.1 259.1ZM711.8 257.4L713.3 257.2L713.3 258.2L711.8 258.3ZM693.5 259.6L696.8 259.3L696.8 260.1L693.5 260.2ZM696.8 259.3L701.3 258.9L701.3 259.8L696.8 260.1ZM697.2 259.8L699.6 259.6L699.6 260.5L697.2 260.6ZM699.6 259.6L704.3 259.3L704.3 260.3L699.6 260.5ZM704.3 259.3L707.6 259.1L707.7 260.1L704.3 260.3ZM699.1 260.2L701.8 260.1L701.9 261.0L699.1 261.0ZM701.8 260.1L706.7 259.9L706.8 260.9L701.9 261.0ZM706.7 259.9L709.9 259.7L710.0 260.8L706.8 260.9ZM709.9 259.5L711.2 259.4L711.3 261.0L710.0 261.0ZM711.2 259.4L712.9 259.4L713.0 261.0L711.3 261.0ZM712.9 259.0L715.2 258.8L715.3 261.3L713.0 261.4ZM719.8 258.5L721.6 258.4L721.7 261.3L719.9 261.3ZM699.4 260.8L701.9 260.7L701.9 261.6L699.4 261.6ZM701.9 260.7L705.9 260.6L706.0 261.6L701.9 261.6ZM705.9 260.6L709.4 260.5L709.4 261.5L706.0 261.6ZM709.4 260.5L712.7 260.4L712.7 261.5L709.4 261.5ZM712.7 260.4L714.8 260.3L714.8 261.5L712.7 261.5ZM714.8 260.1L716.7 260.0L716.7 261.8L714.8 261.8ZM720.6 259.9L722.5 259.8L722.5 261.8L720.6 261.8ZM703.1 261.3L705.3 261.3L705.3 262.2L703.1 262.2ZM708.9 261.2L713.0 261.2L713.0 262.3L708.9 262.3ZM713.0 261.3L714.5 261.3L714.5 262.2L713.0 262.2ZM714.4 260.5L716.9 260.4L716.9 263.1L714.4 263.0ZM678.7 263.6L683.2 264.4L683.1 264.8L678.6 263.9ZM693.1 266.0L698.0 266.8L697.8 267.5L693.0 266.6ZM673.2 262.8L677.2 263.6L677.1 263.8L673.1 263.0ZM677.2 263.6L680.6 264.2L680.6 264.5L677.1 263.8ZM682.9 264.6L686.5 265.2L686.4 265.7L682.9 265.0ZM694.2 266.6L697.2 267.2L697.1 267.9L694.1 267.3ZM715.9 270.7L718.2 271.1L718.0 272.2L715.7 271.7ZM681.8 264.6L684.8 265.3L684.7 265.7L681.7 265.0ZM686.9 265.7L689.6 266.2L689.4 266.8L686.8 266.2ZM698.1 267.9L702.7 268.8L702.5 269.7L698.0 268.7ZM709.7 270.2L711.3 270.5L711.1 271.6L709.5 271.3ZM673.1 263.0L677.1 263.9L677.1 264.1L673.1 263.2ZM696.4 268.1L700.3 268.9L700.1 269.8L696.2 268.8ZM700.3 268.9L704.4 269.8L704.2 270.8L700.1 269.8ZM682.4 265.3L684.6 265.8L684.5 266.3L682.3 265.7ZM687.7 266.6L689.7 267.1L689.6 267.6L687.5 267.1ZM698.1 269.0L701.3 269.8L701.1 270.6L697.9 269.8ZM701.3 269.8L703.4 270.3L703.2 271.2L701.1 270.6ZM718.3 273.9L719.8 274.3L719.5 275.4L718.1 275.0ZM719.8 273.9L721.1 274.2L720.7 276.1L719.4 275.7ZM673.1 263.2L675.2 263.8L675.2 264.0L673.0 263.4ZM689.6 267.4L692.3 268.1L692.1 268.7L689.4 268.0ZM705.9 271.6L708.3 272.2L708.0 273.2L705.6 272.6ZM714.8 273.2L716.5 273.6L715.8 276.1L714.2 275.6ZM684.8 266.6L687.6 267.3L687.5 267.8L684.7 267.0ZM695.8 269.5L700.6 270.8L700.3 271.7L695.6 270.3ZM707.8 272.8L712.4 274.1L712.1 275.2L707.5 273.8ZM703.4 272.3L706.3 273.1L706.0 274.1L703.1 273.2ZM673.0 263.5L677.7 265.0L677.6 265.3L672.9 263.7ZM677.7 265.0L680.4 265.8L680.3 266.2L677.6 265.3ZM684.5 267.1L688.1 268.2L687.9 268.7L684.4 267.6ZM694.3 270.2L697.7 271.2L697.4 272.0L694.1 270.8ZM697.7 271.2L700.4 272.1L700.1 272.9L697.4 272.0ZM685.3 267.7L688.8 268.9L688.6 269.4L685.2 268.2ZM688.8 268.9L693.4 270.4L693.1 271.0L688.6 269.4ZM693.4 270.4L697.3 271.7L697.1 272.4L693.1 271.0ZM709.5 275.7L710.8 276.1L710.4 277.2L709.1 276.8ZM712.3 276.4L714.6 277.1L714.0 278.8L711.7 277.9ZM672.9 263.7L676.6 265.0L676.5 265.3L672.9 263.9ZM686.3 268.4L689.9 269.7L689.7 270.3L686.1 268.9ZM689.9 269.7L693.7 271.0L693.5 271.7L689.7 270.3ZM696.9 272.1L700.8 273.5L700.5 274.3L696.6 272.9ZM706.4 275.5L709.4 276.5L709.0 277.6L706.1 276.4ZM672.9 263.8L676.8 265.3L676.7 265.5L672.8 264.0ZM688.2 269.5L691.3 270.6L691.1 271.2L688.0 270.0ZM693.6 271.5L696.5 272.6L696.3 273.3L693.4 272.2ZM705.6 275.9L709.4 277.3L709.0 278.4L705.2 276.9ZM682.1 267.6L685.2 268.8L685.1 269.2L682.0 267.9ZM697.6 273.6L700.1 274.5L699.7 275.4L697.3 274.3ZM700.1 274.5L703.9 276.0L703.5 276.9L699.7 275.4ZM703.9 276.0L707.2 277.3L706.8 278.3L703.5 276.9ZM672.8 264.0L676.9 265.7L676.8 266.0L672.7 264.2ZM708.4 278.4L710.3 279.1L709.7 280.6L707.8 279.8ZM710.2 279.4L712.1 280.2L711.7 281.2L709.8 280.3ZM682.8 268.4L686.4 270.0L686.2 270.5L682.6 268.8ZM699.3 275.5L702.9 277.1L702.5 278.0L698.9 276.3ZM680.2 267.6L684.6 269.6L684.4 270.0L680.1 267.9ZM686.9 270.6L690.2 272.1L689.9 272.7L686.7 271.1ZM694.4 274.6L697.0 275.8L696.7 276.6L694.1 275.3ZM712.3 283.2L714.0 284.0L712.8 286.5L711.1 285.6ZM672.5 264.6L674.7 265.8L674.6 265.9L672.5 264.7ZM687.3 272.5L690.7 274.4L690.4 275.0L687.0 273.0ZM690.7 274.4L694.0 276.2L693.7 276.8L690.4 275.0ZM700.0 279.4L703.0 281.0L702.5 281.9L699.6 280.2ZM695.9 277.8L698.6 279.3L698.1 280.1L695.5 278.6ZM712.8 287.4L714.1 288.1L713.5 289.1L712.2 288.3ZM712.6 287.4L714.6 288.5L713.1 291.0L711.2 289.8ZM675.2 266.6L678.1 268.3L677.9 268.6L675.1 266.8ZM683.0 272.1L686.1 274.1L685.8 274.6L682.8 272.5ZM702.6 285.9L704.5 287.2L703.9 288.1L702.0 286.7ZM672.1 265.2L674.4 266.8L674.2 267.0L672.1 265.3ZM695.8 281.9L698.8 284.1L698.2 284.9L695.3 282.6ZM700.9 285.5L702.6 286.8L702.0 287.7L700.3 286.4ZM702.6 286.8L705.6 288.9L704.9 289.9L702.0 287.7ZM705.8 288.7L707.8 290.1L706.8 291.5L704.8 290.0ZM672.0 265.4L674.9 267.6L674.7 267.8L671.9 265.5ZM692.0 280.6L695.2 283.0L694.7 283.7L691.5 281.2ZM695.2 283.0L698.3 285.4L697.7 286.1L694.7 283.7ZM698.3 285.4L700.2 286.8L699.6 287.7L697.7 286.1ZM696.4 284.7L698.5 286.4L697.8 287.2L695.8 285.5ZM704.3 291.0L706.0 292.3L705.2 293.3L703.5 291.9ZM707.9 294.0L708.8 294.7L708.1 295.5L707.2 294.8ZM670.3 266.9L672.3 270.3L672.1 270.4L670.2 267.0ZM670.2 267.0L672.3 270.7L672.1 270.8L670.1 267.0ZM670.0 267.1L671.7 270.2L671.5 270.3L669.9 267.1ZM669.9 267.1L671.2 269.5L671.0 269.6L669.8 267.2ZM669.8 267.2L671.5 271.0L671.3 271.1L669.6 267.3ZM669.7 267.2L671.4 271.3L671.2 271.4L669.5 267.3ZM671.4 271.3L672.6 274.0L672.3 274.1L671.2 271.4ZM669.5 267.3L671.3 271.9L671.0 272.0L669.3 267.4ZM669.4 267.4L670.3 269.8L670.1 269.9L669.2 267.4ZM669.2 267.4L670.0 269.9L669.8 270.0L669.0 267.5ZM669.1 267.5L670.1 270.8L669.9 270.9L668.9 267.5ZM667.8 267.7L668.1 270.2L667.9 270.2L667.7 267.7ZM667.5 267.7L667.6 269.8L667.4 269.8L667.4 267.7ZM667.6 269.8L667.9 274.5L667.5 274.5L667.4 269.8ZM667.0 267.7L666.8 272.7L666.5 272.7L666.9 267.7ZM666.4 267.7L666.0 270.4L665.8 270.4L666.2 267.7ZM666.1 267.6L665.5 270.3L665.3 270.3L665.9 267.6ZM664.3 274.2L663.5 277.5L663.1 277.4L664.0 274.1ZM662.0 282.3L661.4 284.6L660.9 284.5L661.5 282.1ZM662.4 279.3L661.3 283.4L660.8 283.2L662.0 279.2ZM663.6 274.3L662.2 279.1L661.8 278.9L663.3 274.2ZM661.6 281.1L660.8 283.9L660.2 283.7L661.1 281.0ZM665.4 267.4L664.6 269.6L664.4 269.6L665.2 267.4ZM662.6 275.9L661.4 279.3L661.0 279.2L662.2 275.8ZM661.4 279.3L660.3 282.8L659.8 282.6L661.0 279.2ZM660.3 282.8L659.7 284.5L659.2 284.3L659.8 282.6ZM665.3 267.4L664.0 271.1L663.7 271.0L665.1 267.4ZM663.1 273.0L662.1 275.6L661.8 275.5L662.8 272.9ZM663.7 270.9L662.4 274.2L662.1 274.1L663.4 270.8ZM662.4 274.2L661.4 276.9L661.0 276.7L662.1 274.1ZM661.4 276.9L660.2 279.8L659.8 279.6L661.0 276.7ZM658.5 284.3L658.4 284.4L657.9 284.1L657.9 284.1ZM715.7 254.3L716.8 254.2L717.0 255.4L715.9 255.5ZM719.9 274.2L721.2 274.5L720.9 275.8L719.6 275.5Z"/>
<path fill="#f84000" d="M672.9 259.7L677.6 258.1L677.7 258.3L672.9 259.9ZM672.9 259.8L675.8 258.8L675.9 259.1L673.0 260.0ZM675.8 258.8L677.8 258.2L677.9 258.4L675.9 259.1ZM677.8 258.2L682.4 256.6L682.5 257.0L677.9 258.4ZM682.4 256.6L685.9 255.4L686.0 255.9L682.5 257.0ZM689.7 254.2L692.2 253.3L692.4 253.9L689.9 254.7ZM695.6 252.1L697.7 251.4L697.9 252.2L695.9 252.8ZM710.3 246.5L712.6 245.7L713.4 248.1L711.1 248.8ZM673.0 259.9L675.9 259.0L675.9 259.2L673.0 260.1ZM678.2 258.3L682.0 257.0L682.1 257.4L678.3 258.5ZM673.0 260.0L676.5 259.0L676.6 259.2L673.0 260.2ZM676.5 259.0L678.9 258.2L679.0 258.5L676.6 259.2ZM678.9 258.2L682.1 257.3L682.2 257.7L679.0 258.5ZM682.1 257.3L684.8 256.5L685.0 256.9L682.2 257.7ZM694.8 253.5L697.7 252.6L697.9 253.4L695.0 254.2ZM697.7 252.6L701.3 251.5L701.6 252.4L697.9 253.4ZM707.1 249.8L708.7 249.3L709.0 250.3L707.4 250.8ZM673.0 260.1L676.3 259.2L676.3 259.4L673.1 260.3ZM676.3 259.2L678.7 258.5L678.8 258.8L676.3 259.4ZM678.7 258.5L682.2 257.5L682.3 257.9L678.8 258.8ZM682.2 257.5L684.8 256.8L684.9 257.3L682.3 257.9ZM684.8 256.8L688.4 255.8L688.6 256.3L684.9 257.3ZM708.4 250.0L709.8 249.5L710.2 251.0L708.7 251.4ZM681.0 258.1L685.6 256.9L685.7 257.4L681.1 258.5ZM685.6 256.9L689.2 256.0L689.3 256.5L685.7 257.4ZM689.2 256.0L692.6 255.1L692.8 255.7L689.3 256.5ZM681.6 258.3L683.6 257.8L683.7 258.2L681.7 258.6ZM683.6 257.8L686.9 256.9L687.1 257.4L683.7 258.2ZM686.9 256.9L689.3 256.4L689.5 256.9L687.1 257.4ZM689.3 256.4L691.8 255.8L691.9 256.4L689.5 256.9ZM704.6 252.6L707.5 251.9L707.7 252.9L704.8 253.6ZM717.1 249.3L718.4 249.0L718.8 250.8L717.5 251.1ZM684.3 257.9L686.2 257.5L686.3 257.9L684.4 258.3ZM686.2 257.5L690.0 256.6L690.1 257.2L686.3 257.9ZM690.0 256.6L694.8 255.5L695.0 256.2L690.1 257.2ZM688.0 257.5L690.7 256.9L690.8 257.5L688.1 258.0ZM690.7 256.9L692.9 256.4L693.1 257.1L690.8 257.5ZM692.9 256.4L695.0 256.0L695.1 256.7L693.1 257.1ZM707.2 253.5L709.3 253.0L709.5 254.1L707.4 254.5ZM691.2 257.2L693.8 256.7L693.9 257.4L691.3 257.8ZM693.8 256.7L698.6 255.8L698.7 256.6L693.9 257.4ZM690.4 257.8L693.5 257.3L693.6 257.9L690.5 258.4ZM693.5 257.3L697.1 256.6L697.2 257.4L693.6 257.9ZM697.1 256.6L702.0 255.8L702.1 256.7L697.2 257.4ZM708.3 254.7L708.9 254.6L709.1 255.7L708.4 255.8ZM714.8 253.7L716.1 253.5L716.3 254.5L714.9 254.7ZM692.8 257.8L697.5 257.1L697.6 257.9L692.9 258.5ZM697.5 257.1L701.6 256.5L701.7 257.3L697.6 257.9ZM701.6 256.5L705.8 255.8L705.9 256.8L701.7 257.3ZM705.8 255.8L709.2 255.3L709.3 256.4L705.9 256.8ZM709.2 255.3L711.3 255.0L711.4 256.1L709.3 256.4ZM711.2 254.8L713.0 254.5L713.2 256.1L711.4 256.3ZM713.1 254.8L714.2 254.6L714.4 255.6L713.2 255.8ZM717.1 253.4L718.5 253.2L718.8 255.9L717.5 256.0ZM697.6 257.6L701.4 257.1L701.5 258.0L697.7 258.4ZM701.4 257.1L705.0 256.6L705.1 257.6L701.5 258.0ZM705.0 256.6L709.5 256.0L709.7 257.1L705.1 257.6ZM709.5 256.0L711.8 255.7L711.9 256.8L709.7 257.1ZM711.7 255.1L712.8 254.9L713.1 257.3L712.0 257.4ZM712.8 254.9L714.9 254.6L715.2 257.1L713.1 257.3ZM714.9 254.6L717.3 254.3L717.6 256.9L715.2 257.1ZM717.4 255.1L718.9 254.9L719.0 255.9L717.5 256.1ZM699.1 258.0L701.1 257.8L701.2 258.6L699.2 258.8ZM701.1 257.8L704.7 257.3L704.8 258.3L701.2 258.6ZM704.7 257.3L709.5 256.8L709.6 257.8L704.8 258.3ZM709.4 256.6L711.2 256.4L711.4 257.9L709.6 258.0ZM711.3 256.7L712.7 256.5L712.8 257.4L711.4 257.6ZM701.1 258.4L703.1 258.2L703.1 259.1L701.1 259.2ZM706.4 257.8L709.6 257.5L709.7 258.6L706.5 258.8ZM709.6 257.5L711.8 257.3L711.8 258.4L709.7 258.6ZM701.3 258.9L704.2 258.7L704.2 259.6L701.3 259.8ZM704.2 258.7L706.8 258.5L706.9 259.5L704.2 259.6ZM706.8 258.5L709.6 258.3L709.7 259.3L706.9 259.5ZM709.6 258.0L711.0 257.9L711.1 259.5L709.7 259.5ZM711.0 257.9L712.8 257.8L712.9 259.4L711.1 259.5ZM686.5 265.2L689.8 265.8L689.7 266.4L686.4 265.7ZM697.2 267.2L700.3 267.7L700.1 268.6L697.1 267.9ZM710.4 269.6L714.5 270.3L714.3 271.5L710.2 270.7ZM673.1 262.9L677.0 263.7L676.9 263.9L673.1 263.1ZM689.6 266.2L693.9 267.1L693.7 267.7L689.4 266.8ZM693.9 267.1L698.1 267.9L698.0 268.7L693.7 267.7ZM677.1 263.9L681.0 264.8L681.0 265.1L677.1 264.1ZM683.5 265.3L686.5 265.9L686.4 266.4L683.4 265.7ZM686.5 265.9L688.9 266.5L688.8 267.0L686.4 266.4ZM688.9 266.5L692.3 267.2L692.2 267.8L688.8 267.0ZM677.6 264.2L682.4 265.3L682.3 265.7L677.5 264.4ZM675.2 263.8L677.6 264.4L677.5 264.6L675.2 264.0ZM677.6 264.4L681.7 265.4L681.6 265.8L677.5 264.6ZM686.2 266.6L689.6 267.4L689.4 268.0L686.0 267.0ZM694.8 268.8L698.5 269.7L698.3 270.5L694.6 269.4ZM712.5 273.0L714.7 273.6L714.3 275.2L712.1 274.6ZM718.8 275.0L720.9 275.5L720.6 276.7L718.6 276.1ZM679.5 265.1L682.8 266.0L682.7 266.4L679.4 265.4ZM682.8 266.0L684.8 266.6L684.7 267.0L682.7 266.4ZM700.6 270.8L705.1 272.1L704.8 273.0L700.3 271.7ZM714.8 274.9L717.2 275.6L716.4 278.2L714.0 277.4ZM704.6 274.1L707.1 274.9L706.8 275.9L704.3 275.0ZM712.3 276.8L714.1 277.4L713.2 279.8L711.5 279.2ZM709.4 277.3L711.8 278.2L711.3 279.3L709.0 278.4ZM686.9 269.8L688.8 270.6L688.6 271.1L686.7 270.3ZM693.2 272.4L696.7 273.8L696.4 274.6L692.9 273.0ZM675.1 265.1L679.5 267.0L679.3 267.3L675.1 265.3ZM716.8 282.8L717.9 283.3L717.1 285.0L716.1 284.5ZM706.1 282.6L710.0 284.7L709.4 285.8L705.5 283.6ZM686.7 275.0L689.3 276.8L688.9 277.3L686.4 275.5ZM689.3 276.8L692.2 278.7L691.7 279.4L688.9 277.3ZM677.6 269.1L680.9 271.4L680.7 271.8L677.4 269.4ZM680.9 271.4L683.7 273.4L683.4 273.8L680.7 271.8ZM669.3 267.4L670.9 271.9L670.6 272.0L669.1 267.4ZM668.9 267.5L670.0 271.7L669.8 271.7L668.7 267.6ZM668.8 267.6L669.4 270.1L669.2 270.1L668.6 267.6ZM668.7 267.6L669.4 270.5L669.2 270.5L668.5 267.6ZM668.3 267.7L669.0 271.7L668.7 271.7L668.1 267.7ZM668.8 271.8L669.4 275.8L669.1 275.9L668.5 271.9ZM668.1 267.7L668.7 272.2L668.4 272.3L667.9 267.7ZM667.2 267.7L667.2 270.0L667.0 270.0L667.1 267.7ZM665.5 270.3L664.6 275.2L664.2 275.1L665.3 270.3ZM665.5 269.9L664.6 274.0L664.3 273.9L665.3 269.9ZM665.1 271.0L664.3 274.2L664.0 274.1L664.8 270.9ZM664.0 273.8L663.1 277.1L662.7 277.0L663.7 273.7ZM662.2 279.1L661.6 281.1L661.1 281.0L661.8 278.9ZM662.2 278.1L660.9 282.3L660.3 282.1L661.8 278.0ZM720.9 250.6L722.5 250.3L722.8 251.7L721.2 251.9ZM726.3 283.6L727.8 284.2L727.3 285.6L725.7 285.0ZM724.2 264.0L725.4 264.1L725.3 265.5L724.1 265.4Z"/>
<path fill="#f89008" d="M708.9 247.0L710.3 246.5L711.1 248.8L709.6 249.2ZM673.2 261.0L675.4 260.8L675.5 261.0L673.2 261.2ZM675.4 260.8L679.0 260.4L679.0 260.7L675.5 261.0ZM673.2 261.2L677.5 260.7L677.5 261.0L673.2 261.3ZM677.5 260.7L681.9 260.3L681.9 260.7L677.5 261.0ZM673.2 261.3L676.6 261.0L676.6 261.2L673.2 261.4ZM676.6 261.0L680.0 260.7L680.0 261.0L676.6 261.2ZM680.0 260.7L684.8 260.3L684.8 260.7L680.0 261.0ZM673.2 261.4L677.7 261.1L677.7 261.3L673.2 261.5ZM677.7 261.1L680.2 260.9L680.3 261.2L677.7 261.3ZM680.2 260.9L682.7 260.7L682.7 261.1L680.3 261.2ZM682.7 260.7L685.2 260.6L685.2 261.0L682.7 261.1ZM692.4 260.1L697.2 259.8L697.2 260.6L692.4 260.7ZM678.7 261.2L681.1 261.1L681.1 261.4L678.7 261.5ZM681.1 261.1L683.7 261.0L683.8 261.4L681.1 261.4ZM683.7 261.0L687.8 260.8L687.8 261.3L683.8 261.4ZM681.1 261.3L685.6 261.2L685.6 261.7L681.1 261.7ZM685.6 261.2L688.8 261.1L688.8 261.6L685.6 261.7ZM688.8 261.1L691.0 261.0L691.0 261.6L688.8 261.6ZM684.8 261.5L688.5 261.5L688.5 262.0L684.8 262.0ZM688.5 261.5L693.3 261.4L693.3 262.1L688.5 262.0ZM685.4 261.8L687.6 261.8L687.6 262.4L685.4 262.3ZM687.6 261.8L691.9 261.9L691.9 262.5L687.6 262.4ZM691.9 261.9L696.1 261.9L696.1 262.6L691.9 262.5ZM687.7 262.2L690.4 262.3L690.3 262.8L687.6 262.7ZM690.4 262.3L693.8 262.3L693.8 263.0L690.3 262.8ZM693.8 262.3L697.2 262.4L697.2 263.2L693.8 263.0ZM689.3 262.6L691.4 262.7L691.4 263.3L689.2 263.2ZM691.4 262.7L696.2 262.9L696.1 263.6L691.4 263.3ZM696.2 262.9L698.6 263.0L698.6 263.8L696.1 263.6ZM692.9 263.2L695.0 263.3L694.9 264.0L692.9 263.9ZM695.0 263.3L698.6 263.5L698.5 264.3L694.9 264.0ZM698.6 263.5L701.4 263.7L701.3 264.6L698.5 264.3ZM694.8 263.8L698.8 264.1L698.7 264.9L694.8 264.5ZM698.8 264.1L702.2 264.4L702.2 265.2L698.7 264.9ZM702.2 264.4L706.4 264.7L706.3 265.7L702.2 265.2ZM706.4 264.7L709.2 264.9L709.2 265.9L706.3 265.7ZM709.2 264.9L712.1 265.1L712.0 266.2L709.2 265.9ZM716.4 265.5L718.3 265.7L718.2 266.7L716.3 266.6ZM718.3 264.9L719.4 264.9L719.1 267.7L718.1 267.5ZM698.1 264.6L700.1 264.8L700.1 265.6L698.1 265.4ZM700.1 264.8L703.2 265.1L703.1 266.0L700.1 265.6ZM703.2 265.1L707.7 265.5L707.6 266.5L703.1 266.0ZM707.7 265.5L712.3 265.9L712.2 267.0L707.6 266.5ZM712.3 266.0L714.1 266.2L714.0 267.2L712.2 266.9ZM714.1 265.9L715.5 266.0L715.4 267.7L714.0 267.5ZM699.5 265.3L702.1 265.6L702.0 266.5L699.4 266.1ZM702.1 265.6L704.3 265.8L704.2 266.8L702.0 266.5ZM704.3 265.8L707.0 266.1L706.9 267.1L704.2 266.8ZM707.0 266.1L709.2 266.4L709.0 267.4L706.9 267.1ZM709.2 266.4L712.7 266.8L712.6 267.9L709.0 267.4ZM712.8 266.1L714.6 266.3L714.3 268.8L712.5 268.5ZM717.9 266.6L719.9 266.8L719.6 269.6L717.5 269.3ZM704.1 266.5L707.8 266.9L707.6 267.9L703.9 267.4ZM707.8 266.9L709.9 267.2L709.8 268.3L707.6 267.9ZM709.9 267.2L713.4 267.6L713.3 268.8L709.8 268.3ZM713.4 267.7L714.6 267.9L714.5 268.9L713.3 268.7ZM719.1 267.7L721.4 267.9L721.0 270.7L718.7 270.4ZM673.2 262.7L675.6 263.1L675.6 263.3L673.1 262.9ZM690.0 265.5L693.1 266.0L693.0 266.6L689.9 266.0ZM698.0 266.8L702.1 267.4L702.0 268.3L697.8 267.5ZM712.4 269.1L715.0 269.6L714.8 270.8L712.2 270.3ZM689.8 265.8L694.2 266.6L694.1 267.3L689.7 266.4ZM689.7 267.1L692.6 267.7L692.5 268.4L689.6 267.6ZM692.6 267.7L695.0 268.3L694.9 269.0L692.5 268.4ZM679.3 265.3L681.9 266.0L681.8 266.4L679.2 265.6ZM697.1 270.5L701.4 271.7L701.1 272.6L696.9 271.2ZM701.4 271.7L703.4 272.3L703.1 273.2L701.1 272.6ZM708.5 273.8L710.7 274.4L710.3 275.5L708.2 274.8ZM680.4 265.8L684.5 267.1L684.4 267.6L680.3 266.2ZM691.8 269.4L694.3 270.2L694.1 270.8L691.6 270.0ZM702.8 272.8L705.4 273.6L705.1 274.6L702.5 273.7ZM702.4 273.4L704.6 274.1L704.3 275.0L702.1 274.2ZM700.8 273.5L704.5 274.8L704.1 275.7L700.5 274.3ZM704.5 274.8L706.4 275.5L706.1 276.4L704.1 275.7ZM681.5 267.0L683.5 267.8L683.4 268.2L681.3 267.4ZM672.8 263.9L675.7 265.0L675.6 265.3L672.8 264.1ZM687.6 269.7L691.7 271.3L691.4 271.9L687.4 270.2ZM691.7 271.3L695.5 272.8L695.2 273.5L691.4 271.9ZM707.2 277.3L709.6 278.2L709.2 279.3L706.8 278.3ZM711.2 278.6L713.5 279.5L712.9 281.1L710.6 280.1ZM681.0 267.4L684.0 268.6L683.8 269.0L680.8 267.7ZM696.7 273.8L701.0 275.6L700.6 276.4L696.4 274.6ZM703.3 276.5L707.3 278.2L706.9 279.2L702.9 277.4ZM716.4 281.6L718.0 282.2L717.2 284.0L715.6 283.3ZM686.4 270.0L689.2 271.2L689.0 271.7L686.2 270.5ZM696.2 274.2L699.3 275.5L698.9 276.3L695.9 274.9ZM672.7 264.2L675.3 265.4L675.3 265.6L672.7 264.4ZM678.2 266.7L680.2 267.6L680.1 267.9L678.1 267.0ZM690.2 272.1L693.2 273.5L692.9 274.1L689.9 272.7ZM705.0 278.8L709.3 280.7L708.8 281.8L704.6 279.7ZM678.3 267.0L682.7 269.0L682.5 269.4L678.2 267.3ZM686.7 271.0L691.2 273.1L691.0 273.7L686.5 271.4ZM705.4 279.8L708.9 281.4L708.3 282.4L704.9 280.7ZM708.9 281.4L711.8 282.8L711.2 283.9L708.3 282.4ZM713.9 283.5L715.6 284.3L714.7 285.9L713.2 285.1ZM681.5 268.8L684.8 270.4L684.5 270.8L681.3 269.1ZM695.3 275.6L697.4 276.6L697.0 277.4L694.9 276.3ZM705.2 280.5L708.4 282.1L707.9 283.1L704.7 281.4ZM716.6 285.8L718.4 286.7L717.5 288.5L715.8 287.5ZM674.9 265.7L677.7 267.2L677.6 267.4L674.8 265.9ZM674.7 265.8L676.6 266.8L676.5 267.0L674.6 265.9ZM676.6 266.8L679.9 268.6L679.7 268.9L676.5 267.0ZM697.4 278.0L700.0 279.4L699.6 280.2L697.0 278.7ZM712.0 285.9L713.2 286.6L712.6 287.5L711.5 286.9ZM675.5 266.4L679.5 268.6L679.3 268.9L675.4 266.6ZM679.5 268.6L682.3 270.2L682.1 270.6L679.3 268.9ZM682.3 270.2L685.0 271.7L684.7 272.1L682.1 270.6ZM689.3 274.1L691.3 275.2L691.0 275.8L689.0 274.7ZM714.2 287.8L715.8 288.7L714.8 290.3L713.3 289.4ZM674.2 265.8L676.5 267.1L676.3 267.4L674.1 266.0ZM679.2 268.7L681.0 269.8L680.8 270.1L679.0 269.0ZM681.0 269.8L683.5 271.2L683.2 271.6L680.8 270.1ZM683.5 271.2L685.5 272.4L685.2 272.8L683.2 271.6ZM685.5 272.4L688.6 274.2L688.3 274.8L685.2 272.8ZM688.6 274.2L690.4 275.3L690.1 275.9L688.3 274.8ZM690.4 275.3L694.5 277.7L694.1 278.3L690.1 275.9ZM694.5 277.7L696.7 279.0L696.3 279.7L694.1 278.3ZM698.6 280.1L701.6 281.8L701.1 282.7L698.2 280.9ZM707.4 284.9L709.2 286.0L708.3 287.4L706.6 286.3ZM672.4 264.9L675.2 266.6L675.1 266.8L672.3 265.0ZM683.8 271.8L686.3 273.3L686.0 273.8L683.6 272.2ZM688.1 274.4L690.3 275.8L690.0 276.3L687.7 274.9ZM699.9 281.6L703.2 283.6L702.7 284.5L699.4 282.4ZM705.0 284.7L707.4 286.1L706.7 287.1L704.4 285.6ZM688.9 275.4L692.2 277.5L691.8 278.1L688.6 276.0ZM694.4 278.9L697.6 280.9L697.1 281.7L693.9 279.5ZM697.6 280.9L701.2 283.2L700.6 284.0L697.1 281.7ZM704.4 285.2L707.1 286.9L706.5 287.9L703.8 286.1ZM712.9 290.3L714.9 291.5L713.8 293.2L711.9 291.9ZM678.3 269.0L680.7 270.6L680.5 270.9L678.2 269.3ZM680.7 270.6L683.0 272.1L682.8 272.5L680.5 270.9ZM686.1 274.1L689.3 276.3L689.0 276.8L685.8 274.6ZM707.0 287.9L707.5 288.2L706.8 289.2L706.4 288.8ZM709.2 288.5L710.7 289.4L709.2 291.7L707.8 290.7ZM674.3 266.6L678.4 269.4L678.2 269.6L674.2 266.8ZM692.2 278.7L695.1 280.7L694.6 281.4L691.7 279.4ZM695.1 280.7L699.0 283.4L698.5 284.2L694.6 281.4ZM686.1 275.1L690.1 277.9L689.7 278.5L685.7 275.5ZM692.9 279.9L695.8 281.9L695.3 282.6L692.5 280.5ZM681.6 272.3L685.3 275.0L684.9 275.4L681.4 272.7ZM685.3 275.0L689.2 277.9L688.8 278.4L684.9 275.4ZM695.3 282.3L697.1 283.7L696.5 284.4L694.7 283.0ZM704.1 288.9L705.2 289.7L704.6 290.5L703.6 289.7ZM680.6 271.9L683.5 274.1L683.2 274.5L680.4 272.3ZM683.5 274.1L687.2 276.9L686.8 277.4L683.2 274.5ZM688.8 278.2L692.0 280.6L691.5 281.2L688.4 278.7ZM701.8 288.1L704.2 289.9L703.5 290.8L701.1 288.9ZM705.5 290.0L707.4 291.5L705.8 293.5L703.9 292.0ZM672.0 265.5L673.8 266.9L673.7 267.1L671.9 265.6ZM701.1 288.4L704.3 291.0L703.5 291.9L700.4 289.3ZM671.9 265.5L674.9 268.0L674.8 268.2L671.8 265.7ZM674.9 268.0L676.6 269.4L676.4 269.6L674.8 268.2ZM682.0 273.8L684.8 276.1L684.5 276.6L681.7 274.2ZM688.5 279.1L691.2 281.4L690.7 282.0L688.0 279.6ZM693.7 283.4L696.1 285.4L695.5 286.1L693.1 284.0ZM700.0 288.5L702.9 290.9L702.2 291.8L699.3 289.4ZM685.1 276.9L687.5 278.9L687.1 279.4L684.7 277.3ZM694.0 284.5L696.2 286.3L695.5 287.0L693.5 285.1ZM673.6 267.3L676.4 269.8L676.2 270.0L673.5 267.5ZM679.3 272.3L682.0 274.7L681.7 275.1L679.0 272.6ZM682.0 274.7L684.5 276.9L684.2 277.4L681.7 275.1ZM696.3 287.2L698.3 289.0L697.6 289.8L695.6 288.0ZM703.9 293.6L705.0 294.6L703.8 295.9L702.8 294.9ZM705.9 295.4L707.7 296.9L706.4 298.3L704.7 296.7ZM681.5 276.1L683.0 277.7L682.6 278.1L681.1 276.5ZM701.6 296.6L703.2 298.2L702.5 299.0L700.9 297.3ZM681.5 276.6L684.4 279.7L684.0 280.1L681.1 277.0ZM676.4 272.0L678.4 274.3L678.1 274.5L676.1 272.2ZM681.6 277.9L683.0 279.4L682.6 279.8L681.2 278.3ZM687.6 284.5L689.2 286.4L688.6 286.9L687.0 285.0ZM671.2 266.3L672.7 268.1L672.5 268.2L671.0 266.4ZM679.8 276.3L681.7 278.5L681.3 278.9L679.4 276.6ZM691.2 289.5L693.2 291.9L692.5 292.6L690.5 290.1ZM693.2 291.9L695.5 294.6L694.7 295.3L692.5 292.6ZM703.5 302.8L705.0 304.4L702.7 306.4L701.3 304.6ZM679.9 277.0L681.6 279.0L681.1 279.3L679.6 277.3ZM694.9 295.1L697.2 297.8L696.3 298.6L694.1 295.8ZM700.5 300.7L701.5 301.8L699.3 303.6L698.4 302.3ZM699.1 300.4L699.9 301.4L697.8 303.1L697.0 302.0ZM687.8 288.3L689.3 290.2L688.5 290.7L687.1 288.8ZM677.2 275.1L679.5 278.2L679.1 278.5L676.9 275.3ZM679.5 278.2L681.5 280.9L681.1 281.3L679.1 278.5ZM681.5 280.9L684.4 284.7L683.8 285.1L681.1 281.3ZM687.0 288.2L688.7 290.5L688.0 291.0L686.3 288.7ZM691.0 293.6L692.9 296.1L692.0 296.8L690.2 294.2ZM696.2 299.4L697.3 301.0L695.3 302.5L694.2 300.9ZM698.1 302.6L698.9 303.7L697.4 304.8L696.6 303.7ZM674.5 271.8L676.6 274.8L676.3 275.0L674.2 272.0ZM676.6 274.8L679.5 278.8L679.1 279.1L676.3 275.0ZM670.7 266.7L673.0 270.0L672.8 270.1L670.5 266.8ZM673.0 270.0L674.7 272.6L674.5 272.7L672.8 270.1ZM674.7 272.6L676.4 274.9L676.0 275.1L674.5 272.7ZM676.4 274.9L678.7 278.3L678.3 278.6L676.0 275.1ZM685.1 287.5L687.6 291.1L686.9 291.6L684.5 288.0ZM674.9 273.6L676.5 276.2L676.2 276.4L674.6 273.8ZM676.3 276.4L678.4 279.8L677.9 280.0L676.0 276.7ZM681.4 284.6L683.5 288.0L682.8 288.4L680.8 285.0ZM683.5 288.0L684.6 289.9L683.9 290.3L682.8 288.4ZM686.6 293.0L689.2 297.2L688.3 297.8L685.8 293.5ZM674.2 273.5L675.4 275.5L675.1 275.7L673.9 273.7ZM686.6 294.3L688.3 297.1L687.4 297.7L685.7 294.7ZM671.3 271.9L672.2 274.3L671.9 274.4L671.0 272.0ZM671.1 272.1L672.8 276.3L672.4 276.4L670.9 272.1ZM671.7 274.0L672.9 277.6L672.5 277.7L671.3 274.1ZM670.0 269.9L671.5 274.4L671.2 274.5L669.8 270.0ZM671.5 274.4L672.6 277.5L672.2 277.6L671.2 274.5ZM678.1 293.9L679.3 297.2L678.4 297.5L677.3 294.1ZM670.1 270.8L671.7 275.5L671.3 275.6L669.9 270.9ZM669.0 267.5L669.9 270.6L669.7 270.7L668.8 267.5ZM669.4 270.1L670.2 272.9L669.9 273.0L669.2 270.1ZM674.1 287.9L674.7 289.9L673.9 290.1L673.5 288.1ZM669.4 270.5L670.0 273.0L669.7 273.0L669.2 270.5ZM670.0 273.0L670.6 275.6L670.3 275.7L669.7 273.0ZM668.6 267.6L669.4 271.1L669.1 271.2L668.4 267.6ZM668.4 267.6L668.9 270.5L668.7 270.5L668.2 267.7ZM667.4 267.7L667.6 272.7L667.3 272.7L667.3 267.7ZM667.4 269.9L667.4 273.0L667.1 273.0L667.1 269.9ZM667.4 273.0L667.5 278.0L667.0 278.0L667.1 273.0ZM667.2 275.9L667.2 277.9L666.8 277.9L666.8 275.8ZM666.8 272.7L666.7 276.8L666.3 276.8L666.5 272.7ZM666.5 267.7L666.0 271.4L665.8 271.4L666.3 267.7ZM666.0 271.4L665.5 275.6L665.1 275.5L665.8 271.4ZM664.7 281.9L664.1 286.1L663.5 286.1L664.2 281.9ZM666.0 270.4L665.5 274.1L665.1 274.1L665.8 270.4ZM666.2 267.7L665.3 272.4L665.0 272.4L666.0 267.6ZM665.3 272.4L664.7 275.8L664.3 275.8L665.0 272.4ZM664.6 275.2L664.0 277.8L663.6 277.7L664.2 275.1ZM662.7 284.5L662.5 285.4L661.9 285.3L662.1 284.4ZM664.6 274.0L663.9 277.2L663.5 277.1L664.3 273.9ZM663.9 277.2L663.1 280.8L662.6 280.7L663.5 277.1ZM662.8 279.2L662.0 282.3L661.5 282.1L662.4 279.1ZM663.1 277.1L662.4 279.3L662.0 279.2L662.7 277.0ZM661.3 283.4L661.0 284.6L660.4 284.4L660.8 283.2ZM660.8 283.9L660.6 284.6L660.0 284.4L660.2 283.7ZM713.4 292.1L714.2 292.6L713.5 293.8L712.6 293.2Z"/>
<path fill="#f87800" d="M708.9 251.8L711.0 251.3L711.5 253.6L709.3 254.0ZM673.1 260.6L675.8 260.1L675.8 260.4L673.2 260.8ZM675.8 260.1L679.2 259.5L679.2 259.8L675.8 260.4ZM673.2 260.7L675.1 260.4L675.2 260.6L673.2 260.9ZM675.1 260.4L680.0 259.6L680.0 259.9L675.2 260.6ZM680.0 259.6L682.1 259.2L682.2 259.6L680.0 259.9ZM673.2 260.8L678.0 260.1L678.0 260.4L673.2 261.0ZM678.0 260.1L681.8 259.5L681.9 259.9L678.0 260.4ZM681.8 259.5L685.0 259.0L685.1 259.5L681.9 259.9ZM673.2 260.9L676.5 260.5L676.5 260.7L673.2 261.1ZM676.5 260.5L679.3 260.1L679.4 260.4L676.5 260.7ZM679.3 260.1L683.0 259.6L683.0 260.0L679.4 260.4ZM683.0 259.6L687.1 259.1L687.1 259.6L683.0 260.0ZM679.0 260.4L683.3 259.9L683.3 260.3L679.0 260.7ZM683.3 259.9L687.2 259.4L687.3 259.9L683.3 260.3ZM687.2 259.4L689.6 259.1L689.7 259.7L687.3 259.9ZM681.9 260.3L686.4 259.8L686.4 260.3L681.9 260.7ZM686.4 259.8L690.5 259.4L690.6 260.0L686.4 260.3ZM684.8 260.3L688.9 260.0L688.9 260.5L684.8 260.7ZM688.9 260.0L693.5 259.6L693.5 260.2L688.9 260.5ZM685.2 260.6L687.7 260.4L687.7 260.9L685.2 261.0ZM687.7 260.4L692.4 260.1L692.4 260.7L687.7 260.9ZM707.6 259.1L710.4 258.9L710.5 260.0L707.7 260.1ZM717.5 258.2L719.4 258.1L719.5 259.9L717.6 260.0ZM687.8 260.8L691.1 260.6L691.1 261.2L687.8 261.3ZM691.1 260.6L695.0 260.4L695.1 261.1L691.1 261.2ZM695.0 260.4L699.1 260.2L699.1 261.0L695.1 261.1ZM691.0 261.0L694.4 260.9L694.5 261.6L691.0 261.6ZM694.4 260.9L699.4 260.8L699.4 261.6L694.5 261.6ZM693.3 261.4L696.6 261.4L696.6 262.1L693.3 262.1ZM696.6 261.4L700.3 261.3L700.3 262.2L696.6 262.1ZM700.3 261.3L703.1 261.3L703.1 262.2L700.3 262.2ZM705.3 261.3L708.9 261.2L708.9 262.3L705.3 262.2ZM696.1 261.9L699.3 261.9L699.3 262.7L696.1 262.6ZM699.3 261.9L703.7 261.9L703.7 262.8L699.3 262.7ZM703.7 261.9L706.2 261.9L706.1 262.9L703.7 262.8ZM706.2 261.9L709.3 262.0L709.3 263.0L706.1 262.9ZM709.3 262.0L711.4 262.0L711.4 263.1L709.3 263.0ZM711.4 262.0L714.6 262.0L714.6 263.2L711.4 263.1ZM714.6 261.3L715.6 261.3L715.6 263.9L714.5 263.8ZM717.8 261.8L719.7 261.8L719.7 263.6L717.8 263.5ZM719.7 261.8L721.9 261.8L721.9 263.7L719.7 263.6ZM697.2 262.4L700.0 262.5L700.0 263.3L697.2 263.2ZM700.0 262.5L703.9 262.6L703.9 263.5L700.0 263.3ZM703.9 262.6L706.3 262.6L706.3 263.6L703.9 263.5ZM706.3 262.6L711.0 262.7L711.0 263.8L706.3 263.6ZM711.0 262.7L713.8 262.8L713.7 264.0L711.0 263.8ZM713.8 262.9L715.8 262.9L715.8 264.0L713.7 263.9ZM698.6 263.0L702.5 263.2L702.5 264.0L698.6 263.8ZM702.5 263.2L707.4 263.3L707.3 264.4L702.5 264.0ZM707.4 263.3L711.8 263.5L711.8 264.6L707.3 264.4ZM713.7 263.0L715.9 263.0L715.8 265.6L713.6 265.4ZM720.1 263.1L721.8 263.2L721.7 266.0L720.0 265.9ZM701.4 263.7L706.1 264.0L706.1 265.0L701.3 264.6ZM706.1 264.0L709.4 264.2L709.3 265.2L706.1 265.0ZM709.4 264.2L711.7 264.3L711.7 265.4L709.3 265.2ZM711.8 263.7L713.5 263.8L713.3 266.2L711.6 266.0ZM717.0 263.9L718.4 264.0L718.2 266.7L716.8 266.5ZM675.6 263.1L678.7 263.6L678.6 263.9L675.6 263.3ZM683.2 264.4L686.7 264.9L686.6 265.4L683.1 264.8ZM686.7 264.9L690.0 265.5L689.9 266.0L686.6 265.4ZM702.1 267.4L704.9 267.9L704.7 268.8L702.0 268.3ZM704.9 267.9L709.0 268.6L708.8 269.6L704.7 268.8ZM705.5 268.7L710.4 269.6L710.2 270.7L705.3 269.6ZM692.3 267.2L696.4 268.1L696.2 268.8L692.2 267.8ZM710.3 271.1L714.0 271.9L713.8 273.1L710.1 272.2ZM714.0 271.9L715.6 272.3L715.3 273.5L713.8 273.1ZM673.1 263.1L677.6 264.2L677.5 264.4L673.1 263.3ZM684.6 265.8L687.7 266.6L687.5 267.1L684.5 266.3ZM695.0 268.3L698.1 269.0L697.9 269.8L694.9 269.0ZM703.4 270.3L707.7 271.3L707.4 272.3L703.2 271.2ZM707.7 271.3L711.2 272.1L710.9 273.2L707.4 272.3ZM711.2 272.1L715.4 273.1L715.1 274.3L710.9 273.2ZM715.4 272.9L717.2 273.3L716.8 275.0L715.0 274.5ZM717.1 273.6L718.3 273.9L718.1 275.0L716.9 274.7ZM721.0 274.6L722.2 274.8L721.9 276.0L720.8 275.7ZM681.7 265.4L686.2 266.6L686.0 267.0L681.6 265.8ZM698.5 269.7L702.4 270.7L702.1 271.6L698.3 270.5ZM702.4 270.7L705.9 271.6L705.6 272.6L702.1 271.6ZM708.3 272.2L711.2 272.9L710.9 274.0L708.0 273.2ZM711.4 272.3L712.6 272.6L712.0 275.0L710.7 274.6ZM673.0 263.4L677.2 264.6L677.1 264.9L673.0 263.6ZM677.2 264.6L679.3 265.3L679.2 265.6L677.1 264.9ZM681.9 266.0L685.8 267.2L685.6 267.6L681.8 266.4ZM685.8 267.2L687.9 267.8L687.8 268.3L685.6 267.6ZM687.9 267.8L692.5 269.1L692.4 269.8L687.8 268.3ZM692.5 269.1L697.1 270.5L696.9 271.2L692.4 269.8ZM706.3 273.1L708.5 273.8L708.2 274.8L706.0 274.1ZM710.7 274.4L714.6 275.6L714.3 276.8L710.3 275.5ZM688.1 268.2L691.8 269.4L691.6 270.0L687.9 268.7ZM700.4 272.1L702.8 272.8L702.5 273.7L700.1 272.9ZM705.4 273.6L708.7 274.7L708.4 275.7L705.1 274.6ZM708.7 274.7L711.1 275.4L710.8 276.5L708.4 275.7ZM711.1 275.4L714.4 276.4L714.0 277.6L710.8 276.5ZM714.4 276.4L715.3 276.7L714.9 277.9L714.0 277.6ZM672.9 263.6L676.8 264.9L676.7 265.1L672.9 263.8ZM676.8 264.9L680.6 266.2L680.5 266.5L676.7 265.1ZM680.6 266.2L685.3 267.7L685.2 268.2L680.5 266.5ZM697.3 271.7L700.5 272.7L700.2 273.5L697.1 272.4ZM700.5 272.7L702.4 273.4L702.1 274.2L700.2 273.5ZM710.9 275.9L712.3 276.4L711.7 277.9L710.4 277.4ZM714.6 277.1L716.5 277.8L716.0 279.5L714.0 278.8ZM676.6 265.0L680.1 266.3L680.0 266.6L676.5 265.3ZM680.1 266.3L683.5 267.4L683.4 267.8L680.0 266.6ZM683.5 267.4L686.3 268.4L686.1 268.9L683.4 267.8ZM693.7 271.0L696.9 272.1L696.6 272.9L693.5 271.7ZM676.8 265.3L681.5 267.0L681.3 267.4L676.7 265.5ZM683.5 267.8L688.2 269.5L688.0 270.0L683.4 268.2ZM691.3 270.6L693.6 271.5L693.4 272.2L691.1 271.2ZM696.5 272.6L700.9 274.2L700.6 275.0L696.3 273.3ZM700.9 274.2L705.6 275.9L705.2 276.9L700.6 275.0ZM711.8 278.2L713.5 278.8L713.0 280.0L711.3 279.3ZM715.6 279.4L717.6 280.1L716.9 281.8L715.0 281.0ZM685.2 268.8L687.6 269.7L687.4 270.2L685.1 269.2ZM709.6 278.3L711.1 278.9L710.7 279.8L709.2 279.2ZM688.8 270.6L693.2 272.4L692.9 273.0L688.6 271.1ZM701.0 275.6L703.3 276.5L702.9 277.4L700.6 276.4ZM707.3 278.2L708.3 278.6L707.8 279.6L706.9 279.2ZM679.5 267.0L682.8 268.4L682.6 268.8L679.3 267.3ZM689.2 271.2L693.1 272.9L692.8 273.5L689.0 271.7ZM693.1 272.9L696.2 274.2L695.9 274.9L692.8 273.5ZM702.9 277.1L706.6 278.7L706.2 279.7L702.5 278.0ZM706.6 278.7L708.6 279.6L708.2 280.6L706.2 279.7ZM708.6 279.6L711.1 280.6L710.6 281.7L708.2 280.6ZM711.1 280.6L713.4 281.6L712.9 282.8L710.6 281.7ZM675.3 265.4L678.2 266.7L678.1 267.0L675.3 265.6ZM693.2 273.5L697.6 275.5L697.3 276.2L692.9 274.1ZM697.6 275.5L702.0 277.4L701.6 278.3L697.3 276.2ZM709.3 280.7L710.0 281.0L709.5 282.1L708.8 281.8ZM710.3 280.5L712.1 281.3L711.0 283.6L709.2 282.7ZM711.9 281.7L713.9 282.5L713.2 284.1L711.2 283.2ZM698.9 276.7L701.8 278.1L701.4 278.9L698.5 277.5ZM712.0 282.2L714.1 283.1L713.0 285.5L710.9 284.5ZM684.8 270.4L689.0 272.5L688.8 273.0L684.5 270.8ZM702.0 278.9L705.2 280.5L704.7 281.4L701.6 279.8ZM708.4 282.1L709.2 282.4L708.6 283.5L707.9 283.1ZM679.9 268.6L683.6 270.5L683.4 271.0L679.7 268.9ZM694.0 276.2L697.4 278.0L697.0 278.7L693.7 276.8ZM703.0 281.0L706.1 282.6L705.5 283.6L702.5 281.9ZM710.0 284.7L710.5 285.0L709.9 286.1L709.4 285.8ZM710.4 285.1L712.0 285.9L711.5 286.9L709.9 286.0ZM713.6 285.9L714.6 286.4L713.3 288.9L712.2 288.2ZM685.0 271.7L689.3 274.1L689.0 274.7L684.7 272.1ZM691.3 275.2L693.2 276.3L692.8 276.9L691.0 275.8ZM693.2 276.3L695.9 277.8L695.5 278.6L692.8 276.9ZM698.6 279.3L701.4 280.9L700.9 281.7L698.1 280.1ZM701.4 280.9L703.4 282.0L702.9 282.9L700.9 281.7ZM703.4 282.0L706.4 283.7L705.9 284.7L702.9 282.9ZM706.7 283.2L707.8 283.8L706.6 285.9L705.5 285.2ZM678.1 268.3L681.6 270.5L681.4 270.8L677.9 268.6ZM681.6 270.5L683.8 271.8L683.6 272.2L681.4 270.8ZM703.2 283.6L705.0 284.7L704.4 285.6L702.7 284.5ZM714.2 290.4L716.2 291.6L715.5 292.6L713.6 291.4ZM676.1 267.3L678.2 268.7L678.0 268.9L675.9 267.5ZM682.0 271.1L684.7 272.8L684.4 273.2L681.7 271.4ZM701.2 283.2L704.4 285.2L703.8 286.1L700.6 284.0ZM707.1 286.9L708.9 288.0L708.2 289.1L706.5 287.9ZM678.4 269.4L680.9 271.1L680.7 271.4L678.2 269.6ZM680.9 271.1L683.5 272.8L683.2 273.2L680.7 271.4ZM683.5 272.8L686.7 275.0L686.4 275.5L683.2 273.2ZM699.0 283.4L702.6 285.9L702.0 286.7L698.5 284.2ZM704.5 287.2L706.4 288.4L705.7 289.4L703.9 288.1ZM706.4 288.4L708.4 289.8L707.7 290.8L705.7 289.4ZM708.5 289.6L709.5 290.3L708.5 291.7L707.5 291.0ZM674.4 266.8L677.6 269.1L677.4 269.4L674.2 267.0ZM683.7 273.4L686.1 275.1L685.7 275.5L683.4 273.8ZM690.1 277.9L692.9 279.9L692.5 280.5L689.7 278.5ZM698.8 284.1L700.9 285.5L700.3 286.4L698.2 284.9ZM708.0 289.8L709.2 290.6L707.6 292.7L706.5 291.9ZM706.8 290.5L708.4 291.6L707.3 293.1L705.8 291.9ZM674.9 267.6L678.3 270.2L678.1 270.4L674.7 267.8ZM687.2 276.9L688.8 278.2L688.4 278.7L686.8 277.4ZM700.2 286.8L701.8 288.1L701.1 288.9L699.6 287.7ZM704.6 289.4L705.5 290.0L703.9 292.0L703.1 291.3ZM673.8 266.9L676.4 269.0L676.3 269.2L673.7 267.1ZM676.4 269.0L679.4 271.4L679.2 271.7L676.3 269.2ZM688.3 278.4L691.8 281.1L691.3 281.7L687.9 278.9ZM691.8 281.1L694.7 283.4L694.1 284.1L691.3 281.7ZM694.7 283.4L696.4 284.7L695.8 285.5L694.1 284.1ZM711.1 296.0L712.8 297.3L711.5 298.9L709.8 297.5ZM676.6 269.4L678.5 270.9L678.3 271.2L676.4 269.6ZM673.4 267.0L676.8 269.8L676.6 270.1L673.3 267.2ZM690.5 281.4L694.0 284.5L693.5 285.1L690.0 282.0ZM698.8 288.4L700.5 289.9L699.7 290.7L698.1 289.2ZM699.7 297.2L701.3 298.9L699.3 300.7L697.8 298.8ZM684.1 281.3L686.5 284.1L685.9 284.6L683.6 281.7ZM684.4 284.7L687.0 288.2L686.3 288.7L683.8 285.1ZM697.3 301.0L698.4 302.4L696.3 303.9L695.3 302.5ZM670.4 266.9L671.6 268.8L671.4 268.9L670.3 266.9ZM672.3 270.3L674.2 273.5L673.9 273.7L672.1 270.4ZM684.4 290.6L686.6 294.3L685.7 294.7L683.7 291.0ZM671.2 269.5L672.2 271.6L672.0 271.7L671.0 269.6ZM669.9 267.2L671.7 270.9L671.4 271.0L669.7 267.2ZM669.6 267.3L671.3 271.3L671.0 271.4L669.4 267.3ZM672.2 274.3L673.1 276.4L672.7 276.6L671.9 274.4ZM670.9 271.9L671.7 274.0L671.3 274.1L670.6 272.0ZM669.9 270.6L671.2 274.9L670.9 275.0L669.7 270.7ZM669.4 271.1L670.4 275.8L670.1 275.9L669.1 271.2ZM668.5 267.6L669.4 272.0L669.1 272.1L668.3 267.7ZM669.0 271.7L669.5 274.7L669.1 274.8L668.7 271.7ZM669.8 283.1L670.0 285.5L669.4 285.5L669.2 283.1ZM667.7 267.7L668.0 271.1L667.8 271.1L667.6 267.7ZM667.6 267.7L667.9 271.7L667.6 271.7L667.5 267.7ZM667.3 267.7L667.4 269.9L667.1 269.9L667.2 267.7ZM666.2 287.0L666.2 288.2L665.5 288.2L665.6 287.0ZM666.9 267.7L666.7 271.5L666.4 271.5L666.8 267.7ZM666.4 270.6L666.2 273.6L665.9 273.6L666.2 270.6ZM666.6 267.7L666.2 270.9L666.0 270.9L666.4 267.7ZM666.3 267.7L665.6 271.6L665.4 271.5L666.1 267.6ZM665.6 271.6L665.2 274.3L664.9 274.3L665.4 271.5ZM663.5 277.5L662.9 280.4L662.4 280.3L663.1 277.4ZM662.3 282.6L661.8 284.9L661.2 284.7L661.8 282.5ZM660.9 282.3L660.2 284.5L659.6 284.3L660.3 282.1ZM720.8 266.7L722.1 266.8L721.9 268.2L720.6 268.0ZM709.3 297.4L710.3 298.3L709.4 299.3L708.5 298.5ZM720.9 286.0L722.8 286.8L722.2 288.2L720.3 287.3ZM711.6 295.5L713.1 296.7L712.2 297.8L710.8 296.6ZM716.4 289.4L717.6 290.0L716.9 291.2L715.7 290.5ZM718.9 294.4L719.8 295.0L719.0 296.3L718.1 295.7Z"/>
<path fill="#f8a818" d="M673.2 261.5L675.3 261.4L675.3 261.6L673.2 261.6ZM675.3 261.4L678.7 261.2L678.7 261.5L675.3 261.6ZM673.2 261.6L676.7 261.5L676.7 261.7L673.2 261.7ZM676.7 261.5L681.1 261.3L681.1 261.7L676.7 261.7ZM673.2 261.7L676.9 261.6L676.9 261.9L673.2 261.8ZM676.9 261.6L681.8 261.6L681.8 261.9L676.9 261.9ZM681.8 261.6L684.8 261.5L684.8 262.0L681.8 261.9ZM673.2 261.8L676.0 261.8L676.0 262.0L673.2 261.9ZM676.0 261.8L679.2 261.8L679.2 262.1L676.0 262.0ZM679.2 261.8L682.4 261.8L682.4 262.2L679.2 262.1ZM682.4 261.8L685.4 261.8L685.4 262.3L682.4 262.2ZM681.3 262.1L683.6 262.1L683.6 262.5L681.3 262.4ZM683.6 262.1L687.7 262.2L687.6 262.7L683.6 262.5ZM680.1 262.3L684.6 262.4L684.6 262.9L680.1 262.6ZM684.6 262.4L689.3 262.6L689.2 263.2L684.6 262.9ZM711.9 262.9L713.7 263.0L713.6 265.4L711.7 265.3ZM683.2 262.7L685.5 262.8L685.5 263.3L683.1 263.1ZM685.5 262.8L689.6 263.0L689.6 263.6L685.5 263.3ZM689.6 263.0L692.9 263.2L692.9 263.9L689.6 263.6ZM686.6 263.2L689.7 263.4L689.6 264.0L686.6 263.7ZM689.7 263.4L691.9 263.6L691.9 264.2L689.6 264.0ZM691.9 263.6L694.8 263.8L694.8 264.5L691.9 264.2ZM689.3 263.8L693.3 264.2L693.2 264.8L689.3 264.3ZM693.3 264.2L698.1 264.6L698.1 265.4L693.2 264.8ZM690.9 264.4L693.6 264.7L693.5 265.3L690.8 264.9ZM693.6 264.7L697.1 265.0L697.0 265.8L693.5 265.3ZM697.1 265.0L699.5 265.3L699.4 266.1L697.0 265.8ZM693.2 265.1L695.8 265.4L695.7 266.1L693.1 265.7ZM695.8 265.4L699.3 265.8L699.1 266.6L695.7 266.1ZM699.3 265.8L704.1 266.5L703.9 267.4L699.1 266.6ZM694.1 265.7L696.5 266.0L696.4 266.7L694.0 266.3ZM696.5 266.0L700.4 266.6L700.3 267.4L696.4 266.7ZM700.4 266.6L703.1 267.0L702.9 267.9L700.3 267.4ZM703.1 267.0L705.5 267.3L705.3 268.3L702.9 267.9ZM705.5 267.3L709.7 267.9L709.5 269.0L705.3 268.3ZM709.7 267.9L713.7 268.5L713.5 269.7L709.5 269.0ZM713.8 268.3L715.4 268.5L715.1 270.2L713.5 269.9ZM715.5 268.1L717.8 268.4L717.3 271.0L715.1 270.6ZM717.6 269.2L719.9 269.5L719.8 270.6L717.5 270.2ZM709.0 268.6L712.4 269.1L712.2 270.3L708.8 269.6ZM715.1 268.9L717.5 269.3L717.1 271.9L714.7 271.4ZM707.1 274.9L709.5 275.7L709.1 276.8L706.8 275.9ZM675.7 265.0L679.5 266.5L679.4 266.8L675.6 265.3ZM679.5 266.5L682.1 267.6L682.0 267.9L679.4 266.8ZM695.5 272.8L697.6 273.6L697.3 274.3L695.2 273.5ZM676.9 265.7L681.0 267.4L680.8 267.7L676.8 266.0ZM684.0 268.6L686.9 269.8L686.7 270.3L683.8 269.0ZM672.8 264.1L675.1 265.1L675.1 265.3L672.7 264.3ZM684.6 269.6L686.9 270.6L686.7 271.1L684.4 270.0ZM702.0 277.4L705.0 278.8L704.6 279.7L701.6 278.3ZM672.7 264.3L675.1 265.4L675.0 265.6L672.6 264.4ZM675.1 265.4L678.3 267.0L678.2 267.3L675.0 265.6ZM682.7 269.0L686.7 271.0L686.5 271.4L682.5 269.4ZM691.2 273.1L694.4 274.6L694.1 275.3L691.0 273.7ZM718.9 285.3L720.8 286.1L719.4 288.9L717.6 287.9ZM672.6 264.4L675.9 266.0L675.8 266.2L672.6 264.5ZM675.9 266.0L678.4 267.2L678.2 267.5L675.8 266.2ZM693.4 274.7L695.3 275.6L694.9 276.3L693.1 275.3ZM697.4 276.6L699.6 277.7L699.2 278.5L697.0 277.4ZM699.6 277.7L702.0 278.9L701.6 279.8L699.2 278.5ZM709.4 281.9L711.0 282.6L709.8 284.9L708.3 284.1ZM710.8 283.0L712.1 283.6L711.3 285.2L710.0 284.5ZM701.2 279.3L704.2 280.8L703.7 281.7L700.7 280.1ZM704.2 280.8L708.1 282.8L707.5 283.8L703.7 281.7ZM683.6 270.5L687.3 272.5L687.0 273.0L683.4 271.0ZM672.5 264.7L675.5 266.4L675.4 266.6L672.4 264.8ZM676.5 267.1L679.2 268.7L679.0 269.0L676.3 267.4ZM701.6 281.8L703.8 283.1L703.2 284.0L701.1 282.7ZM703.8 283.1L706.1 284.4L705.5 285.4L703.2 284.0ZM706.4 283.9L707.6 284.6L706.3 286.7L705.2 285.9ZM693.8 277.9L696.3 279.4L695.8 280.1L693.3 278.5ZM696.3 279.4L699.9 281.6L699.4 282.4L695.8 280.1ZM672.3 265.0L676.1 267.3L675.9 267.5L672.2 265.1ZM684.7 272.8L688.9 275.4L688.6 276.0L684.4 273.2ZM692.2 277.5L694.4 278.9L693.9 279.5L691.8 278.1ZM694.6 279.7L697.5 281.6L697.0 282.3L694.1 280.4ZM707.8 287.6L709.2 288.5L707.8 290.7L706.4 289.7ZM672.2 265.1L674.3 266.6L674.2 266.8L672.1 265.3ZM672.1 265.3L675.7 267.9L675.5 268.2L672.0 265.4ZM675.7 267.9L679.1 270.4L678.8 270.7L675.5 268.2ZM679.1 270.4L681.6 272.3L681.4 272.7L678.8 270.7ZM689.2 277.9L692.7 280.4L692.2 281.0L688.8 278.4ZM692.7 280.4L695.3 282.3L694.7 283.0L692.2 281.0ZM700.0 285.8L703.6 288.4L702.9 289.3L699.4 286.6ZM703.6 288.4L704.2 288.9L703.5 289.8L702.9 289.3ZM705.6 289.1L707.1 290.2L705.5 292.2L704.2 291.1ZM678.3 270.2L680.6 271.9L680.4 272.3L678.1 270.4ZM679.4 271.4L681.1 272.7L680.9 273.1L679.2 271.7ZM681.1 272.7L684.8 275.6L684.4 276.0L680.9 273.1ZM684.8 275.6L688.3 278.4L687.9 278.9L684.4 276.0ZM698.5 286.4L701.1 288.4L700.4 289.3L697.8 287.2ZM678.5 270.9L682.0 273.8L681.7 274.2L678.3 271.2ZM686.7 277.7L688.5 279.1L688.0 279.6L686.3 278.2ZM705.6 293.1L706.2 293.6L705.4 294.5L704.8 294.0ZM710.1 295.8L711.9 297.2L709.9 299.5L708.2 298.0ZM671.8 265.6L673.4 267.0L673.3 267.2L671.7 265.7ZM682.5 274.7L685.1 276.9L684.7 277.3L682.2 275.0ZM696.2 286.3L698.8 288.4L698.1 289.2L695.5 287.0ZM691.7 283.2L694.3 285.5L693.7 286.2L691.2 283.8ZM698.3 289.0L700.4 290.8L699.6 291.7L697.6 289.8ZM705.3 294.3L706.2 295.0L704.4 297.0L703.6 296.2ZM675.9 269.7L678.7 272.1L678.4 272.4L675.7 269.9ZM688.2 280.8L691.6 283.9L691.1 284.5L687.7 281.3ZM697.3 289.1L700.5 292.0L699.7 292.8L696.6 289.9ZM677.4 271.3L679.0 272.8L678.7 273.1L677.1 271.5ZM689.6 282.8L693.2 286.2L692.6 286.8L689.1 283.4ZM695.6 288.5L698.5 291.2L697.8 292.0L695.0 289.2ZM671.5 266.0L675.0 269.5L674.8 269.7L671.4 266.1ZM688.2 282.9L690.9 285.6L690.3 286.2L687.7 283.5ZM690.9 285.6L692.6 287.3L691.9 287.9L690.3 286.2ZM692.6 287.3L695.4 290.2L694.7 290.9L691.9 287.9ZM698.8 293.6L701.7 296.5L700.8 297.4L698.0 294.4ZM703.2 298.2L704.0 299.0L703.2 299.8L702.5 299.0ZM673.0 267.7L675.6 270.5L675.4 270.7L672.8 267.9ZM678.2 273.3L681.5 276.6L681.1 277.0L678.0 273.5ZM689.8 286.2L693.2 289.9L692.5 290.5L689.2 286.8ZM698.5 295.6L699.6 296.8L698.7 297.6L697.6 296.3ZM674.4 269.8L676.4 272.0L676.1 272.2L674.2 270.0ZM685.6 282.3L687.6 284.5L687.0 285.0L685.0 282.7ZM689.2 286.4L692.3 289.9L691.6 290.5L688.6 286.9ZM695.5 293.5L697.2 295.3L696.3 296.1L694.7 294.2ZM672.7 268.1L675.9 271.8L675.7 272.0L672.5 268.2ZM675.9 271.8L678.2 274.5L677.9 274.8L675.7 272.0ZM678.2 274.5L679.8 276.3L679.4 276.6L677.9 274.8ZM681.7 278.5L684.1 281.3L683.6 281.7L681.3 278.9ZM686.5 284.1L688.9 286.9L688.3 287.4L685.9 284.6ZM688.9 286.9L691.2 289.5L690.5 290.1L688.3 287.4ZM671.1 266.4L673.7 269.5L673.5 269.7L671.0 266.5ZM676.7 273.1L678.3 275.0L677.9 275.3L676.4 273.3ZM681.6 279.0L683.5 281.3L683.0 281.7L681.1 279.3ZM685.2 283.3L687.9 286.6L687.3 287.1L684.6 283.8ZM687.9 286.6L690.6 289.9L689.9 290.4L687.3 287.1ZM686.6 285.8L688.2 287.9L687.6 288.5L686.0 286.3ZM675.6 272.5L678.1 275.7L677.7 276.0L675.3 272.7ZM679.8 278.0L682.7 281.7L682.2 282.1L679.4 278.3ZM682.7 281.7L685.4 285.2L684.8 285.6L682.2 282.1ZM685.4 285.2L687.8 288.3L687.1 288.8L684.8 285.6ZM689.3 290.2L690.6 291.9L689.8 292.5L688.5 290.7ZM690.6 291.9L693.5 295.7L692.6 296.3L689.8 292.5ZM695.9 298.9L696.6 299.8L695.8 300.4L695.1 299.5ZM672.4 268.7L674.5 271.5L674.3 271.7L672.2 268.8ZM676.0 273.4L677.2 275.1L676.9 275.3L675.7 273.7ZM688.7 290.5L691.0 293.6L690.2 294.2L688.0 291.0ZM692.9 296.1L694.4 298.2L693.5 298.8L692.0 296.8ZM694.4 298.2L695.7 299.8L694.7 300.5L693.5 298.8ZM670.8 266.6L673.0 269.7L672.8 269.8L670.6 266.7ZM673.0 269.7L674.5 271.8L674.2 272.0L672.8 269.8ZM685.0 286.5L686.5 288.6L685.9 289.1L684.4 286.9ZM686.5 288.6L688.0 290.5L687.2 291.1L685.9 289.1ZM688.0 290.5L689.8 293.1L689.0 293.7L687.2 291.1ZM689.8 293.1L691.3 295.2L690.5 295.8L689.0 293.7ZM691.3 295.2L694.2 299.2L693.2 299.9L690.5 295.8ZM696.0 300.5L697.0 302.0L694.9 303.5L693.9 302.0ZM699.0 305.4L700.0 306.8L698.4 307.9L697.4 306.5ZM700.0 306.8L700.7 307.7L699.0 308.9L698.4 307.9ZM683.5 285.3L685.1 287.5L684.5 288.0L682.9 285.7ZM691.6 296.9L694.0 300.3L693.0 301.0L690.7 297.5ZM694.0 300.3L695.0 301.8L694.0 302.5L693.0 301.0ZM695.6 301.5L697.0 303.4L694.8 304.9L693.5 302.9ZM696.9 304.8L698.0 306.4L697.1 307.0L696.0 305.4ZM687.1 291.5L689.8 295.5L688.9 296.1L686.4 292.0ZM689.8 295.5L691.1 297.4L690.1 298.0L688.9 296.1ZM673.7 271.8L674.9 273.6L674.6 273.8L673.5 272.0ZM676.5 276.2L677.9 278.3L677.4 278.5L676.2 276.4ZM681.2 283.5L683.5 287.0L682.8 287.4L680.7 283.8ZM685.0 289.3L687.1 292.6L686.3 293.1L684.3 289.8ZM687.1 292.6L688.4 294.6L687.5 295.1L686.3 293.1ZM688.4 294.6L690.4 297.8L689.5 298.3L687.5 295.1ZM694.2 303.9L695.1 305.3L694.2 305.9L693.3 304.4ZM671.6 268.8L673.4 271.7L673.2 271.9L671.4 268.9ZM678.4 279.8L680.1 282.6L679.6 282.9L677.9 280.0ZM684.6 289.9L686.6 293.0L685.8 293.5L683.9 290.3ZM691.0 300.1L691.3 300.6L690.3 301.2L690.0 300.7ZM691.8 300.3L692.5 301.4L690.4 302.7L689.8 301.5ZM692.5 301.4L693.7 303.2L691.5 304.5L690.4 302.7ZM677.0 278.1L678.6 280.9L678.2 281.2L676.6 278.4ZM689.4 299.1L691.0 301.7L690.0 302.3L688.5 299.6ZM692.1 303.0L693.0 304.7L691.5 305.5L690.6 303.9ZM672.3 270.7L674.0 273.5L673.7 273.7L672.1 270.8ZM682.3 288.2L683.4 290.0L682.6 290.4L681.7 288.6ZM670.1 267.0L671.3 269.2L671.1 269.3L670.0 267.1ZM671.7 270.2L673.8 274.2L673.5 274.3L671.5 270.3ZM673.8 274.2L675.2 276.9L674.8 277.1L673.5 274.3ZM688.1 303.1L689.4 305.7L688.3 306.2L687.0 303.6ZM671.7 270.9L672.8 273.3L672.5 273.4L671.4 271.0ZM684.7 298.0L685.8 300.3L684.8 300.7L683.8 298.4ZM671.5 271.0L673.6 275.5L673.2 275.6L671.3 271.1ZM676.5 281.7L678.2 285.5L677.6 285.8L676.0 282.0ZM672.6 274.0L674.1 277.4L673.7 277.6L672.3 274.1ZM679.0 288.5L680.3 291.5L679.6 291.8L678.3 288.8ZM684.7 301.4L686.3 305.2L685.2 305.6L683.7 301.8ZM679.8 293.4L681.4 297.4L680.5 297.7L679.0 293.7ZM681.4 297.4L682.4 299.7L681.4 300.1L680.5 297.7ZM685.5 307.7L686.3 309.6L685.1 310.1L684.4 308.1ZM687.5 312.5L687.9 313.5L686.6 314.0L686.2 313.0ZM670.3 269.8L671.1 272.1L670.9 272.1L670.1 269.9ZM675.8 285.6L676.7 288.2L676.1 288.4L675.2 285.8ZM679.7 296.6L680.6 298.9L679.6 299.2L678.8 296.9ZM672.6 277.5L673.6 280.6L673.2 280.7L672.2 277.6ZM677.1 290.9L678.1 293.9L677.3 294.1L676.4 291.1ZM671.7 275.5L672.7 278.7L672.2 278.8L671.3 275.6ZM675.9 288.9L677.1 292.4L676.3 292.7L675.2 289.1ZM680.4 305.7L681.8 310.1L680.6 310.5L679.3 306.0ZM670.0 271.7L670.9 274.7L670.6 274.8L669.8 271.7ZM670.9 274.7L671.7 277.5L671.3 277.6L670.6 274.8ZM671.7 277.5L672.4 280.2L672.0 280.3L671.3 277.6ZM672.4 280.2L673.4 283.6L672.9 283.8L672.0 280.3ZM673.4 283.6L674.0 285.6L673.4 285.8L672.9 283.8ZM676.9 296.0L677.8 299.2L676.8 299.5L676.0 296.3ZM670.2 272.9L671.0 276.1L670.7 276.2L669.9 273.0ZM672.3 282.3L673.0 285.4L672.4 285.5L671.7 282.4ZM674.0 289.5L674.6 291.8L673.8 292.0L673.3 289.7ZM675.1 293.8L675.6 296.1L674.8 296.3L674.3 294.0ZM669.4 272.0L670.1 275.4L669.7 275.5L669.1 272.1ZM668.9 270.5L669.7 275.0L669.4 275.0L668.7 270.5ZM669.4 275.8L669.9 278.9L669.4 278.9L669.1 275.9ZM670.3 281.7L670.8 284.7L670.2 284.8L669.8 281.8ZM670.8 284.7L671.4 288.8L670.7 288.9L670.2 284.8ZM668.4 271.6L668.9 275.9L668.6 275.9L668.2 271.7ZM668.9 275.9L669.3 278.8L668.8 278.9L668.6 275.9ZM669.3 278.8L669.8 283.1L669.2 283.1L668.8 278.9ZM670.6 289.9L670.8 291.7L670.0 291.8L669.9 290.0ZM668.1 270.2L668.4 273.7L668.1 273.7L667.9 270.2ZM668.4 273.7L668.8 277.2L668.4 277.3L668.1 273.7ZM668.2 281.3L668.4 285.7L667.8 285.7L667.7 281.3ZM667.6 272.7L667.7 276.0L667.3 276.0L667.3 272.7ZM667.2 270.0L667.2 272.9L666.9 272.9L667.0 270.0ZM667.1 267.7L667.0 272.4L666.7 272.4L667.0 267.7ZM667.0 272.4L666.9 276.2L666.6 276.2L666.7 272.4ZM666.7 276.8L666.5 280.9L666.0 280.8L666.3 276.8ZM666.5 280.9L666.4 283.3L665.8 283.3L666.0 280.8ZM666.4 283.3L666.2 287.0L665.6 287.0L665.8 283.3ZM666.6 270.9L666.4 273.5L666.1 273.5L666.3 270.9ZM666.4 273.5L666.2 276.0L665.8 275.9L666.1 273.5ZM666.7 267.7L666.4 270.6L666.2 270.6L666.5 267.7ZM666.2 270.9L665.9 274.2L665.6 274.1L666.0 270.9ZM665.9 274.2L665.7 276.3L665.3 276.2L665.6 274.1ZM665.5 275.6L664.9 279.8L664.5 279.7L665.1 275.5ZM665.5 274.1L665.1 276.5L664.7 276.5L665.1 274.1ZM665.1 276.5L664.8 278.7L664.4 278.7L664.7 276.5ZM664.0 277.8L663.1 282.5L662.6 282.4L663.6 277.7ZM663.1 280.8L662.2 285.2L661.6 285.0L662.6 280.7ZM662.9 280.4L662.3 282.6L661.8 282.5L662.4 280.3ZM713.3 298.1L714.1 298.8L713.2 299.9L712.4 299.2ZM714.7 300.6L715.6 301.4L714.7 302.5L713.7 301.7Z"/>
<path fill="#f8c028" d="M673.2 261.9L677.4 262.0L677.4 262.2L673.2 262.0ZM677.4 262.0L681.3 262.1L681.3 262.4L677.4 262.2ZM673.2 262.0L675.9 262.1L675.9 262.3L673.2 262.1ZM675.9 262.1L680.1 262.3L680.1 262.6L675.9 262.3ZM673.2 262.1L676.8 262.3L676.8 262.5L673.2 262.2ZM676.8 262.3L678.9 262.4L678.9 262.7L676.8 262.5ZM678.9 262.4L683.2 262.7L683.1 263.1L678.9 262.7ZM673.2 262.2L675.6 262.4L675.6 262.6L673.2 262.3ZM675.6 262.4L678.7 262.6L678.7 262.9L675.6 262.6ZM678.7 262.6L681.8 262.8L681.8 263.2L678.7 262.9ZM681.8 262.8L686.6 263.2L686.6 263.7L681.8 263.2ZM677.4 262.7L680.4 263.0L680.4 263.3L677.4 262.9ZM680.4 263.0L685.0 263.4L685.0 263.8L680.4 263.3ZM685.0 263.4L689.3 263.8L689.3 264.3L685.0 263.8ZM681.4 263.3L684.8 263.7L684.8 264.1L681.3 263.7ZM684.8 263.7L688.4 264.1L688.3 264.6L684.8 264.1ZM688.4 264.1L690.9 264.4L690.8 264.9L688.3 264.6ZM684.4 263.9L688.6 264.5L688.5 265.0L684.4 264.4ZM688.6 264.5L693.2 265.1L693.1 265.7L688.5 265.0ZM687.2 264.6L689.3 265.0L689.2 265.5L687.1 265.1ZM689.3 265.0L694.1 265.7L694.0 266.3L689.2 265.5ZM697.0 275.8L698.9 276.7L698.5 277.5L696.7 276.6ZM678.4 267.2L681.5 268.8L681.3 269.1L678.2 267.5ZM689.0 272.5L693.4 274.7L693.1 275.3L688.8 273.0ZM672.6 264.5L674.9 265.7L674.8 265.9L672.5 264.6ZM680.3 268.5L684.8 270.8L684.5 271.2L680.2 268.8ZM687.8 272.4L692.1 274.6L691.8 275.2L687.5 272.9ZM692.1 274.6L696.4 276.8L696.0 277.5L691.8 275.2ZM699.4 278.3L701.2 279.3L700.7 280.1L698.9 279.1ZM672.4 264.8L674.2 265.8L674.1 266.0L672.4 264.9ZM714.6 288.5L715.5 289.1L714.0 291.5L713.1 291.0ZM690.3 275.8L693.8 277.9L693.3 278.5L690.0 276.3ZM678.2 268.7L682.0 271.1L681.7 271.4L678.0 268.9ZM672.3 265.0L675.2 267.0L675.1 267.2L672.2 265.2ZM689.3 276.3L691.8 277.8L691.4 278.5L689.0 276.8ZM691.8 277.8L694.6 279.7L694.1 280.4L691.4 278.5ZM697.5 281.6L699.6 283.0L699.0 283.8L697.0 282.3ZM699.6 283.0L703.6 285.6L703.0 286.5L699.0 283.8ZM703.6 285.6L707.0 287.9L706.4 288.8L703.0 286.5ZM697.1 283.7L700.0 285.8L699.4 286.6L696.5 284.4ZM684.8 276.1L686.7 277.7L686.3 278.2L684.5 276.6ZM691.2 281.4L693.7 283.4L693.1 284.0L690.7 282.0ZM696.1 285.4L700.0 288.5L699.3 289.4L695.5 286.1ZM702.9 290.9L705.6 293.1L704.8 294.0L702.2 291.8ZM676.8 269.8L679.6 272.2L679.4 272.6L676.6 270.1ZM679.6 272.2L682.5 274.7L682.2 275.0L679.4 272.6ZM702.8 291.9L705.0 293.7L704.2 294.7L702.1 292.8ZM671.8 265.7L673.6 267.3L673.5 267.5L671.7 265.8ZM676.4 269.8L679.3 272.3L679.0 272.6L676.2 270.0ZM687.5 279.5L690.1 281.8L689.6 282.4L687.1 280.0ZM690.1 281.8L691.7 283.2L691.2 283.8L689.6 282.4ZM694.3 285.5L696.3 287.2L695.6 288.0L693.7 286.2ZM700.4 290.8L702.1 292.4L701.4 293.2L699.6 291.7ZM702.3 292.2L703.9 293.6L702.8 294.9L701.2 293.4ZM671.7 265.8L673.6 267.5L673.5 267.7L671.6 265.9ZM673.6 267.5L675.9 269.7L675.7 269.9L673.5 267.7ZM678.7 272.1L680.7 274.0L680.4 274.3L678.4 272.4ZM691.6 283.9L695.1 287.1L694.5 287.8L691.1 284.5ZM700.5 292.0L702.0 293.4L701.2 294.2L699.7 292.8ZM709.3 298.9L711.0 300.5L708.9 302.7L707.3 301.1ZM680.6 274.3L682.7 276.3L682.4 276.7L680.3 274.6ZM682.7 276.3L684.3 277.8L683.9 278.2L682.4 276.7ZM684.3 277.8L686.5 279.9L686.0 280.4L683.9 278.2ZM686.5 279.9L689.6 282.8L689.1 283.4L686.0 280.4ZM693.2 286.2L695.6 288.5L695.0 289.2L692.6 286.8ZM702.1 294.5L702.9 295.3L702.0 296.2L701.2 295.4ZM702.8 295.4L703.8 296.3L703.1 297.1L702.1 296.1ZM673.4 267.7L675.6 269.9L675.4 270.1L673.2 267.9ZM675.0 269.5L678.1 272.8L677.9 273.0L674.8 269.7ZM678.1 272.8L679.7 274.4L679.4 274.7L677.9 273.0ZM683.0 277.7L685.0 279.7L684.6 280.1L682.6 278.1ZM695.4 290.2L698.8 293.6L698.0 294.4L694.7 290.9ZM671.4 266.1L673.0 267.7L672.8 267.9L671.3 266.2ZM691.8 287.4L694.3 290.1L693.6 290.7L691.1 288.0ZM697.4 293.3L699.5 295.5L698.6 296.3L696.6 294.1ZM704.3 299.4L705.1 300.3L703.0 302.2L702.2 301.3ZM671.3 266.2L674.1 269.2L674.0 269.4L671.2 266.3ZM674.1 269.2L676.1 271.4L675.9 271.6L674.0 269.4ZM676.1 271.4L679.0 274.5L678.7 274.8L675.9 271.6ZM686.5 282.6L688.2 284.4L687.6 284.9L686.0 283.1ZM688.2 284.4L689.8 286.2L689.2 286.8L687.6 284.9ZM693.2 289.9L696.3 293.2L695.5 293.9L692.5 290.5ZM696.3 293.2L698.5 295.6L697.6 296.3L695.5 293.9ZM671.2 266.2L674.4 269.8L674.2 270.0L671.1 266.3ZM678.4 274.3L681.6 277.9L681.2 278.3L678.1 274.5ZM683.0 279.4L685.6 282.3L685.0 282.7L682.6 279.8ZM695.5 294.6L697.4 296.8L696.5 297.6L694.7 295.3ZM683.5 281.3L685.2 283.3L684.6 283.8L683.0 281.7ZM697.2 297.8L698.8 299.7L697.8 300.5L696.3 298.6ZM699.3 299.3L700.5 300.7L698.4 302.3L697.3 300.9ZM671.0 266.4L673.8 270.0L673.6 270.1L670.9 266.5ZM673.8 270.0L676.0 272.7L675.8 272.9L673.6 270.1ZM681.3 279.2L684.1 282.7L683.5 283.1L680.8 279.6ZM684.1 282.7L686.6 285.8L686.0 286.3L683.5 283.1ZM690.8 291.1L693.8 294.9L693.0 295.6L690.0 291.7ZM693.8 294.9L695.8 297.4L694.9 298.1L693.0 295.6ZM695.8 297.4L697.5 299.5L696.6 300.3L694.9 298.1ZM670.9 266.5L673.4 269.7L673.2 269.9L670.8 266.6ZM693.5 295.7L694.7 297.3L693.8 297.9L692.6 296.3ZM700.4 304.2L701.2 305.2L699.6 306.3L698.9 305.4ZM670.8 266.6L672.4 268.7L672.2 268.8L670.7 266.6ZM674.5 271.5L676.0 273.4L675.7 273.7L674.3 271.7ZM680.9 280.8L683.0 283.6L682.4 284.0L680.5 281.1ZM683.0 283.6L685.0 286.5L684.4 286.9L682.4 284.0ZM678.7 278.3L681.3 282.0L680.8 282.4L678.3 278.6ZM681.3 282.0L683.5 285.3L682.9 285.7L680.8 282.4ZM687.6 291.1L689.1 293.3L688.3 293.8L686.9 291.6ZM689.1 293.3L691.6 296.9L690.7 297.5L688.3 293.8ZM697.0 303.4L697.6 304.3L695.3 305.9L694.8 304.9ZM698.4 306.2L699.2 307.3L697.5 308.4L696.8 307.2ZM692.2 299.1L692.7 299.9L691.7 300.5L691.2 299.7ZM670.5 266.8L672.6 270.0L672.4 270.2L670.4 266.9ZM672.6 270.0L673.7 271.8L673.5 272.0L672.4 270.2ZM677.9 278.3L679.3 280.6L678.9 280.9L677.4 278.5ZM683.5 287.0L685.0 289.3L684.3 289.8L682.8 287.4ZM690.4 297.8L692.2 300.6L691.2 301.2L689.5 298.3ZM692.2 300.6L693.4 302.4L692.3 303.1L691.2 301.2ZM693.6 302.3L694.5 303.7L693.0 304.6L692.1 303.2ZM697.1 307.7L698.1 309.2L696.4 310.2L695.5 308.7ZM673.4 271.7L675.1 274.4L674.8 274.6L673.2 271.9ZM675.1 274.4L676.3 276.4L676.0 276.7L674.8 274.6ZM680.1 282.6L681.4 284.6L680.8 285.0L679.6 282.9ZM693.3 303.4L694.5 305.4L693.0 306.3L691.8 304.3ZM675.4 275.5L677.0 278.1L676.6 278.4L675.1 275.7ZM678.6 280.9L680.5 284.0L679.9 284.3L678.2 281.2ZM680.5 284.0L681.6 285.9L681.0 286.3L679.9 284.3ZM681.6 285.9L683.4 288.9L682.7 289.3L681.0 286.3ZM683.4 288.9L684.4 290.6L683.7 291.0L682.7 289.3ZM688.3 297.1L689.4 299.1L688.5 299.6L687.4 297.7ZM691.0 301.7L691.9 303.2L690.8 303.8L690.0 302.3ZM676.8 278.4L678.7 281.8L678.2 282.1L676.3 278.7ZM678.7 281.8L680.8 285.5L680.2 285.9L678.2 282.1ZM694.1 308.3L695.0 309.8L693.3 310.8L692.5 309.2ZM671.3 269.2L672.4 271.1L672.2 271.3L671.1 269.3ZM675.2 276.9L677.5 281.2L677.0 281.4L674.8 277.1ZM679.2 284.5L680.4 286.8L679.8 287.1L678.6 284.8ZM681.6 289.1L683.0 291.7L682.2 292.1L680.9 289.5ZM687.8 300.9L689.0 303.2L688.0 303.7L686.8 301.4ZM672.2 271.6L673.8 274.8L673.5 275.0L672.0 271.7ZM677.2 281.5L678.8 284.8L678.3 285.1L676.7 281.7ZM682.3 291.7L683.3 293.6L682.5 294.0L681.6 292.0ZM683.3 293.6L684.7 296.5L683.8 296.9L682.5 294.0ZM684.7 296.5L686.1 299.3L685.2 299.7L683.8 296.9ZM686.1 299.3L688.1 303.1L687.0 303.6L685.2 299.7ZM690.6 308.0L691.9 310.7L690.6 311.3L689.4 308.6ZM691.9 310.7L692.6 312.0L691.3 312.6L690.6 311.3ZM678.7 285.5L679.9 288.0L679.2 288.3L678.1 285.8ZM681.3 290.8L682.8 294.0L682.0 294.4L680.5 291.2ZM675.0 278.7L676.5 281.7L676.0 282.0L674.6 278.9ZM680.5 290.4L681.7 293.1L680.9 293.4L679.7 290.8ZM684.2 298.6L686.1 302.7L685.1 303.2L683.3 299.0ZM687.3 305.2L689.3 309.6L688.1 310.1L686.2 305.7ZM674.1 277.4L675.9 281.3L675.4 281.6L673.7 277.6ZM676.8 283.5L678.0 286.1L677.3 286.4L676.3 283.7ZM686.3 305.2L687.2 307.2L686.1 307.7L685.2 305.6ZM671.3 271.3L672.1 273.3L671.8 273.4L671.0 271.4ZM677.2 285.5L678.8 289.4L678.1 289.7L676.6 285.8ZM684.8 303.8L686.6 307.9L685.4 308.3L683.8 304.2ZM686.6 307.9L688.2 311.8L687.0 312.3L685.4 308.3ZM673.1 276.4L674.1 278.8L673.6 279.0L672.7 276.6ZM674.1 278.8L674.9 281.0L674.4 281.2L673.6 279.0ZM678.0 288.8L679.8 293.4L679.0 293.7L677.3 289.0ZM684.1 304.0L685.5 307.7L684.4 308.1L683.0 304.4ZM672.8 276.3L674.2 280.1L673.7 280.3L672.4 276.4ZM675.7 284.0L677.4 288.5L676.7 288.8L675.1 284.2ZM677.4 288.5L679.0 292.7L678.2 293.0L676.7 288.8ZM679.0 292.7L680.3 296.2L679.4 296.5L678.2 293.0ZM680.3 296.2L681.9 300.6L680.9 300.9L679.4 296.5ZM672.9 277.6L674.4 281.6L673.9 281.8L672.5 277.7ZM676.7 288.2L678.4 292.8L677.6 293.1L676.1 288.4ZM681.4 301.3L683.0 305.8L681.9 306.1L680.4 301.7ZM683.8 308.0L685.4 312.5L684.1 312.9L682.6 308.4ZM675.0 284.7L676.3 288.4L675.6 288.6L674.4 284.9ZM682.9 308.1L683.7 310.4L682.5 310.8L681.8 308.4ZM683.7 310.4L684.4 312.4L683.1 312.8L682.5 310.8ZM673.6 281.5L674.9 285.8L674.3 286.0L673.1 281.6ZM674.9 285.8L675.9 288.9L675.2 289.1L674.3 286.0ZM677.1 292.4L677.9 294.9L677.0 295.2L676.3 292.7ZM680.1 301.9L681.2 305.4L680.1 305.8L679.1 302.2ZM673.7 283.3L675.1 287.9L674.4 288.0L673.2 283.5ZM675.1 287.9L676.4 292.3L675.7 292.6L674.4 288.0ZM676.4 292.3L677.5 296.0L676.7 296.3L675.7 292.6ZM674.0 285.6L675.0 289.4L674.3 289.6L673.4 285.8ZM675.0 289.4L675.9 292.4L675.1 292.6L674.3 289.6ZM675.9 292.4L676.9 296.0L676.0 296.3L675.1 292.6ZM680.2 307.7L680.5 308.7L679.3 309.1L679.0 308.0ZM671.0 276.1L671.9 279.5L671.5 279.7L670.7 276.2ZM671.9 279.5L672.9 283.2L672.3 283.3L671.5 279.7ZM671.7 279.8L672.3 282.3L671.7 282.4L671.2 279.9ZM675.6 296.1L676.1 298.1L675.2 298.3L674.8 296.3ZM676.8 300.9L677.0 301.7L676.0 302.0L675.8 301.2ZM672.7 285.9L673.7 290.3L673.0 290.5L672.1 286.0ZM670.9 279.2L671.8 283.6L671.2 283.7L670.4 279.3ZM673.1 290.0L673.5 292.1L672.8 292.2L672.4 290.1ZM672.1 287.5L672.6 289.9L671.9 290.0L671.5 287.6ZM673.1 292.9L673.6 295.5L672.8 295.7L672.4 293.0ZM674.1 297.9L674.7 301.4L673.8 301.5L673.2 298.1ZM669.5 274.7L670.1 278.1L669.6 278.2L669.1 274.8ZM672.0 289.7L672.6 293.1L671.8 293.2L671.3 289.8ZM671.4 288.8L672.0 292.6L671.2 292.7L670.7 288.9ZM668.7 272.2L669.2 276.4L668.9 276.5L668.4 272.3ZM670.5 285.5L670.8 288.2L670.2 288.3L669.9 285.6ZM669.6 285.2L670.0 289.0L669.3 289.1L669.0 285.2ZM668.0 271.1L668.3 274.7L668.0 274.7L667.8 271.1ZM668.3 274.7L668.7 279.3L668.3 279.3L668.0 274.7ZM668.1 275.1L668.4 278.9L667.9 278.9L667.8 275.1ZM668.6 282.3L668.8 285.1L668.2 285.1L668.1 282.3ZM668.8 285.1L669.0 288.9L668.3 288.9L668.2 285.1ZM668.0 277.0L668.2 281.3L667.7 281.3L667.6 277.0ZM667.6 288.6L667.6 289.3L666.9 289.3L666.9 288.6ZM667.2 272.9L667.2 275.9L666.8 275.8L666.9 272.9ZM667.1 286.7L667.1 288.9L666.4 288.9L666.5 286.6ZM666.9 276.2L666.9 279.0L666.4 279.0L666.6 276.2ZM666.7 271.5L666.5 275.4L666.1 275.4L666.4 271.5ZM666.3 278.9L666.0 283.2L665.5 283.2L665.8 278.8ZM665.8 286.4L665.8 287.9L665.1 287.8L665.2 286.4ZM666.0 278.7L665.8 281.7L665.3 281.7L665.6 278.7ZM665.4 286.6L665.3 287.6L664.7 287.5L664.8 286.5ZM666.2 273.6L665.7 278.5L665.3 278.5L665.9 273.6ZM665.7 276.3L665.4 278.4L665.0 278.4L665.3 276.2ZM664.1 286.1L664.1 286.6L663.5 286.5L663.5 286.1ZM665.2 274.3L664.4 279.0L664.0 278.9L664.9 274.3ZM664.4 279.0L663.9 282.4L663.4 282.3L664.0 278.9ZM663.9 282.4L663.3 285.7L662.7 285.6L663.4 282.3ZM664.7 275.8L664.2 278.4L663.8 278.4L664.3 275.8ZM663.1 282.5L662.7 284.5L662.1 284.4L662.6 282.4Z"/>
<path fill="#f8d038" d="M673.2 262.3L677.4 262.7L677.4 262.9L673.2 262.5ZM673.2 262.4L677.1 262.8L677.1 263.1L673.2 262.6ZM677.1 262.8L681.4 263.3L681.3 263.7L677.1 263.1ZM673.2 262.5L677.6 263.1L677.6 263.3L673.2 262.7ZM677.6 263.1L680.8 263.5L680.7 263.8L677.6 263.3ZM680.8 263.5L684.4 263.9L684.4 264.4L680.7 263.8ZM673.2 262.6L677.6 263.3L677.6 263.5L673.2 262.8ZM677.6 263.3L680.1 263.6L680.1 263.9L677.6 263.5ZM680.1 263.6L682.5 264.0L682.4 264.3L680.1 263.9ZM682.5 264.0L687.2 264.6L687.1 265.1L682.4 264.3ZM701.8 278.1L705.4 279.8L704.9 280.7L701.4 278.9ZM684.8 270.8L687.8 272.4L687.5 272.9L684.5 271.2ZM696.7 279.0L698.6 280.1L698.2 280.9L696.3 279.7ZM686.3 273.3L688.1 274.4L687.7 274.9L686.0 273.8ZM675.2 267.0L678.3 269.0L678.2 269.3L675.1 267.2ZM713.9 292.5L714.8 293.1L714.2 294.1L713.3 293.5ZM687.5 278.9L690.5 281.4L690.0 282.0L687.1 279.4ZM700.5 289.9L702.8 291.9L702.1 292.8L699.7 290.7ZM684.5 276.9L687.5 279.5L687.1 280.0L684.2 277.4ZM680.7 274.0L684.0 277.0L683.6 277.4L680.4 274.3ZM684.0 277.0L686.3 279.1L685.9 279.6L683.6 277.4ZM686.3 279.1L688.2 280.8L687.7 281.3L685.9 279.6ZM695.1 287.1L697.3 289.1L696.6 289.9L694.5 287.8ZM702.0 293.4L704.2 295.4L703.4 296.3L701.2 294.2ZM671.6 265.9L674.5 268.6L674.4 268.8L671.5 266.0ZM674.5 268.6L677.4 271.3L677.1 271.5L674.4 268.8ZM679.0 272.8L680.6 274.3L680.3 274.6L678.7 273.1ZM698.5 291.2L702.1 294.5L701.2 295.4L697.8 292.0ZM704.4 295.8L705.2 296.5L703.3 298.4L702.5 297.6ZM671.5 265.9L673.4 267.7L673.2 267.9L671.4 266.0ZM675.6 269.9L678.3 272.6L678.1 272.8L675.4 270.1ZM684.4 278.5L686.8 280.8L686.3 281.3L684.0 278.9ZM689.5 283.4L691.2 285.1L690.6 285.7L688.9 284.0ZM694.1 287.9L697.1 290.9L696.4 291.6L693.4 288.6ZM697.1 290.9L699.3 293.0L698.5 293.8L696.4 291.6ZM700.6 294.5L701.7 295.4L700.9 296.2L700.0 295.1ZM679.7 274.4L681.5 276.1L681.1 276.5L679.4 274.7ZM685.0 279.7L688.2 282.9L687.7 283.5L684.6 280.1ZM684.4 279.7L686.3 281.7L685.8 282.2L684.0 280.1ZM686.3 281.7L689.2 284.7L688.6 285.2L685.8 282.2ZM694.3 290.1L697.4 293.3L696.6 294.1L693.6 290.7ZM700.0 295.0L701.7 296.8L699.8 298.5L698.2 296.7ZM679.0 274.5L682.1 277.9L681.7 278.2L678.7 274.8ZM682.1 277.9L684.4 280.3L683.9 280.7L681.7 278.2ZM684.4 280.3L686.5 282.6L686.0 283.1L683.9 280.7ZM700.1 296.4L701.5 297.9L699.6 299.6L698.3 298.1ZM692.3 289.9L695.5 293.5L694.7 294.2L691.6 290.5ZM673.7 269.5L676.7 273.1L676.4 273.3L673.5 269.7ZM678.3 275.0L679.9 277.0L679.6 277.3L677.9 275.3ZM690.6 289.9L692.8 292.5L692.1 293.2L689.9 290.4ZM692.8 292.5L694.9 295.1L694.1 295.8L692.1 293.2ZM676.0 272.7L679.0 276.4L678.6 276.7L675.8 272.9ZM679.0 276.4L681.3 279.2L680.8 279.6L678.6 276.7ZM673.4 269.7L675.6 272.5L675.3 272.7L673.2 269.9ZM678.1 275.7L679.8 278.0L679.4 278.3L677.7 276.0ZM694.6 297.3L695.9 298.9L695.1 299.5L693.9 297.9ZM679.5 278.8L680.9 280.8L680.5 281.1L679.1 279.1ZM694.1 299.3L695.3 301.0L694.5 301.6L693.3 299.8ZM672.3 269.3L673.9 271.7L673.6 271.9L672.1 269.4ZM673.9 271.7L676.0 274.8L675.7 275.1L673.6 271.9ZM678.5 278.6L680.9 282.3L680.4 282.6L678.1 278.9ZM685.3 288.7L687.1 291.5L686.4 292.0L684.6 289.2ZM693.2 299.5L694.1 300.8L692.0 302.2L691.2 300.9ZM695.1 303.7L696.1 305.2L695.2 305.8L694.3 304.3ZM689.2 297.2L691.0 300.1L690.0 300.7L688.3 297.8ZM693.4 304.4L694.0 305.4L691.7 306.7L691.1 305.7ZM674.0 273.5L675.4 276.0L675.0 276.2L673.7 273.7ZM683.4 290.0L685.1 293.0L684.3 293.4L682.6 290.4ZM685.1 293.0L687.4 297.1L686.5 297.6L684.3 293.4ZM688.7 299.2L690.3 302.1L689.3 302.7L687.7 299.8ZM672.4 271.1L673.7 273.6L673.4 273.7L672.2 271.3ZM680.4 286.8L681.6 289.1L680.9 289.5L679.8 287.1ZM685.1 295.7L686.6 298.5L685.6 299.0L684.2 296.1ZM689.0 303.2L690.1 305.3L689.0 305.9L688.0 303.7ZM690.1 305.3L690.7 306.5L689.6 307.0L689.0 305.9ZM691.0 306.3L691.5 307.3L689.9 308.1L689.4 307.1ZM673.8 274.8L675.9 279.0L675.5 279.2L673.5 275.0ZM678.8 284.8L680.9 288.9L680.2 289.2L678.3 285.1ZM689.4 305.7L690.6 308.0L689.4 308.6L688.3 306.2ZM672.8 273.3L674.4 276.5L674.0 276.7L672.5 273.4ZM679.9 288.0L681.3 290.8L680.5 291.2L679.2 288.3ZM682.8 294.0L683.8 296.0L682.9 296.4L682.0 294.4ZM683.8 296.0L684.7 298.0L683.8 298.4L682.9 296.4ZM689.6 308.1L691.1 311.2L689.8 311.8L688.4 308.7ZM673.6 275.5L675.0 278.7L674.6 278.9L673.2 275.6ZM678.2 285.5L679.1 287.4L678.4 287.7L677.6 285.8ZM679.1 287.4L680.5 290.4L679.7 290.8L678.4 287.7ZM681.7 293.1L682.9 295.7L682.0 296.1L680.9 293.4ZM686.1 302.7L687.3 305.2L686.2 305.7L685.1 303.2ZM689.3 309.6L690.3 311.7L689.0 312.3L688.1 310.1ZM675.9 281.3L676.8 283.5L676.3 283.7L675.4 281.6ZM678.0 286.1L679.0 288.5L678.3 288.8L677.3 286.4ZM680.3 291.5L682.1 295.6L681.3 295.9L679.6 291.8ZM682.1 295.6L683.7 299.1L682.7 299.5L681.3 295.9ZM687.2 307.2L688.9 311.0L687.7 311.6L686.1 307.7ZM672.1 273.3L673.2 276.1L672.9 276.2L671.8 273.4ZM678.8 289.4L680.6 293.7L679.8 294.0L678.1 289.7ZM680.6 293.7L681.7 296.2L680.8 296.5L679.8 294.0ZM681.7 296.2L683.0 299.3L682.0 299.7L680.8 296.5ZM688.2 311.8L688.7 312.9L687.4 313.4L687.0 312.3ZM674.9 281.0L676.7 285.6L676.1 285.8L674.4 281.2ZM676.7 285.6L678.0 288.8L677.3 289.0L676.1 285.8ZM682.4 299.7L684.1 304.0L683.0 304.4L681.4 300.1ZM686.3 309.6L687.5 312.5L686.2 313.0L685.1 310.1ZM674.2 280.1L675.7 284.0L675.1 284.2L673.7 280.3ZM681.9 300.6L682.9 303.2L681.9 303.6L680.9 300.9ZM685.3 309.4L686.9 313.7L685.6 314.1L684.1 309.8ZM674.4 281.6L675.8 285.6L675.2 285.8L673.9 281.8ZM678.4 292.8L679.7 296.6L678.8 296.9L677.6 293.1ZM680.6 298.9L681.4 301.3L680.4 301.7L679.6 299.2ZM673.6 280.6L675.0 284.7L674.4 284.9L673.2 280.7ZM676.3 288.4L677.1 290.9L676.4 291.1L675.6 288.6ZM680.8 301.7L682.3 306.1L681.2 306.5L679.8 302.0ZM682.3 306.1L682.9 308.1L681.8 308.4L681.2 306.5ZM684.4 312.4L685.4 315.3L684.0 315.7L683.1 312.8ZM677.9 294.9L679.2 299.2L678.3 299.4L677.0 295.2ZM679.2 299.2L680.1 301.9L679.1 302.2L678.3 299.4ZM681.2 305.4L682.0 307.8L680.8 308.2L680.1 305.8ZM683.5 312.5L684.3 315.2L683.0 315.7L682.2 312.9ZM684.3 315.2L684.5 315.9L683.2 316.3L683.0 315.7ZM671.2 274.9L672.4 278.8L671.9 278.9L670.9 275.0ZM677.5 296.0L678.6 299.6L677.7 299.9L676.7 296.3ZM674.7 289.9L675.4 292.8L674.6 293.0L673.9 290.1ZM675.4 292.8L676.6 297.2L675.7 297.4L674.6 293.0ZM676.6 297.2L677.5 300.9L676.5 301.1L675.7 297.4ZM677.5 300.9L677.9 302.5L676.9 302.7L676.5 301.1ZM673.0 285.4L674.0 289.5L673.3 289.7L672.4 285.5ZM674.6 291.8L675.1 293.8L674.3 294.0L673.8 292.0ZM676.1 298.1L676.8 300.9L675.8 301.2L675.2 298.3ZM671.1 278.7L672.1 283.3L671.6 283.4L670.7 278.8ZM674.6 294.2L675.3 297.6L674.4 297.8L673.8 294.4ZM670.1 275.4L670.9 279.2L670.4 279.3L669.7 275.5ZM671.8 283.6L672.2 285.8L671.6 285.9L671.2 283.7ZM672.2 285.8L673.1 290.0L672.4 290.1L671.6 285.9ZM673.5 292.1L674.0 294.2L673.2 294.3L672.8 292.2ZM674.8 298.3L675.3 300.8L674.4 300.9L673.9 298.5ZM669.7 275.0L670.7 279.8L670.2 279.8L669.4 275.0ZM671.7 285.4L672.1 287.5L671.5 287.6L671.1 285.5ZM673.6 295.5L674.1 297.9L673.2 298.1L672.8 295.7ZM670.1 278.1L670.9 283.0L670.3 283.0L669.6 278.2ZM671.3 285.4L672.0 289.7L671.3 289.8L670.7 285.5ZM669.9 278.9L670.3 281.7L669.8 281.8L669.4 278.9ZM671.3 291.8L671.4 292.2L670.6 292.2L670.6 291.9ZM670.0 285.5L670.6 289.9L669.9 290.0L669.4 285.5ZM669.3 281.7L669.6 285.2L669.0 285.2L668.8 281.8ZM670.0 289.0L670.2 291.3L669.5 291.3L669.3 289.1ZM669.1 283.7L669.5 288.6L668.8 288.6L668.5 283.7ZM669.5 288.6L669.7 290.8L668.9 290.9L668.8 288.6ZM667.9 271.7L668.1 275.1L667.8 275.1L667.6 271.7ZM668.4 278.9L668.6 282.3L668.1 282.3L667.9 278.9ZM669.0 288.9L669.1 290.4L668.4 290.5L668.3 288.9ZM668.6 289.5L668.6 290.0L667.9 290.1L667.9 289.5ZM668.0 286.5L668.1 289.7L667.4 289.7L667.4 286.5ZM667.5 282.2L667.5 285.3L667.0 285.3L667.0 282.2ZM667.5 285.3L667.6 288.6L666.9 288.6L667.0 285.3ZM667.2 277.9L667.2 280.3L666.7 280.3L666.8 277.9ZM667.1 283.5L667.1 286.7L666.5 286.6L666.6 283.5ZM666.8 283.9L666.7 288.2L666.0 288.2L666.2 283.9ZM666.7 288.2L666.7 288.6L666.0 288.5L666.0 288.2ZM666.5 275.4L666.3 278.9L665.8 278.8L666.1 275.4ZM666.2 276.0L666.0 278.7L665.6 278.7L665.8 275.9ZM665.8 281.7L665.4 286.6L664.8 286.5L665.3 281.7ZM665.3 283.2L664.9 287.2L664.3 287.2L664.7 283.2ZM664.9 283.2L664.5 286.9L663.8 286.8L664.4 283.1ZM664.3 282.2L663.9 284.7L663.3 284.7L663.8 282.1ZM663.3 285.7L663.3 286.0L662.7 285.9L662.7 285.6ZM664.2 278.4L663.6 281.8L663.1 281.7L663.8 278.4ZM663.1 284.4L662.9 285.7L662.3 285.6L662.6 284.3ZM708.3 307.8L709.2 308.9L708.1 309.9L707.2 308.8ZM695.5 309.4L696.1 310.3L694.9 311.0L694.3 310.0ZM694.5 307.6L695.1 308.6L693.9 309.3L693.4 308.3Z"/>
<path fill="#f8f850" d="M677.7 267.2L680.3 268.5L680.2 268.8L677.6 267.4ZM689.2 284.7L691.8 287.4L691.1 288.0L688.6 285.2ZM673.7 273.6L675.1 276.1L674.7 276.3L673.4 273.7ZM675.1 276.1L677.3 280.1L676.9 280.4L674.7 276.3ZM679.4 283.9L681.7 288.1L681.0 288.4L678.8 284.2ZM682.7 289.9L684.9 293.9L684.1 294.4L682.0 290.3ZM688.0 299.6L688.9 301.2L687.9 301.7L687.0 300.1ZM692.4 306.2L693.4 308.0L691.0 309.3L690.0 307.4ZM686.6 298.5L687.8 300.9L686.8 301.4L685.6 299.0ZM680.9 288.9L682.3 291.7L681.6 292.0L680.2 289.2ZM675.5 278.9L676.7 281.4L676.2 281.6L675.1 279.1ZM685.8 300.3L688.0 304.8L686.9 305.3L684.8 300.7ZM688.0 304.8L689.6 308.1L688.4 308.7L686.9 305.3ZM682.9 295.7L684.2 298.6L683.3 299.0L682.0 296.1ZM683.0 299.3L684.8 303.8L683.8 304.2L682.0 299.7ZM684.2 306.5L685.3 309.4L684.1 309.8L683.1 306.9ZM679.3 301.9L680.4 305.7L679.3 306.0L678.3 302.2ZM673.7 290.3L674.6 294.2L673.8 294.4L673.0 290.5ZM675.3 297.6L675.9 300.1L674.9 300.3L674.4 297.8ZM670.7 279.8L671.1 282.3L670.6 282.3L670.2 279.8ZM667.8 279.4L667.9 282.8L667.4 282.9L667.3 279.4ZM665.7 278.5L665.3 283.2L664.7 283.2L665.3 278.5ZM665.2 280.8L664.9 283.2L664.4 283.1L664.7 280.7ZM699.6 312.1L700.3 313.3L699.1 314.1L698.3 312.9ZM699.0 306.0L700.2 307.6L699.1 308.4L697.9 306.7Z"/>
<path fill="#f8e048" d="M696.4 276.8L699.4 278.3L698.9 279.1L696.0 277.5ZM712.5 284.8L714.3 285.7L713.4 287.3L711.7 286.4ZM678.3 272.6L681.2 275.4L680.9 275.7L678.1 272.8ZM681.2 275.4L684.4 278.5L684.0 278.9L680.9 275.7ZM686.8 280.8L689.5 283.4L688.9 284.0L686.3 281.3ZM691.2 285.1L694.1 287.9L693.4 288.6L690.6 285.7ZM699.3 293.0L700.7 294.4L699.9 295.2L698.5 293.8ZM675.6 270.5L678.2 273.3L678.0 273.5L675.4 270.7ZM688.2 287.9L690.8 291.1L690.0 291.7L687.6 288.5ZM697.4 299.6L698.5 300.9L697.7 301.5L696.6 300.2ZM670.6 266.7L672.3 269.3L672.1 269.4L670.5 266.8ZM680.9 282.3L682.9 285.2L682.3 285.6L680.4 282.6ZM682.9 285.2L685.3 288.7L684.6 289.2L682.3 285.6ZM691.1 297.4L692.2 299.1L691.2 299.7L690.1 298.0ZM696.1 305.2L697.1 306.6L696.1 307.3L695.2 305.8ZM679.3 280.6L681.2 283.5L680.7 283.8L678.9 280.9ZM675.4 276.0L676.8 278.4L676.3 278.7L675.0 276.2ZM680.8 285.5L682.3 288.2L681.7 288.6L680.2 285.9ZM687.4 297.1L688.7 299.2L687.7 299.8L686.5 297.6ZM690.3 302.1L691.5 304.2L690.4 304.8L689.3 302.7ZM681.7 288.1L682.7 289.9L682.0 290.3L681.0 288.4ZM684.9 293.9L686.1 296.1L685.2 296.6L684.1 294.4ZM686.1 296.1L688.0 299.6L687.0 300.1L685.2 296.6ZM689.8 303.2L690.6 304.6L689.7 305.1L689.0 303.6ZM690.6 304.6L691.7 306.6L690.7 307.1L689.7 305.1ZM694.0 310.9L695.0 312.7L693.9 313.2L693.0 311.4ZM677.5 281.2L679.2 284.5L678.6 284.8L677.0 281.4ZM683.0 291.7L685.1 295.7L684.2 296.1L682.2 292.1ZM675.9 279.0L677.2 281.5L676.7 281.7L675.5 279.2ZM674.4 276.5L675.5 278.9L675.1 279.1L674.0 276.7ZM676.7 281.4L678.7 285.5L678.1 285.8L676.2 281.6ZM683.7 299.1L684.7 301.4L683.7 301.8L682.7 299.5ZM688.9 311.0L689.5 312.3L688.2 312.9L687.7 311.6ZM673.2 276.1L674.6 279.3L674.1 279.5L672.9 276.2ZM674.6 279.3L676.3 283.3L675.7 283.5L674.1 279.5ZM676.3 283.3L677.2 285.5L676.6 285.8L675.7 283.5ZM682.9 303.2L684.2 306.5L683.1 306.9L681.9 303.6ZM686.9 313.7L687.0 314.1L685.7 314.6L685.6 314.1ZM683.0 305.8L683.8 308.0L682.6 308.4L681.9 306.1ZM685.4 312.5L686.2 314.7L684.9 315.1L684.1 312.9ZM679.3 297.2L680.8 301.7L679.8 302.0L678.4 297.5ZM672.7 278.7L673.6 281.5L673.1 281.6L672.2 278.8ZM682.0 307.8L683.5 312.5L682.2 312.9L680.8 308.2ZM672.4 278.8L673.7 283.3L673.2 283.5L671.9 278.9ZM678.6 299.6L679.3 301.9L678.3 302.2L677.7 299.9ZM681.8 310.1L682.7 313.1L681.4 313.4L680.6 310.5ZM682.7 313.1L683.7 316.5L682.3 316.9L681.4 313.4ZM683.7 316.5L683.7 316.5L682.3 316.9L682.3 316.9ZM677.8 299.2L679.0 303.6L678.0 303.9L676.8 299.5ZM679.0 303.6L680.2 307.7L679.0 308.0L678.0 303.9ZM672.9 283.2L674.1 287.9L673.5 288.1L672.3 283.3ZM670.6 275.6L671.7 279.8L671.2 279.9L670.3 275.7ZM670.4 275.8L671.1 278.7L670.7 278.8L670.1 275.9ZM672.1 283.3L672.7 285.9L672.1 286.0L671.6 283.4ZM675.9 300.1L676.2 301.6L675.2 301.8L674.9 300.3ZM674.0 294.2L674.8 298.3L673.9 298.5L673.2 294.3ZM675.3 300.8L675.5 301.5L674.5 301.7L674.4 300.9ZM671.1 282.3L671.7 285.4L671.1 285.5L670.6 282.3ZM672.6 289.9L673.1 292.9L672.4 293.0L671.9 290.0ZM670.9 283.0L671.3 285.4L670.7 285.5L670.3 283.0ZM669.2 276.4L669.9 281.1L669.4 281.2L668.9 276.5ZM669.9 281.1L670.5 285.5L669.9 285.6L669.4 281.2ZM670.8 288.2L671.3 291.8L670.6 291.9L670.2 288.3ZM668.8 277.2L669.3 281.7L668.8 281.8L668.4 277.3ZM668.7 279.3L669.1 283.7L668.5 283.7L668.3 279.3ZM667.9 274.5L668.0 277.0L667.6 277.0L667.5 274.5ZM668.4 285.7L668.6 289.5L667.9 289.5L667.8 285.7ZM667.7 276.0L667.8 279.4L667.3 279.4L667.3 276.0ZM667.5 278.0L667.5 282.2L667.0 282.2L667.0 278.0ZM667.2 280.3L667.1 283.5L666.6 283.5L666.7 280.3ZM666.0 283.2L665.8 286.4L665.2 286.4L665.5 283.2ZM665.4 278.4L665.2 280.8L664.7 280.7L665.0 278.4ZM664.9 279.8L664.7 281.9L664.2 281.9L664.5 279.7ZM664.8 278.7L664.3 282.2L663.8 282.1L664.4 278.7ZM663.9 284.7L663.7 286.3L663.1 286.2L663.3 284.7ZM663.6 281.8L663.1 284.4L662.6 284.3L663.1 281.7ZM693.6 308.0L694.3 309.2L693.2 309.9L692.5 308.6ZM706.2 304.0L707.0 304.8L705.9 305.8L705.2 304.9Z"/>
<path fill="#f8f870" d="M676.0 274.8L678.5 278.6L678.1 278.9L675.7 275.1ZM667.9 282.8L668.0 286.5L667.4 286.5L667.4 282.9Z"/>
<path fill="#f8f860" d="M677.3 280.1L679.4 283.9L678.8 284.2L676.9 280.4ZM689.4 300.9L690.5 302.8L688.3 304.0L687.3 302.0ZM666.9 279.0L666.8 283.9L666.2 283.9L666.4 279.0Z"/>
<path fill="#000458" d="M599.8 266.3L602.9 265.8L603.3 266.7L606.4 266.3L614.3 265.4L628.3 263.9L644.1 263.2L658.2 263.0L660.4 258.3L661.8 257.9L661.2 263.2L661.8 266.2L656.4 268.9L651.1 267.5L644.1 268.9L637.1 270.6L628.3 271.1L620.4 271.1L614.3 269.7L609.9 268.0L605.5 267.2L603.8 267.5L600.3 267.4Z"/>
<path fill="#0010f0" d="M628.3 264.0L644.1 263.3L658.3 263.2L659.9 260.5L660.8 263.2L656.4 265.4L647.6 266.3L637.1 266.0L630.1 265.3Z"/>
<path fill="#0008d8" d="M633.6 265.4L644.1 264.7L652.9 264.9L647.6 266.7L638.9 267.2Z"/>
<path fill="#fff" d="M647.6 267.5L651.1 267.2L655.5 268.6L652.0 268.8Z"/>
<path fill="#f00000" d="M616.1 266.7L620.4 266.7L620.4 267.9L616.1 267.9Z"/>
<path fill="#f00000" d="M620.4 267.5L623.9 267.5L623.9 268.6L620.4 268.6Z"/>
<path fill="#f00000" d="M624.8 268.0L628.3 268.0L628.3 269.0L624.8 269.0Z"/>
<path fill="#f00000" d="M618.7 269.7L620.8 269.7L620.8 270.8L618.7 270.8Z"/>
<path fill="#f00000" d="M623.1 271.9L624.3 271.9L624.3 273.0L623.1 273.0Z"/>
<path fill="#f00000" d="M630.1 268.6L631.5 268.6L631.5 269.6L630.1 269.6Z"/>
<path fill="#f00000" d="M638.0 268.1L639.2 268.1L639.2 269.1L638.0 269.1Z"/>
<path fill="#f00000" d="M655.5 266.7L659.9 266.7L659.9 267.9L655.5 267.9Z"/>
<path fill="#f00000" d="M627.5 270.4L628.9 270.4L628.9 271.4L627.5 271.4Z"/>
<path fill="#000458" d="M637.1 273.7L644.1 270.6L651.1 268.9L656.4 268.9L659.9 266.7L661.8 266.7L656.4 271.1L647.6 275.0L642.4 275.6L638.9 274.4Z"/>
<path fill="#fff" d="M643.7 273.0L647.6 271.9L648.0 273.0L644.1 274.0Z"/>
<path fill="#f82800" d="M612.1 284.4L623.9 279.4L642.4 273.9L643.1 275.3L624.8 280.9L612.5 286.0Z"/>
<path fill="#f87800" d="M612.1 285.1L621.3 281.8L621.3 282.6L612.5 286.0Z"/>
<path fill="#000458" d="M626.6 277.9L631.8 276.3L632.2 277.4L627.1 278.9Z"/>
<path fill="#f86000" d="M618.2 287.9L630.1 281.6L643.7 275.4L644.3 277.4L631.8 283.3L619.1 289.1Z"/>
<path fill="#f89008" d="M621.3 287.3L630.1 282.6L636.2 280.3L636.8 281.4L631.0 284.4L622.2 288.2Z"/>
<path fill="#f00000" d="M637.1 278.2L643.8 275.4L644.1 276.7L637.8 279.5Z"/>
<path fill="#000458" d="M647.1 289.8L648.2 289.8L648.2 290.9L647.1 290.9Z"/>
<path fill="#000458" d="M648.2 288.6L649.2 288.6L649.2 289.6L648.2 289.6Z"/>
<path fill="#000458" d="M649.2 287.4L650.3 287.4L650.3 288.4L649.2 288.4Z"/>
<path fill="#f00000" d="M650.3 285.1L651.3 285.1L651.3 286.1L650.3 286.1Z"/>
<path fill="#f00000" d="M651.1 284.2L652.2 284.2L652.2 285.3L651.1 285.3Z"/>
<path fill="#f00000" d="M657.8 273.9L658.9 273.9L658.9 274.9L657.8 274.9Z"/>
<path fill="none" stroke="#f00000" stroke-width="2.8" stroke-linejoin="miter" d="M663.2 279.5L659.0 286.6L661.6 286.6L666.8 290.8L674.2 295.8L677.2 303.0L680.0 304.0L680.4 310.5L682.2 313.0L685.8 320.3L691.2 312.0"/>
<path fill="#000458" d="M657.6 286.7L654.3 291.5L661.7 296.2L668.4 300.5L674.0 302.3L675.2 310.3L678.9 310.3L678.9 304.8L676.4 304.1L673.3 296.8L666.0 291.9L661.1 287.6Z"/>
<path fill="#000458" d="M692.4 312.7L695.0 317.9L687.1 326.8L685.0 321.3L681.0 313.0L682.0 312.4L686.2 320.0Z"/>
<path fill="#f00000" d="M711.1 348.9L715.4 346.4L719.7 344.6L718.5 341.5L719.5 339.0L721.0 342.7L722.2 344.6L722.2 348.9L716.7 351.0L711.7 351.0Z"/>
<path fill="#000458" d="M711.7 351.3L716.7 350.7L722.2 349.2L723.0 353.2L721.0 355.6L716.7 355.9L713.6 354.4Z"/>
<path fill="#000458" d="M721.6 355.6L723.4 355.4L727.7 357.5L729.6 360.5L733.2 364.0L732.0 364.8L728.3 361.8L723.4 358.3Z"/>
<path fill="#f00000" d="M722.2 355.9L724.3 356.4L725.0 357.6L723.0 357.1Z"/>
<path fill="#f00000" d="M726.2 356.9L728.4 357.6L729.2 360.0L727.5 359.1Z"/>
<path fill="#f00000" d="M733.2 363.6L736.3 362.4L740.0 361.2L742.5 363.6L745.5 364.2L744.9 366.7L739.4 368.5L735.1 367.3Z"/>
<path fill="#000458" d="M738.8 368.5L742.5 366.1L746.1 366.1L745.6 369.1L743.1 371.6L740.0 370.4Z"/>
<path fill="#f00000" d="M749.2 366.7L751.7 362.4L754.7 365.5L758.4 363.0L762.1 361.8L763.3 357.5L767.0 355.6L768.3 352.2L770.7 353.8L773.8 352.9L775.6 355.0L770.7 358.1L767.0 360.5L765.8 364.2L760.9 367.9L756.0 369.1L752.3 371.6L749.8 370.4Z"/>
<path fill="#000458" d="M752.3 369.1L754.7 366.1L758.4 362.4L759.0 367.7L763.3 364.8L765.8 360.5L770.7 357.5L775.0 355.0L778.7 358.1L775.6 359.9L771.9 361.8L768.3 365.5L768.3 369.1L764.0 370.4L760.9 371.6L757.2 369.1L754.7 374.1L752.9 374.1Z"/>
<path fill="#f00000" d="M760.3 365.7L763.3 364.5L764.3 366.2L761.1 367.7Z"/>
<path fill="#f00000" d="M772.9 359.1L774.6 358.3L775.1 360.0L773.4 361.0Z"/>
<path fill="#f00000" d="M765.8 368.9L767.6 368.6L767.9 370.4L766.0 370.4Z"/>
<path fill="#000458" d="M487.1 310.5L488.8 309.0L491.5 309.6L495.0 311.8L495.9 316.6L499.4 322.3L500.2 326.3L499.4 329.8L496.7 330.6L495.0 326.3L491.0 324.1L490.2 318.8L488.4 313.5Z"/>
<path fill="#f00000" d="M488.0 309.6L489.7 309.2L495.0 314.0L495.9 317.1L493.2 316.6L491.0 313.5Z"/>
<path fill="#f00000" d="M495.0 317.1L496.7 318.8L498.5 324.5L503.3 327.1L502.4 328.9L498.1 327.6L495.9 322.3Z"/>
<path fill="#f00000" d="M491.0 319.7L492.8 320.1L493.0 324.1L491.2 323.2Z"/>
<path fill="#f00000" d="M494.9 330.9L495.9 330.9L495.9 332.0L494.9 332.0Z"/>
<path fill="#f00000" d="M742.0 228.4L744.1 224.9L748.1 223.4L750.2 223.6L747.0 226.8L749.6 229.4L744.4 229.7Z"/>
<path fill="#000458" d="M748.1 225.2L750.2 222.1L751.7 222.1L751.7 223.6L750.7 225.2L752.3 226.8L754.9 226.3L754.9 227.6L751.7 228.6L749.6 227.8L748.1 227.3L747.3 226.8Z"/>
<path fill="#000458" d="M742.8 227.4L743.7 227.4L743.7 228.4L742.8 228.4Z"/>
<rect x="646.2" y="104.2" width="2.6" height="2.6" fill="#000458"/><rect x="647.6" y="104.6" width="1.2" height="1.2" fill="#f00000"/>
<rect x="629.2" y="114" width="2" height="1" fill="#f00000"/>
</g>
<circle cx="667.25" cy="261.75" r="6.2" fill="#fff"/>
<clipPath id="cp2"><rect x="480" y="74.5" width="374.5" height="374.5"/></clipPath>
<path clip-path="url(#cp2)" d="M478.5 147.0L480.1 146.1L495.2 137.9L507.7 128.9L509.6 129.2L509.2 118.9L513.0 118.2L513.3 111.3L516.3 109.1L514.2 105.3L510.8 104.4L509.0 107.3L506.4 104.8L504.7 102.5L506.4 100.4L509.0 99.6L510.8 94.4L513.3 92.3L543.5 90.1L544.4 107.3L548.7 108.2L551.3 106.5L555.2 107.7L557.0 98.2L554.7 97.9L555.9 91.5L560.4 91.0L563.3 87.9L564.2 89.2L562.1 89.8L567.7 93.6L572.0 94.8L577.1 93.9L583.2 97.3L587.5 98.2L591.8 97.0L593.2 95.6L598.7 96.1L606.4 97.9L610.4 99.2L611.1 101.7L614.2 103.6L618.5 103.7L622.5 102.2L623.7 99.6L625.4 101.3L630.7 100.3L635.9 97.2L637.9 95.1L641.0 94.5L644.1 96.1L648.3 95.1L651.4 91.0L654.5 89.9L658.6 93.0L664.2 87.2L657.2 87.9L656.6 86.4L663.8 82.3L670.0 80.2L675.2 81.0L679.3 76.9L681.4 76.1L678.3 79.6L680.3 82.7L684.5 82.7L687.0 79.6L687.6 76.1L689.0 74.5M699.0 74.5L702.0 75.4L711.4 76.1L713.5 83.7L714.1 88.9L716.6 89.5L716.6 94.7L712.4 96.1L710.3 94.7L705.6 96.8L709.3 107.1L718.6 104.4L717.2 100.3L720.7 99.2L724.8 106.1L730.0 103.0L728.4 96.1L732.1 95.1L734.1 101.3L746.6 94.7L742.0 84.8L731.0 89.9L721.7 84.8L732.1 79.6L730.0 74.5M752.0 74.5L748.2 76.9L754.8 77.5L756.9 81.7L749.0 84.3L751.1 89.3L764.1 83.3L762.1 74.5" fill="none" stroke="#000" stroke-width="1.15" stroke-linejoin="round"/>
<rect x="59.0" y="74.5" width="374.5" height="374.5" fill="none" stroke="#000" stroke-width="1.85"/>
<path d="M59.00 74.5v-14.5M59.00 449.0v14.5M59.0 449.00h-15M433.5 449.00h15M152.62 74.5v-14.5M152.62 449.0v14.5M59.0 355.38h-15M433.5 355.38h15M246.25 74.5v-14.5M246.25 449.0v14.5M59.0 261.75h-15M433.5 261.75h15M339.88 74.5v-14.5M339.88 449.0v14.5M59.0 168.12h-15M433.5 168.12h15M433.50 74.5v-14.5M433.50 449.0v14.5M59.0 74.50h-15M433.5 74.50h15" stroke="#000" stroke-width="1.8" fill="none"/>
<path d="M74.60 74.5v-7M74.60 449.0v7M59.0 433.40h-7M433.5 433.40h7M90.21 74.5v-7M90.21 449.0v7M59.0 417.79h-7M433.5 417.79h7M105.81 74.5v-7M105.81 449.0v7M59.0 402.19h-7M433.5 402.19h7M121.42 74.5v-7M121.42 449.0v7M59.0 386.58h-7M433.5 386.58h7M137.02 74.5v-7M137.02 449.0v7M59.0 370.98h-7M433.5 370.98h7M168.23 74.5v-7M168.23 449.0v7M59.0 339.77h-7M433.5 339.77h7M183.83 74.5v-7M183.83 449.0v7M59.0 324.17h-7M433.5 324.17h7M199.44 74.5v-7M199.44 449.0v7M59.0 308.56h-7M433.5 308.56h7M215.04 74.5v-7M215.04 449.0v7M59.0 292.96h-7M433.5 292.96h7M230.65 74.5v-7M230.65 449.0v7M59.0 277.35h-7M433.5 277.35h7M261.85 74.5v-7M261.85 449.0v7M59.0 246.15h-7M433.5 246.15h7M277.46 74.5v-7M277.46 449.0v7M59.0 230.54h-7M433.5 230.54h7M293.06 74.5v-7M293.06 449.0v7M59.0 214.94h-7M433.5 214.94h7M308.67 74.5v-7M308.67 449.0v7M59.0 199.33h-7M433.5 199.33h7M324.27 74.5v-7M324.27 449.0v7M59.0 183.73h-7M433.5 183.73h7M355.48 74.5v-7M355.48 449.0v7M59.0 152.52h-7M433.5 152.52h7M371.08 74.5v-7M371.08 449.0v7M59.0 136.92h-7M433.5 136.92h7M386.69 74.5v-7M386.69 449.0v7M59.0 121.31h-7M433.5 121.31h7M402.29 74.5v-7M402.29 449.0v7M59.0 105.71h-7M433.5 105.71h7M417.90 74.5v-7M417.90 449.0v7M59.0 90.10h-7M433.5 90.10h7" stroke="#000" stroke-width="1.15" fill="none"/>
<rect x="480.0" y="74.5" width="374.5" height="374.5" fill="none" stroke="#000" stroke-width="1.85"/>
<path d="M480.00 74.5v-14.5M480.00 449.0v14.5M480.0 449.00h-15M854.5 449.00h15M573.62 74.5v-14.5M573.62 449.0v14.5M480.0 355.38h-15M854.5 355.38h15M667.25 74.5v-14.5M667.25 449.0v14.5M480.0 261.75h-15M854.5 261.75h15M760.88 74.5v-14.5M760.88 449.0v14.5M480.0 168.12h-15M854.5 168.12h15M854.50 74.5v-14.5M854.50 449.0v14.5M480.0 74.50h-15M854.5 74.50h15" stroke="#000" stroke-width="1.8" fill="none"/>
<path d="M495.60 74.5v-7M495.60 449.0v7M480.0 433.40h-7M854.5 433.40h7M511.21 74.5v-7M511.21 449.0v7M480.0 417.79h-7M854.5 417.79h7M526.81 74.5v-7M526.81 449.0v7M480.0 402.19h-7M854.5 402.19h7M542.42 74.5v-7M542.42 449.0v7M480.0 386.58h-7M854.5 386.58h7M558.02 74.5v-7M558.02 449.0v7M480.0 370.98h-7M854.5 370.98h7M589.23 74.5v-7M589.23 449.0v7M480.0 339.77h-7M854.5 339.77h7M604.83 74.5v-7M604.83 449.0v7M480.0 324.17h-7M854.5 324.17h7M620.44 74.5v-7M620.44 449.0v7M480.0 308.56h-7M854.5 308.56h7M636.04 74.5v-7M636.04 449.0v7M480.0 292.96h-7M854.5 292.96h7M651.65 74.5v-7M651.65 449.0v7M480.0 277.35h-7M854.5 277.35h7M682.85 74.5v-7M682.85 449.0v7M480.0 246.15h-7M854.5 246.15h7M698.46 74.5v-7M698.46 449.0v7M480.0 230.54h-7M854.5 230.54h7M714.06 74.5v-7M714.06 449.0v7M480.0 214.94h-7M854.5 214.94h7M729.67 74.5v-7M729.67 449.0v7M480.0 199.33h-7M854.5 199.33h7M745.27 74.5v-7M745.27 449.0v7M480.0 183.73h-7M854.5 183.73h7M776.48 74.5v-7M776.48 449.0v7M480.0 152.52h-7M854.5 152.52h7M792.08 74.5v-7M792.08 449.0v7M480.0 136.92h-7M854.5 136.92h7M807.69 74.5v-7M807.69 449.0v7M480.0 121.31h-7M854.5 121.31h7M823.29 74.5v-7M823.29 449.0v7M480.0 105.71h-7M854.5 105.71h7M838.90 74.5v-7M838.90 449.0v7M480.0 90.10h-7M854.5 90.10h7" stroke="#000" stroke-width="1.15" fill="none"/>
<text class="k e" x="31.2" y="85.1">6</text>
<text class="k e" x="31.2" y="178.7">3</text>
<text class="k e" x="31.2" y="272.4">0</text>
<text class="k e" x="31.2" y="366.0">−3</text>
<text class="k e" x="31.2" y="459.6">−6</text>
<text class="k m" x="59.0" y="499.3" textLength="32.5" lengthAdjust="spacingAndGlyphs">−6</text>
<text class="k m" x="152.6" y="499.3" textLength="32.5" lengthAdjust="spacingAndGlyphs">−3</text>
<text class="k m" x="246.2" y="499.3">0</text>
<text class="k m" x="339.9" y="499.3">3</text>
<text class="k m" x="433.5" y="499.3">6</text>
<text class="k m" x="480.0" y="499.3" textLength="32.5" lengthAdjust="spacingAndGlyphs">−6</text>
<text class="k m" x="573.6" y="499.3" textLength="32.5" lengthAdjust="spacingAndGlyphs">−3</text>
<text class="k m" x="667.2" y="499.3">0</text>
<text class="k m" x="760.9" y="499.3">3</text>
<text class="k m" x="854.5" y="499.3">6</text>
<rect x="59.00" y="509.0" width="9.10" height="11.5" fill="rgb(0,0,0)" stroke="#000" stroke-width="1.4"/>
<rect x="68.10" y="509.0" width="9.10" height="11.5" fill="rgb(0,0,0)" stroke="#000" stroke-width="1.4"/>
<rect x="77.20" y="509.0" width="9.10" height="11.5" fill="rgb(0,0,0)" stroke="#000" stroke-width="1.4"/>
<rect x="86.30" y="509.0" width="9.10" height="11.5" fill="rgb(0,0,0)" stroke="#000" stroke-width="1.4"/>
<rect x="95.40" y="509.0" width="9.10" height="11.5" fill="rgb(0,0,0)" stroke="#000" stroke-width="1.4"/>
<rect x="104.50" y="509.0" width="9.10" height="11.5" fill="rgb(0,0,0)" stroke="#000" stroke-width="1.4"/>
<rect x="113.60" y="509.0" width="9.10" height="11.5" fill="rgb(0,0,0)" stroke="#000" stroke-width="1.4"/>
<rect x="122.70" y="509.0" width="9.10" height="11.5" fill="rgb(0,0,0)" stroke="#000" stroke-width="1.4"/>
<rect x="131.80" y="509.0" width="9.10" height="11.5" fill="rgb(0,0,0)" stroke="#000" stroke-width="1.4"/>
<rect x="140.90" y="509.0" width="9.10" height="11.5" fill="rgb(0,0,0)" stroke="#000" stroke-width="1.4"/>
<rect x="150.00" y="509.0" width="9.10" height="11.5" fill="rgb(9,9,9)" stroke="#000" stroke-width="1.4"/>
<rect x="159.10" y="509.0" width="9.10" height="11.5" fill="rgb(19,19,19)" stroke="#000" stroke-width="1.4"/>
<rect x="168.20" y="509.0" width="9.10" height="11.5" fill="rgb(28,28,28)" stroke="#000" stroke-width="1.4"/>
<rect x="177.30" y="509.0" width="9.10" height="11.5" fill="rgb(38,38,38)" stroke="#000" stroke-width="1.4"/>
<rect x="186.40" y="509.0" width="9.10" height="11.5" fill="rgb(47,47,47)" stroke="#000" stroke-width="1.4"/>
<rect x="195.50" y="509.0" width="9.10" height="11.5" fill="rgb(57,57,57)" stroke="#000" stroke-width="1.4"/>
<rect x="204.60" y="509.0" width="9.10" height="11.5" fill="rgb(66,66,66)" stroke="#000" stroke-width="1.4"/>
<rect x="213.70" y="509.0" width="9.10" height="11.5" fill="rgb(76,76,76)" stroke="#000" stroke-width="1.4"/>
<rect x="222.80" y="509.0" width="9.10" height="11.5" fill="rgb(85,85,85)" stroke="#000" stroke-width="1.4"/>
<rect x="231.90" y="509.0" width="9.10" height="11.5" fill="rgb(94,94,94)" stroke="#000" stroke-width="1.4"/>
<rect x="241.00" y="509.0" width="9.10" height="11.5" fill="rgb(104,104,104)" stroke="#000" stroke-width="1.4"/>
<rect x="250.10" y="509.0" width="9.10" height="11.5" fill="rgb(113,113,113)" stroke="#000" stroke-width="1.4"/>
<rect x="259.20" y="509.0" width="9.10" height="11.5" fill="rgb(123,123,123)" stroke="#000" stroke-width="1.4"/>
<rect x="268.30" y="509.0" width="9.10" height="11.5" fill="rgb(132,132,132)" stroke="#000" stroke-width="1.4"/>
<rect x="277.40" y="509.0" width="9.10" height="11.5" fill="rgb(142,142,142)" stroke="#000" stroke-width="1.4"/>
<rect x="286.50" y="509.0" width="9.10" height="11.5" fill="rgb(151,151,151)" stroke="#000" stroke-width="1.4"/>
<rect x="295.60" y="509.0" width="9.10" height="11.5" fill="rgb(161,161,161)" stroke="#000" stroke-width="1.4"/>
<rect x="304.70" y="509.0" width="9.10" height="11.5" fill="rgb(170,170,170)" stroke="#000" stroke-width="1.4"/>
<rect x="313.80" y="509.0" width="9.10" height="11.5" fill="rgb(179,179,179)" stroke="#000" stroke-width="1.4"/>
<rect x="322.90" y="509.0" width="9.10" height="11.5" fill="rgb(189,189,189)" stroke="#000" stroke-width="1.4"/>
<rect x="332.00" y="509.0" width="9.10" height="11.5" fill="rgb(198,198,198)" stroke="#000" stroke-width="1.4"/>
<rect x="341.10" y="509.0" width="9.10" height="11.5" fill="rgb(208,208,208)" stroke="#000" stroke-width="1.4"/>
<rect x="350.20" y="509.0" width="9.10" height="11.5" fill="rgb(217,217,217)" stroke="#000" stroke-width="1.4"/>
<rect x="359.30" y="509.0" width="9.10" height="11.5" fill="rgb(227,227,227)" stroke="#000" stroke-width="1.4"/>
<rect x="368.40" y="509.0" width="9.10" height="11.5" fill="rgb(236,236,236)" stroke="#000" stroke-width="1.4"/>
<rect x="377.50" y="509.0" width="9.10" height="11.5" fill="rgb(246,246,246)" stroke="#000" stroke-width="1.4"/>
<path d="M386.60 509.0L396.60 514.75L386.60 520.5Z" fill="#ffff00" stroke="#000" stroke-width="1.2"/>
<path d="M59.00 520.5v13M104.50 520.5v13M150.00 520.5v13M195.50 520.5v13M241.00 520.5v13M286.50 520.5v13M332.00 520.5v13M377.50 520.5v13" stroke="#000" stroke-width="1.6" fill="none"/>
<path d="M68.10 520.5v6M77.20 520.5v6M86.30 520.5v6M95.40 520.5v6M113.60 520.5v6M122.70 520.5v6M131.80 520.5v6M140.90 520.5v6M159.10 520.5v6M168.20 520.5v6M177.30 520.5v6M186.40 520.5v6M204.60 520.5v6M213.70 520.5v6M222.80 520.5v6M231.90 520.5v6M250.10 520.5v6M259.20 520.5v6M268.30 520.5v6M277.40 520.5v6M295.60 520.5v6M304.70 520.5v6M313.80 520.5v6M322.90 520.5v6M341.10 520.5v6M350.20 520.5v6M359.30 520.5v6M368.40 520.5v6M386.60 520.5v6" stroke="#000" stroke-width="1.1" fill="none"/>
<text class="k m" x="59.0" y="571.4">0</text>
<text class="k m" x="104.5" y="571.4">2.5</text>
<text class="k m" x="150.0" y="571.4">5</text>
<text class="k m" x="195.5" y="571.4">7.5</text>
<text class="k m" x="241.0" y="571.4">10</text>
<text class="k m" x="286.5" y="571.4">12.5</text>
<text class="k m" x="332.0" y="571.4">15</text>
<text class="k m" x="377.5" y="571.4">17.5</text>
<rect x="480.12" y="509.0" width="8.62" height="11.5" fill="#c8f8ff" stroke="#000" stroke-width="1.4"/>
<rect x="488.75" y="509.0" width="8.62" height="11.5" fill="#b0f8ff" stroke="#000" stroke-width="1.4"/>
<rect x="497.38" y="509.0" width="8.62" height="11.5" fill="#98f8ff" stroke="#000" stroke-width="1.4"/>
<rect x="506.00" y="509.0" width="8.62" height="11.5" fill="#80f4ff" stroke="#000" stroke-width="1.4"/>
<rect x="514.62" y="509.0" width="8.62" height="11.5" fill="#70f0fc" stroke="#000" stroke-width="1.4"/>
<rect x="523.25" y="509.0" width="8.62" height="11.5" fill="#50e0f8" stroke="#000" stroke-width="1.4"/>
<rect x="531.88" y="509.0" width="8.62" height="11.5" fill="#38c8f8" stroke="#000" stroke-width="1.4"/>
<rect x="540.50" y="509.0" width="8.62" height="11.5" fill="#28b4f8" stroke="#000" stroke-width="1.4"/>
<rect x="549.12" y="509.0" width="8.62" height="11.5" fill="#1898f0" stroke="#000" stroke-width="1.4"/>
<rect x="557.75" y="509.0" width="8.62" height="11.5" fill="#1080f0" stroke="#000" stroke-width="1.4"/>
<rect x="566.38" y="509.0" width="8.62" height="11.5" fill="#1068e8" stroke="#000" stroke-width="1.4"/>
<rect x="575.00" y="509.0" width="8.62" height="11.5" fill="#0848f0" stroke="#000" stroke-width="1.4"/>
<rect x="583.62" y="509.0" width="8.62" height="11.5" fill="#0020f8" stroke="#000" stroke-width="1.4"/>
<rect x="592.25" y="509.0" width="8.62" height="11.5" fill="#0010f0" stroke="#000" stroke-width="1.4"/>
<rect x="600.88" y="509.0" width="8.62" height="11.5" fill="#0008d8" stroke="#000" stroke-width="1.4"/>
<rect x="609.50" y="509.0" width="8.62" height="11.5" fill="#0004b8" stroke="#000" stroke-width="1.4"/>
<rect x="618.12" y="509.0" width="8.62" height="11.5" fill="#000498" stroke="#000" stroke-width="1.4"/>
<rect x="626.75" y="509.0" width="8.62" height="11.5" fill="#000478" stroke="#000" stroke-width="1.4"/>
<rect x="635.38" y="509.0" width="8.62" height="11.5" fill="#000458" stroke="#000" stroke-width="1.4"/>
<rect x="644.00" y="509.0" width="8.62" height="11.5" fill="#f00000" stroke="#000" stroke-width="1.4"/>
<rect x="652.62" y="509.0" width="8.62" height="11.5" fill="#f81000" stroke="#000" stroke-width="1.4"/>
<rect x="661.25" y="509.0" width="8.62" height="11.5" fill="#f82800" stroke="#000" stroke-width="1.4"/>
<rect x="669.88" y="509.0" width="8.62" height="11.5" fill="#f84000" stroke="#000" stroke-width="1.4"/>
<rect x="678.50" y="509.0" width="8.62" height="11.5" fill="#f86000" stroke="#000" stroke-width="1.4"/>
<rect x="687.12" y="509.0" width="8.62" height="11.5" fill="#f87800" stroke="#000" stroke-width="1.4"/>
<rect x="695.75" y="509.0" width="8.62" height="11.5" fill="#f89008" stroke="#000" stroke-width="1.4"/>
<rect x="704.38" y="509.0" width="8.62" height="11.5" fill="#f8a818" stroke="#000" stroke-width="1.4"/>
<rect x="713.00" y="509.0" width="8.62" height="11.5" fill="#f8c028" stroke="#000" stroke-width="1.4"/>
<rect x="721.62" y="509.0" width="8.62" height="11.5" fill="#f8d038" stroke="#000" stroke-width="1.4"/>
<rect x="730.25" y="509.0" width="8.62" height="11.5" fill="#f8e048" stroke="#000" stroke-width="1.4"/>
<rect x="738.88" y="509.0" width="8.62" height="11.5" fill="#f8f850" stroke="#000" stroke-width="1.4"/>
<rect x="747.50" y="509.0" width="8.62" height="11.5" fill="#f8f860" stroke="#000" stroke-width="1.4"/>
<rect x="756.12" y="509.0" width="8.62" height="11.5" fill="#f8f870" stroke="#000" stroke-width="1.4"/>
<rect x="764.75" y="509.0" width="8.62" height="11.5" fill="#f8f888" stroke="#000" stroke-width="1.4"/>
<rect x="773.38" y="509.0" width="8.62" height="11.5" fill="#f8f8a0" stroke="#000" stroke-width="1.4"/>
<rect x="782.00" y="509.0" width="8.62" height="11.5" fill="#f8f8b8" stroke="#000" stroke-width="1.4"/>
<rect x="790.62" y="509.0" width="8.62" height="11.5" fill="#f8f8d0" stroke="#000" stroke-width="1.4"/>
<rect x="799.25" y="509.0" width="8.62" height="11.5" fill="#f8f8e0" stroke="#000" stroke-width="1.4"/>
<path d="M480.12 509.0L470.62 514.75L480.12 520.5Z" fill="#d8f8fa" stroke="#000" stroke-width="1.2"/>
<path d="M807.88 509.0L817.38 514.75L807.88 520.5Z" fill="#fcfcf0" stroke="#000" stroke-width="1.2"/>
<path d="M506.00 520.5v13M575.00 520.5v13M644.00 520.5v13M713.00 520.5v13M782.00 520.5v13" stroke="#000" stroke-width="1.6" fill="none"/>
<path d="M480.12 520.5v6M488.75 520.5v6M497.38 520.5v6M514.62 520.5v6M523.25 520.5v6M531.88 520.5v6M540.50 520.5v6M549.12 520.5v6M557.75 520.5v6M566.38 520.5v6M583.62 520.5v6M592.25 520.5v6M600.88 520.5v6M609.50 520.5v6M618.12 520.5v6M626.75 520.5v6M635.38 520.5v6M652.62 520.5v6M661.25 520.5v6M669.88 520.5v6M678.50 520.5v6M687.12 520.5v6M695.75 520.5v6M704.38 520.5v6M721.62 520.5v6M730.25 520.5v6M738.88 520.5v6M747.50 520.5v6M756.12 520.5v6M764.75 520.5v6M773.38 520.5v6M790.62 520.5v6M799.25 520.5v6M807.88 520.5v6" stroke="#000" stroke-width="1.1" fill="none"/>
<text class="k m" x="506.0" y="571.4" textLength="32.5" lengthAdjust="spacingAndGlyphs">−8</text>
<text class="k m" x="575.0" y="571.4" textLength="32.5" lengthAdjust="spacingAndGlyphs">−4</text>
<text class="k m" x="644.0" y="571.4">0</text>
<text class="k m" x="713.0" y="571.4">4</text>
<text class="k m" x="782.0" y="571.4">8</text>
</svg>
</body>
</html>
